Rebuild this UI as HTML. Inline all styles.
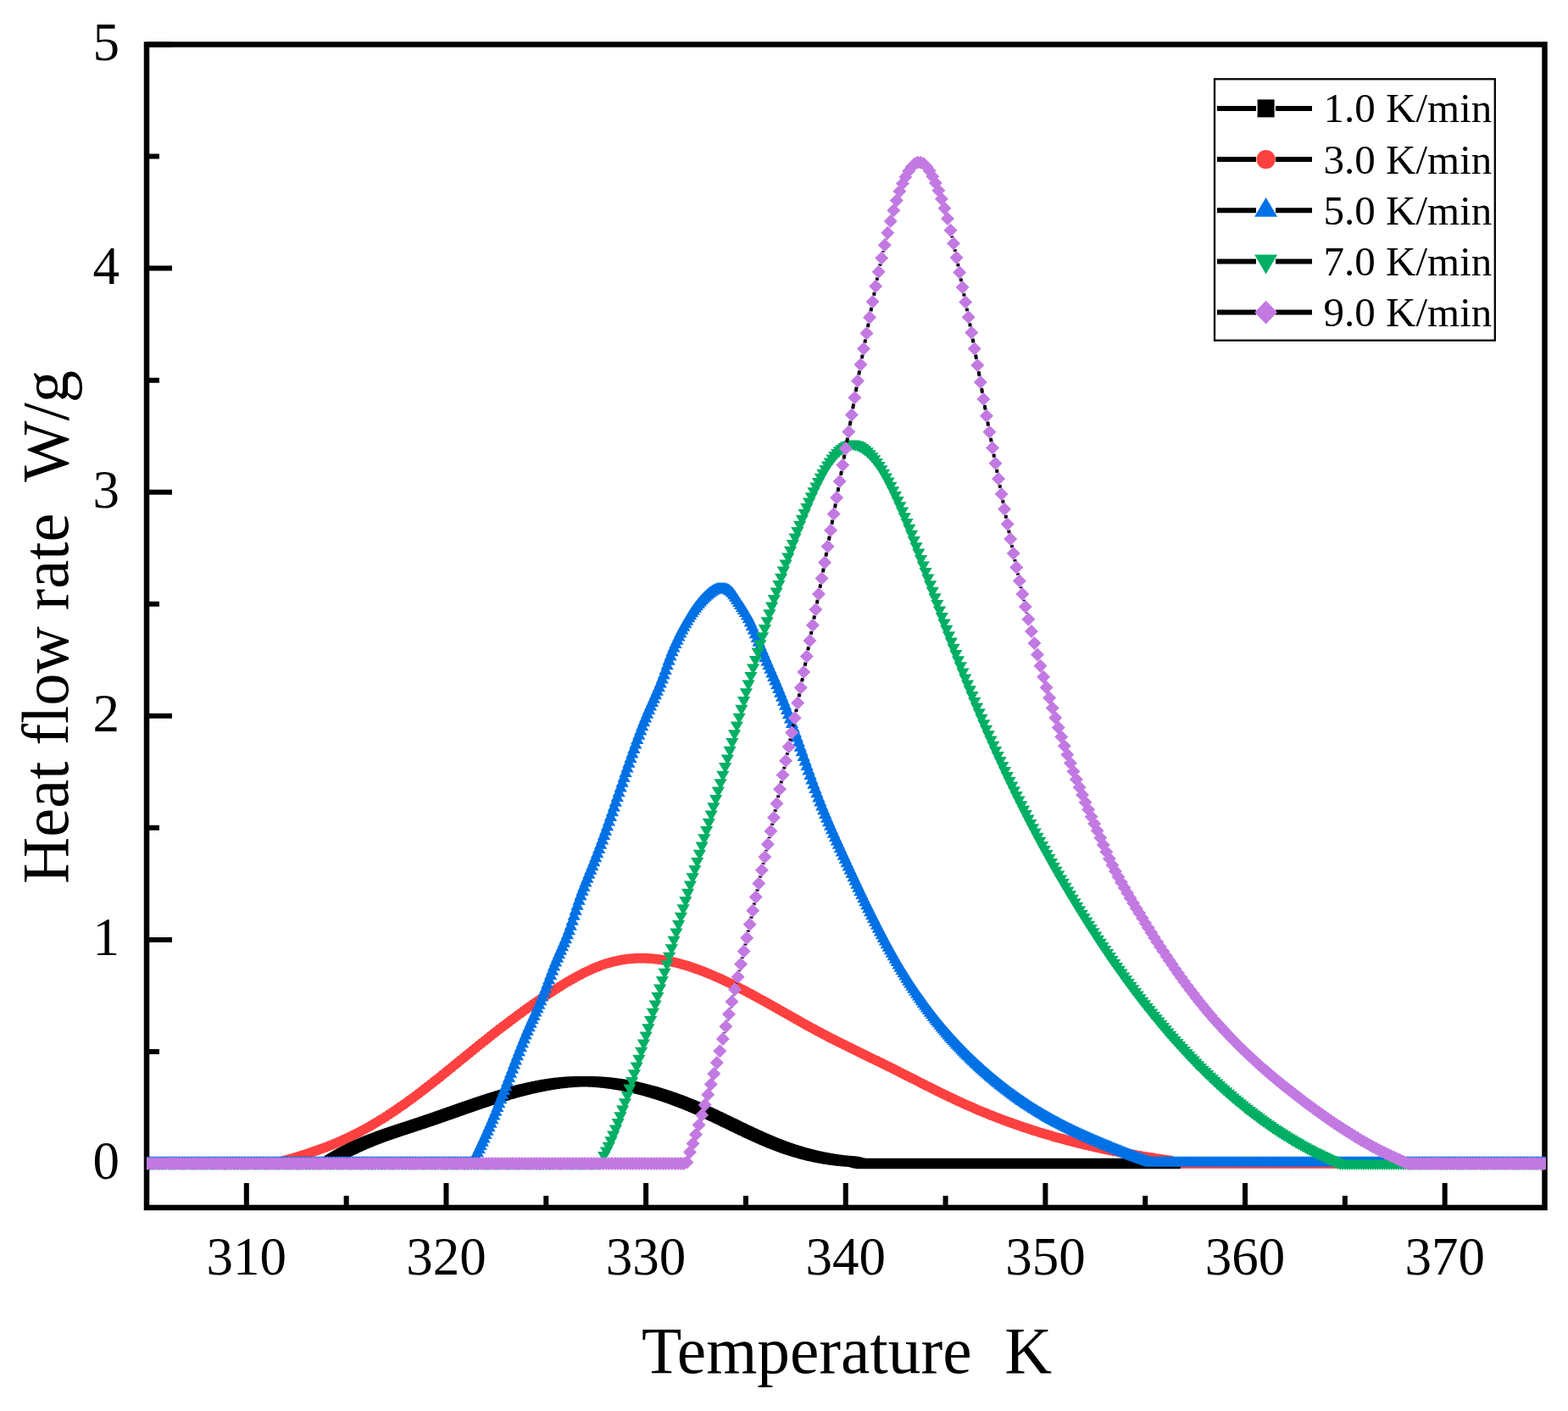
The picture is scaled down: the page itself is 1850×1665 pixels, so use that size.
<!DOCTYPE html>
<html><head><meta charset="utf-8"><title>Heat flow rate vs Temperature</title>
<style>html,body{margin:0;padding:0;background:#fff;overflow:hidden}svg{display:block}text{font-family:"Liberation Serif","Times New Roman",serif}</style>
</head><body>
<svg xmlns="http://www.w3.org/2000/svg" width="1850" height="1665" viewBox="0 0 1850 1665">
<defs><clipPath id="c"><rect x="173" y="52.5" width="1651" height="1372.5"/></clipPath></defs>
<rect width="1850" height="1665" fill="#fff"/>
<rect x="173" y="52.5" width="1649.5" height="1372.5" fill="none" stroke="#000" stroke-width="6.5"/>
<path d="M290.82 1425V1396M526.46 1425V1396M762.1 1425V1396M997.74 1425V1396M1233.38 1425V1396M1469.02 1425V1396M1704.66 1425V1396M408.64 1425V1411M644.28 1425V1411M879.92 1425V1411M1115.56 1425V1411M1351.2 1425V1411M1586.84 1425V1411M173 1373H203M173 1108.9H203M173 844.8H203M173 580.7H203M173 316.6H203M173 52.5H203M173 1240.95H188M173 976.85H188M173 712.75H188M173 448.65H188M173 184.55H188" stroke="#000" stroke-width="6" fill="none"/>
<g clip-path="url(#c)">
<path d="" fill="none" stroke="#000" stroke-width="4"/>
<path d="M166.3 1373a6 6 0 1 0 12 0a6 6 0 1 0 -12 0zM169.83 1373a6 6 0 1 0 12 0a6 6 0 1 0 -12 0zM173.37 1373a6 6 0 1 0 12 0a6 6 0 1 0 -12 0zM176.9 1373a6 6 0 1 0 12 0a6 6 0 1 0 -12 0zM180.44 1373a6 6 0 1 0 12 0a6 6 0 1 0 -12 0zM183.97 1373a6 6 0 1 0 12 0a6 6 0 1 0 -12 0zM187.51 1373a6 6 0 1 0 12 0a6 6 0 1 0 -12 0zM191.04 1373a6 6 0 1 0 12 0a6 6 0 1 0 -12 0zM194.58 1373a6 6 0 1 0 12 0a6 6 0 1 0 -12 0zM198.11 1373a6 6 0 1 0 12 0a6 6 0 1 0 -12 0zM201.65 1373a6 6 0 1 0 12 0a6 6 0 1 0 -12 0zM205.18 1373a6 6 0 1 0 12 0a6 6 0 1 0 -12 0zM208.72 1373a6 6 0 1 0 12 0a6 6 0 1 0 -12 0zM212.25 1373a6 6 0 1 0 12 0a6 6 0 1 0 -12 0zM215.78 1373a6 6 0 1 0 12 0a6 6 0 1 0 -12 0zM219.32 1373a6 6 0 1 0 12 0a6 6 0 1 0 -12 0zM222.85 1373a6 6 0 1 0 12 0a6 6 0 1 0 -12 0zM226.39 1373a6 6 0 1 0 12 0a6 6 0 1 0 -12 0zM229.92 1373a6 6 0 1 0 12 0a6 6 0 1 0 -12 0zM233.46 1373a6 6 0 1 0 12 0a6 6 0 1 0 -12 0zM236.99 1373a6 6 0 1 0 12 0a6 6 0 1 0 -12 0zM240.53 1373a6 6 0 1 0 12 0a6 6 0 1 0 -12 0zM244.06 1373a6 6 0 1 0 12 0a6 6 0 1 0 -12 0zM247.6 1373a6 6 0 1 0 12 0a6 6 0 1 0 -12 0zM251.13 1373a6 6 0 1 0 12 0a6 6 0 1 0 -12 0zM254.67 1373a6 6 0 1 0 12 0a6 6 0 1 0 -12 0zM258.2 1373a6 6 0 1 0 12 0a6 6 0 1 0 -12 0zM261.73 1373a6 6 0 1 0 12 0a6 6 0 1 0 -12 0zM265.27 1373a6 6 0 1 0 12 0a6 6 0 1 0 -12 0zM268.8 1373a6 6 0 1 0 12 0a6 6 0 1 0 -12 0zM272.34 1373a6 6 0 1 0 12 0a6 6 0 1 0 -12 0zM275.87 1373a6 6 0 1 0 12 0a6 6 0 1 0 -12 0zM279.41 1373a6 6 0 1 0 12 0a6 6 0 1 0 -12 0zM282.94 1373a6 6 0 1 0 12 0a6 6 0 1 0 -12 0zM286.48 1373a6 6 0 1 0 12 0a6 6 0 1 0 -12 0zM290.01 1373a6 6 0 1 0 12 0a6 6 0 1 0 -12 0zM293.55 1373a6 6 0 1 0 12 0a6 6 0 1 0 -12 0zM297.08 1373a6 6 0 1 0 12 0a6 6 0 1 0 -12 0zM300.61 1373a6 6 0 1 0 12 0a6 6 0 1 0 -12 0zM304.15 1373a6 6 0 1 0 12 0a6 6 0 1 0 -12 0zM307.68 1373a6 6 0 1 0 12 0a6 6 0 1 0 -12 0zM311.22 1373a6 6 0 1 0 12 0a6 6 0 1 0 -12 0zM314.75 1373a6 6 0 1 0 12 0a6 6 0 1 0 -12 0zM318.29 1372.47a6 6 0 1 0 12 0a6 6 0 1 0 -12 0zM321.82 1371.65a6 6 0 1 0 12 0a6 6 0 1 0 -12 0zM325.36 1370.77a6 6 0 1 0 12 0a6 6 0 1 0 -12 0zM328.89 1369.8a6 6 0 1 0 12 0a6 6 0 1 0 -12 0zM332.43 1368.81a6 6 0 1 0 12 0a6 6 0 1 0 -12 0zM335.96 1367.8a6 6 0 1 0 12 0a6 6 0 1 0 -12 0zM339.5 1366.76a6 6 0 1 0 12 0a6 6 0 1 0 -12 0zM343.03 1365.71a6 6 0 1 0 12 0a6 6 0 1 0 -12 0zM346.56 1364.64a6 6 0 1 0 12 0a6 6 0 1 0 -12 0zM350.1 1363.54a6 6 0 1 0 12 0a6 6 0 1 0 -12 0zM353.63 1362.41a6 6 0 1 0 12 0a6 6 0 1 0 -12 0zM357.17 1361.26a6 6 0 1 0 12 0a6 6 0 1 0 -12 0zM360.7 1360.07a6 6 0 1 0 12 0a6 6 0 1 0 -12 0zM364.24 1358.86a6 6 0 1 0 12 0a6 6 0 1 0 -12 0zM367.77 1357.62a6 6 0 1 0 12 0a6 6 0 1 0 -12 0zM371.31 1356.34a6 6 0 1 0 12 0a6 6 0 1 0 -12 0zM374.84 1355.03a6 6 0 1 0 12 0a6 6 0 1 0 -12 0zM378.38 1353.69a6 6 0 1 0 12 0a6 6 0 1 0 -12 0zM381.91 1352.31a6 6 0 1 0 12 0a6 6 0 1 0 -12 0zM385.45 1350.89a6 6 0 1 0 12 0a6 6 0 1 0 -12 0zM388.98 1349.43a6 6 0 1 0 12 0a6 6 0 1 0 -12 0zM392.51 1347.93a6 6 0 1 0 12 0a6 6 0 1 0 -12 0zM396.05 1346.39a6 6 0 1 0 12 0a6 6 0 1 0 -12 0zM399.58 1344.8a6 6 0 1 0 12 0a6 6 0 1 0 -12 0zM403.12 1343.17a6 6 0 1 0 12 0a6 6 0 1 0 -12 0zM406.65 1341.49a6 6 0 1 0 12 0a6 6 0 1 0 -12 0zM410.19 1339.77a6 6 0 1 0 12 0a6 6 0 1 0 -12 0zM413.72 1338a6 6 0 1 0 12 0a6 6 0 1 0 -12 0zM417.26 1336.18a6 6 0 1 0 12 0a6 6 0 1 0 -12 0zM420.79 1334.3a6 6 0 1 0 12 0a6 6 0 1 0 -12 0zM424.33 1332.38a6 6 0 1 0 12 0a6 6 0 1 0 -12 0zM427.86 1330.41a6 6 0 1 0 12 0a6 6 0 1 0 -12 0zM431.4 1328.4a6 6 0 1 0 12 0a6 6 0 1 0 -12 0zM434.93 1326.34a6 6 0 1 0 12 0a6 6 0 1 0 -12 0zM438.46 1324.23a6 6 0 1 0 12 0a6 6 0 1 0 -12 0zM442 1322.08a6 6 0 1 0 12 0a6 6 0 1 0 -12 0zM445.53 1319.89a6 6 0 1 0 12 0a6 6 0 1 0 -12 0zM449.07 1317.65a6 6 0 1 0 12 0a6 6 0 1 0 -12 0zM452.6 1315.37a6 6 0 1 0 12 0a6 6 0 1 0 -12 0zM456.14 1313.05a6 6 0 1 0 12 0a6 6 0 1 0 -12 0zM459.67 1310.69a6 6 0 1 0 12 0a6 6 0 1 0 -12 0zM463.21 1308.3a6 6 0 1 0 12 0a6 6 0 1 0 -12 0zM466.74 1305.86a6 6 0 1 0 12 0a6 6 0 1 0 -12 0zM470.28 1303.39a6 6 0 1 0 12 0a6 6 0 1 0 -12 0zM473.81 1300.88a6 6 0 1 0 12 0a6 6 0 1 0 -12 0zM477.34 1298.33a6 6 0 1 0 12 0a6 6 0 1 0 -12 0zM480.88 1295.75a6 6 0 1 0 12 0a6 6 0 1 0 -12 0zM484.41 1293.13a6 6 0 1 0 12 0a6 6 0 1 0 -12 0zM487.95 1290.49a6 6 0 1 0 12 0a6 6 0 1 0 -12 0zM491.48 1287.81a6 6 0 1 0 12 0a6 6 0 1 0 -12 0zM495.02 1285.1a6 6 0 1 0 12 0a6 6 0 1 0 -12 0zM498.55 1282.36a6 6 0 1 0 12 0a6 6 0 1 0 -12 0zM502.09 1279.59a6 6 0 1 0 12 0a6 6 0 1 0 -12 0zM505.62 1276.8a6 6 0 1 0 12 0a6 6 0 1 0 -12 0zM509.16 1273.99a6 6 0 1 0 12 0a6 6 0 1 0 -12 0zM512.69 1271.16a6 6 0 1 0 12 0a6 6 0 1 0 -12 0zM516.23 1268.32a6 6 0 1 0 12 0a6 6 0 1 0 -12 0zM519.76 1265.46a6 6 0 1 0 12 0a6 6 0 1 0 -12 0zM523.29 1262.59a6 6 0 1 0 12 0a6 6 0 1 0 -12 0zM526.83 1259.71a6 6 0 1 0 12 0a6 6 0 1 0 -12 0zM530.36 1256.83a6 6 0 1 0 12 0a6 6 0 1 0 -12 0zM533.9 1253.94a6 6 0 1 0 12 0a6 6 0 1 0 -12 0zM537.43 1251.05a6 6 0 1 0 12 0a6 6 0 1 0 -12 0zM540.97 1248.17a6 6 0 1 0 12 0a6 6 0 1 0 -12 0zM544.5 1245.29a6 6 0 1 0 12 0a6 6 0 1 0 -12 0zM548.04 1242.41a6 6 0 1 0 12 0a6 6 0 1 0 -12 0zM551.57 1239.55a6 6 0 1 0 12 0a6 6 0 1 0 -12 0zM555.11 1236.69a6 6 0 1 0 12 0a6 6 0 1 0 -12 0zM558.64 1233.85a6 6 0 1 0 12 0a6 6 0 1 0 -12 0zM562.18 1231.02a6 6 0 1 0 12 0a6 6 0 1 0 -12 0zM565.71 1228.2a6 6 0 1 0 12 0a6 6 0 1 0 -12 0zM569.24 1225.39a6 6 0 1 0 12 0a6 6 0 1 0 -12 0zM572.78 1222.6a6 6 0 1 0 12 0a6 6 0 1 0 -12 0zM576.31 1219.82a6 6 0 1 0 12 0a6 6 0 1 0 -12 0zM579.85 1217.06a6 6 0 1 0 12 0a6 6 0 1 0 -12 0zM583.38 1214.32a6 6 0 1 0 12 0a6 6 0 1 0 -12 0zM586.92 1211.6a6 6 0 1 0 12 0a6 6 0 1 0 -12 0zM590.45 1208.89a6 6 0 1 0 12 0a6 6 0 1 0 -12 0zM593.99 1206.21a6 6 0 1 0 12 0a6 6 0 1 0 -12 0zM597.52 1203.54a6 6 0 1 0 12 0a6 6 0 1 0 -12 0zM601.06 1200.9a6 6 0 1 0 12 0a6 6 0 1 0 -12 0zM604.59 1198.28a6 6 0 1 0 12 0a6 6 0 1 0 -12 0zM608.13 1195.68a6 6 0 1 0 12 0a6 6 0 1 0 -12 0zM611.66 1193.11a6 6 0 1 0 12 0a6 6 0 1 0 -12 0zM615.19 1190.56a6 6 0 1 0 12 0a6 6 0 1 0 -12 0zM618.73 1188.04a6 6 0 1 0 12 0a6 6 0 1 0 -12 0zM622.26 1185.54a6 6 0 1 0 12 0a6 6 0 1 0 -12 0zM625.8 1183.08a6 6 0 1 0 12 0a6 6 0 1 0 -12 0zM629.33 1180.64a6 6 0 1 0 12 0a6 6 0 1 0 -12 0zM632.87 1178.23a6 6 0 1 0 12 0a6 6 0 1 0 -12 0zM636.4 1175.85a6 6 0 1 0 12 0a6 6 0 1 0 -12 0zM639.94 1173.5a6 6 0 1 0 12 0a6 6 0 1 0 -12 0zM643.47 1171.18a6 6 0 1 0 12 0a6 6 0 1 0 -12 0zM647.01 1168.9a6 6 0 1 0 12 0a6 6 0 1 0 -12 0zM650.54 1166.65a6 6 0 1 0 12 0a6 6 0 1 0 -12 0zM654.07 1164.44a6 6 0 1 0 12 0a6 6 0 1 0 -12 0zM657.61 1162.26a6 6 0 1 0 12 0a6 6 0 1 0 -12 0zM661.14 1160.12a6 6 0 1 0 12 0a6 6 0 1 0 -12 0zM664.68 1158.03a6 6 0 1 0 12 0a6 6 0 1 0 -12 0zM668.21 1155.98a6 6 0 1 0 12 0a6 6 0 1 0 -12 0zM671.75 1153.99a6 6 0 1 0 12 0a6 6 0 1 0 -12 0zM675.28 1152.06a6 6 0 1 0 12 0a6 6 0 1 0 -12 0zM678.82 1150.18a6 6 0 1 0 12 0a6 6 0 1 0 -12 0zM682.35 1148.37a6 6 0 1 0 12 0a6 6 0 1 0 -12 0zM685.89 1146.63a6 6 0 1 0 12 0a6 6 0 1 0 -12 0zM689.42 1144.96a6 6 0 1 0 12 0a6 6 0 1 0 -12 0zM692.96 1143.37a6 6 0 1 0 12 0a6 6 0 1 0 -12 0zM696.49 1141.86a6 6 0 1 0 12 0a6 6 0 1 0 -12 0zM700.02 1140.44a6 6 0 1 0 12 0a6 6 0 1 0 -12 0zM703.56 1139.1a6 6 0 1 0 12 0a6 6 0 1 0 -12 0zM707.09 1137.86a6 6 0 1 0 12 0a6 6 0 1 0 -12 0zM710.63 1136.72a6 6 0 1 0 12 0a6 6 0 1 0 -12 0zM714.16 1135.68a6 6 0 1 0 12 0a6 6 0 1 0 -12 0zM717.7 1134.74a6 6 0 1 0 12 0a6 6 0 1 0 -12 0zM721.23 1133.9a6 6 0 1 0 12 0a6 6 0 1 0 -12 0zM724.77 1133.17a6 6 0 1 0 12 0a6 6 0 1 0 -12 0zM728.3 1132.54a6 6 0 1 0 12 0a6 6 0 1 0 -12 0zM731.84 1132.01a6 6 0 1 0 12 0a6 6 0 1 0 -12 0zM735.37 1131.57a6 6 0 1 0 12 0a6 6 0 1 0 -12 0zM738.91 1131.22a6 6 0 1 0 12 0a6 6 0 1 0 -12 0zM742.44 1130.97a6 6 0 1 0 12 0a6 6 0 1 0 -12 0zM745.97 1130.81a6 6 0 1 0 12 0a6 6 0 1 0 -12 0zM749.51 1130.74a6 6 0 1 0 12 0a6 6 0 1 0 -12 0zM753.04 1130.75a6 6 0 1 0 12 0a6 6 0 1 0 -12 0zM756.58 1130.85a6 6 0 1 0 12 0a6 6 0 1 0 -12 0zM760.11 1131.03a6 6 0 1 0 12 0a6 6 0 1 0 -12 0zM763.65 1131.29a6 6 0 1 0 12 0a6 6 0 1 0 -12 0zM767.18 1131.63a6 6 0 1 0 12 0a6 6 0 1 0 -12 0zM770.72 1132.05a6 6 0 1 0 12 0a6 6 0 1 0 -12 0zM774.25 1132.55a6 6 0 1 0 12 0a6 6 0 1 0 -12 0zM777.79 1133.11a6 6 0 1 0 12 0a6 6 0 1 0 -12 0zM781.32 1133.75a6 6 0 1 0 12 0a6 6 0 1 0 -12 0zM784.86 1134.46a6 6 0 1 0 12 0a6 6 0 1 0 -12 0zM788.39 1135.24a6 6 0 1 0 12 0a6 6 0 1 0 -12 0zM791.92 1136.08a6 6 0 1 0 12 0a6 6 0 1 0 -12 0zM795.46 1136.98a6 6 0 1 0 12 0a6 6 0 1 0 -12 0zM798.99 1137.95a6 6 0 1 0 12 0a6 6 0 1 0 -12 0zM802.53 1138.98a6 6 0 1 0 12 0a6 6 0 1 0 -12 0zM806.06 1140.07a6 6 0 1 0 12 0a6 6 0 1 0 -12 0zM809.6 1141.21a6 6 0 1 0 12 0a6 6 0 1 0 -12 0zM813.13 1142.41a6 6 0 1 0 12 0a6 6 0 1 0 -12 0zM816.67 1143.66a6 6 0 1 0 12 0a6 6 0 1 0 -12 0zM820.2 1144.96a6 6 0 1 0 12 0a6 6 0 1 0 -12 0zM823.74 1146.31a6 6 0 1 0 12 0a6 6 0 1 0 -12 0zM827.27 1147.7a6 6 0 1 0 12 0a6 6 0 1 0 -12 0zM830.8 1149.14a6 6 0 1 0 12 0a6 6 0 1 0 -12 0zM834.34 1150.63a6 6 0 1 0 12 0a6 6 0 1 0 -12 0zM837.87 1152.16a6 6 0 1 0 12 0a6 6 0 1 0 -12 0zM841.41 1153.72a6 6 0 1 0 12 0a6 6 0 1 0 -12 0zM844.94 1155.33a6 6 0 1 0 12 0a6 6 0 1 0 -12 0zM848.48 1156.97a6 6 0 1 0 12 0a6 6 0 1 0 -12 0zM852.01 1158.64a6 6 0 1 0 12 0a6 6 0 1 0 -12 0zM855.55 1160.35a6 6 0 1 0 12 0a6 6 0 1 0 -12 0zM859.08 1162.09a6 6 0 1 0 12 0a6 6 0 1 0 -12 0zM862.62 1163.86a6 6 0 1 0 12 0a6 6 0 1 0 -12 0zM866.15 1165.66a6 6 0 1 0 12 0a6 6 0 1 0 -12 0zM869.69 1167.48a6 6 0 1 0 12 0a6 6 0 1 0 -12 0zM873.22 1169.33a6 6 0 1 0 12 0a6 6 0 1 0 -12 0zM876.75 1171.2a6 6 0 1 0 12 0a6 6 0 1 0 -12 0zM880.29 1173.09a6 6 0 1 0 12 0a6 6 0 1 0 -12 0zM883.82 1175a6 6 0 1 0 12 0a6 6 0 1 0 -12 0zM887.36 1176.93a6 6 0 1 0 12 0a6 6 0 1 0 -12 0zM890.89 1178.88a6 6 0 1 0 12 0a6 6 0 1 0 -12 0zM894.43 1180.83a6 6 0 1 0 12 0a6 6 0 1 0 -12 0zM897.96 1182.8a6 6 0 1 0 12 0a6 6 0 1 0 -12 0zM901.5 1184.78a6 6 0 1 0 12 0a6 6 0 1 0 -12 0zM905.03 1186.77a6 6 0 1 0 12 0a6 6 0 1 0 -12 0zM908.57 1188.77a6 6 0 1 0 12 0a6 6 0 1 0 -12 0zM912.1 1190.77a6 6 0 1 0 12 0a6 6 0 1 0 -12 0zM915.64 1192.77a6 6 0 1 0 12 0a6 6 0 1 0 -12 0zM919.17 1194.78a6 6 0 1 0 12 0a6 6 0 1 0 -12 0zM922.7 1196.78a6 6 0 1 0 12 0a6 6 0 1 0 -12 0zM926.24 1198.79a6 6 0 1 0 12 0a6 6 0 1 0 -12 0zM929.77 1200.79a6 6 0 1 0 12 0a6 6 0 1 0 -12 0zM933.31 1202.79a6 6 0 1 0 12 0a6 6 0 1 0 -12 0zM936.84 1204.77a6 6 0 1 0 12 0a6 6 0 1 0 -12 0zM940.38 1206.75a6 6 0 1 0 12 0a6 6 0 1 0 -12 0zM943.91 1208.72a6 6 0 1 0 12 0a6 6 0 1 0 -12 0zM947.45 1210.68a6 6 0 1 0 12 0a6 6 0 1 0 -12 0zM950.98 1212.63a6 6 0 1 0 12 0a6 6 0 1 0 -12 0zM954.52 1214.55a6 6 0 1 0 12 0a6 6 0 1 0 -12 0zM958.05 1216.46a6 6 0 1 0 12 0a6 6 0 1 0 -12 0zM961.59 1218.36a6 6 0 1 0 12 0a6 6 0 1 0 -12 0zM965.12 1220.23a6 6 0 1 0 12 0a6 6 0 1 0 -12 0zM968.65 1222.08a6 6 0 1 0 12 0a6 6 0 1 0 -12 0zM972.19 1223.91a6 6 0 1 0 12 0a6 6 0 1 0 -12 0zM975.72 1225.73a6 6 0 1 0 12 0a6 6 0 1 0 -12 0zM979.26 1227.53a6 6 0 1 0 12 0a6 6 0 1 0 -12 0zM982.79 1229.31a6 6 0 1 0 12 0a6 6 0 1 0 -12 0zM986.33 1231.09a6 6 0 1 0 12 0a6 6 0 1 0 -12 0zM989.86 1232.85a6 6 0 1 0 12 0a6 6 0 1 0 -12 0zM993.4 1234.6a6 6 0 1 0 12 0a6 6 0 1 0 -12 0zM996.93 1236.34a6 6 0 1 0 12 0a6 6 0 1 0 -12 0zM1000.47 1238.08a6 6 0 1 0 12 0a6 6 0 1 0 -12 0zM1004 1239.81a6 6 0 1 0 12 0a6 6 0 1 0 -12 0zM1007.53 1241.53a6 6 0 1 0 12 0a6 6 0 1 0 -12 0zM1011.07 1243.25a6 6 0 1 0 12 0a6 6 0 1 0 -12 0zM1014.6 1244.97a6 6 0 1 0 12 0a6 6 0 1 0 -12 0zM1018.14 1246.69a6 6 0 1 0 12 0a6 6 0 1 0 -12 0zM1021.67 1248.41a6 6 0 1 0 12 0a6 6 0 1 0 -12 0zM1025.21 1250.13a6 6 0 1 0 12 0a6 6 0 1 0 -12 0zM1028.74 1251.85a6 6 0 1 0 12 0a6 6 0 1 0 -12 0zM1032.28 1253.58a6 6 0 1 0 12 0a6 6 0 1 0 -12 0zM1035.81 1255.32a6 6 0 1 0 12 0a6 6 0 1 0 -12 0zM1039.35 1257.06a6 6 0 1 0 12 0a6 6 0 1 0 -12 0zM1042.88 1258.81a6 6 0 1 0 12 0a6 6 0 1 0 -12 0zM1046.42 1260.57a6 6 0 1 0 12 0a6 6 0 1 0 -12 0zM1049.95 1262.34a6 6 0 1 0 12 0a6 6 0 1 0 -12 0zM1053.48 1264.11a6 6 0 1 0 12 0a6 6 0 1 0 -12 0zM1057.02 1265.89a6 6 0 1 0 12 0a6 6 0 1 0 -12 0zM1060.55 1267.68a6 6 0 1 0 12 0a6 6 0 1 0 -12 0zM1064.09 1269.47a6 6 0 1 0 12 0a6 6 0 1 0 -12 0zM1067.62 1271.26a6 6 0 1 0 12 0a6 6 0 1 0 -12 0zM1071.16 1273.05a6 6 0 1 0 12 0a6 6 0 1 0 -12 0zM1074.69 1274.84a6 6 0 1 0 12 0a6 6 0 1 0 -12 0zM1078.23 1276.63a6 6 0 1 0 12 0a6 6 0 1 0 -12 0zM1081.76 1278.42a6 6 0 1 0 12 0a6 6 0 1 0 -12 0zM1085.3 1280.2a6 6 0 1 0 12 0a6 6 0 1 0 -12 0zM1088.83 1281.97a6 6 0 1 0 12 0a6 6 0 1 0 -12 0zM1092.37 1283.74a6 6 0 1 0 12 0a6 6 0 1 0 -12 0zM1095.9 1285.51a6 6 0 1 0 12 0a6 6 0 1 0 -12 0zM1099.43 1287.26a6 6 0 1 0 12 0a6 6 0 1 0 -12 0zM1102.97 1289a6 6 0 1 0 12 0a6 6 0 1 0 -12 0zM1106.5 1290.73a6 6 0 1 0 12 0a6 6 0 1 0 -12 0zM1110.04 1292.45a6 6 0 1 0 12 0a6 6 0 1 0 -12 0zM1113.57 1294.15a6 6 0 1 0 12 0a6 6 0 1 0 -12 0zM1117.11 1295.84a6 6 0 1 0 12 0a6 6 0 1 0 -12 0zM1120.64 1297.51a6 6 0 1 0 12 0a6 6 0 1 0 -12 0zM1124.18 1299.16a6 6 0 1 0 12 0a6 6 0 1 0 -12 0zM1127.71 1300.8a6 6 0 1 0 12 0a6 6 0 1 0 -12 0zM1131.25 1302.41a6 6 0 1 0 12 0a6 6 0 1 0 -12 0zM1134.78 1304a6 6 0 1 0 12 0a6 6 0 1 0 -12 0zM1138.32 1305.57a6 6 0 1 0 12 0a6 6 0 1 0 -12 0zM1141.85 1307.12a6 6 0 1 0 12 0a6 6 0 1 0 -12 0zM1145.38 1308.64a6 6 0 1 0 12 0a6 6 0 1 0 -12 0zM1148.92 1310.15a6 6 0 1 0 12 0a6 6 0 1 0 -12 0zM1152.45 1311.63a6 6 0 1 0 12 0a6 6 0 1 0 -12 0zM1155.99 1313.09a6 6 0 1 0 12 0a6 6 0 1 0 -12 0zM1159.52 1314.52a6 6 0 1 0 12 0a6 6 0 1 0 -12 0zM1163.06 1315.94a6 6 0 1 0 12 0a6 6 0 1 0 -12 0zM1166.59 1317.34a6 6 0 1 0 12 0a6 6 0 1 0 -12 0zM1170.13 1318.71a6 6 0 1 0 12 0a6 6 0 1 0 -12 0zM1173.66 1320.07a6 6 0 1 0 12 0a6 6 0 1 0 -12 0zM1177.2 1321.4a6 6 0 1 0 12 0a6 6 0 1 0 -12 0zM1180.73 1322.71a6 6 0 1 0 12 0a6 6 0 1 0 -12 0zM1184.26 1324.01a6 6 0 1 0 12 0a6 6 0 1 0 -12 0zM1187.8 1325.28a6 6 0 1 0 12 0a6 6 0 1 0 -12 0zM1191.33 1326.53a6 6 0 1 0 12 0a6 6 0 1 0 -12 0zM1194.87 1327.77a6 6 0 1 0 12 0a6 6 0 1 0 -12 0zM1198.4 1328.98a6 6 0 1 0 12 0a6 6 0 1 0 -12 0zM1201.94 1330.18a6 6 0 1 0 12 0a6 6 0 1 0 -12 0zM1205.47 1331.36a6 6 0 1 0 12 0a6 6 0 1 0 -12 0zM1209.01 1332.52a6 6 0 1 0 12 0a6 6 0 1 0 -12 0zM1212.54 1333.66a6 6 0 1 0 12 0a6 6 0 1 0 -12 0zM1216.08 1334.78a6 6 0 1 0 12 0a6 6 0 1 0 -12 0zM1219.61 1335.88a6 6 0 1 0 12 0a6 6 0 1 0 -12 0zM1223.15 1336.97a6 6 0 1 0 12 0a6 6 0 1 0 -12 0zM1226.68 1338.04a6 6 0 1 0 12 0a6 6 0 1 0 -12 0zM1230.21 1339.09a6 6 0 1 0 12 0a6 6 0 1 0 -12 0zM1233.75 1340.12a6 6 0 1 0 12 0a6 6 0 1 0 -12 0zM1237.28 1341.14a6 6 0 1 0 12 0a6 6 0 1 0 -12 0zM1240.82 1342.14a6 6 0 1 0 12 0a6 6 0 1 0 -12 0zM1244.35 1343.12a6 6 0 1 0 12 0a6 6 0 1 0 -12 0zM1247.89 1344.08a6 6 0 1 0 12 0a6 6 0 1 0 -12 0zM1251.42 1345.03a6 6 0 1 0 12 0a6 6 0 1 0 -12 0zM1254.96 1345.97a6 6 0 1 0 12 0a6 6 0 1 0 -12 0zM1258.49 1346.88a6 6 0 1 0 12 0a6 6 0 1 0 -12 0zM1262.03 1347.79a6 6 0 1 0 12 0a6 6 0 1 0 -12 0zM1265.56 1348.67a6 6 0 1 0 12 0a6 6 0 1 0 -12 0zM1269.1 1349.54a6 6 0 1 0 12 0a6 6 0 1 0 -12 0zM1272.63 1350.4a6 6 0 1 0 12 0a6 6 0 1 0 -12 0zM1276.16 1351.24a6 6 0 1 0 12 0a6 6 0 1 0 -12 0zM1279.7 1352.07a6 6 0 1 0 12 0a6 6 0 1 0 -12 0zM1283.23 1352.88a6 6 0 1 0 12 0a6 6 0 1 0 -12 0zM1286.77 1353.67a6 6 0 1 0 12 0a6 6 0 1 0 -12 0zM1290.3 1354.46a6 6 0 1 0 12 0a6 6 0 1 0 -12 0zM1293.84 1355.22a6 6 0 1 0 12 0a6 6 0 1 0 -12 0zM1297.37 1355.98a6 6 0 1 0 12 0a6 6 0 1 0 -12 0zM1300.91 1356.72a6 6 0 1 0 12 0a6 6 0 1 0 -12 0zM1304.44 1357.45a6 6 0 1 0 12 0a6 6 0 1 0 -12 0zM1307.98 1358.16a6 6 0 1 0 12 0a6 6 0 1 0 -12 0zM1311.51 1358.86a6 6 0 1 0 12 0a6 6 0 1 0 -12 0zM1315.05 1359.55a6 6 0 1 0 12 0a6 6 0 1 0 -12 0zM1318.58 1360.23a6 6 0 1 0 12 0a6 6 0 1 0 -12 0zM1322.11 1360.89a6 6 0 1 0 12 0a6 6 0 1 0 -12 0zM1325.65 1361.54a6 6 0 1 0 12 0a6 6 0 1 0 -12 0zM1329.18 1362.18a6 6 0 1 0 12 0a6 6 0 1 0 -12 0zM1332.72 1362.81a6 6 0 1 0 12 0a6 6 0 1 0 -12 0zM1336.25 1363.43a6 6 0 1 0 12 0a6 6 0 1 0 -12 0zM1339.79 1364.03a6 6 0 1 0 12 0a6 6 0 1 0 -12 0zM1343.32 1364.63a6 6 0 1 0 12 0a6 6 0 1 0 -12 0zM1346.86 1365.21a6 6 0 1 0 12 0a6 6 0 1 0 -12 0zM1350.39 1365.78a6 6 0 1 0 12 0a6 6 0 1 0 -12 0zM1353.93 1366.34a6 6 0 1 0 12 0a6 6 0 1 0 -12 0zM1357.46 1366.89a6 6 0 1 0 12 0a6 6 0 1 0 -12 0zM1360.99 1367.43a6 6 0 1 0 12 0a6 6 0 1 0 -12 0zM1364.53 1367.96a6 6 0 1 0 12 0a6 6 0 1 0 -12 0zM1368.06 1368.48a6 6 0 1 0 12 0a6 6 0 1 0 -12 0zM1371.6 1368.99a6 6 0 1 0 12 0a6 6 0 1 0 -12 0zM1375.13 1369.5a6 6 0 1 0 12 0a6 6 0 1 0 -12 0zM1378.67 1370.89a6 6 0 1 0 12 0a6 6 0 1 0 -12 0zM1382.2 1372.29a6 6 0 1 0 12 0a6 6 0 1 0 -12 0zM1385.74 1373a6 6 0 1 0 12 0a6 6 0 1 0 -12 0zM1389.27 1373a6 6 0 1 0 12 0a6 6 0 1 0 -12 0zM1392.81 1373a6 6 0 1 0 12 0a6 6 0 1 0 -12 0zM1396.34 1373a6 6 0 1 0 12 0a6 6 0 1 0 -12 0zM1399.88 1373a6 6 0 1 0 12 0a6 6 0 1 0 -12 0zM1403.41 1373a6 6 0 1 0 12 0a6 6 0 1 0 -12 0zM1406.94 1373a6 6 0 1 0 12 0a6 6 0 1 0 -12 0zM1410.48 1373a6 6 0 1 0 12 0a6 6 0 1 0 -12 0zM1414.01 1373a6 6 0 1 0 12 0a6 6 0 1 0 -12 0zM1417.55 1373a6 6 0 1 0 12 0a6 6 0 1 0 -12 0zM1421.08 1373a6 6 0 1 0 12 0a6 6 0 1 0 -12 0zM1424.62 1373a6 6 0 1 0 12 0a6 6 0 1 0 -12 0zM1428.15 1373a6 6 0 1 0 12 0a6 6 0 1 0 -12 0zM1431.69 1373a6 6 0 1 0 12 0a6 6 0 1 0 -12 0zM1435.22 1373a6 6 0 1 0 12 0a6 6 0 1 0 -12 0zM1438.76 1373a6 6 0 1 0 12 0a6 6 0 1 0 -12 0zM1442.29 1373a6 6 0 1 0 12 0a6 6 0 1 0 -12 0zM1445.83 1373a6 6 0 1 0 12 0a6 6 0 1 0 -12 0zM1449.36 1373a6 6 0 1 0 12 0a6 6 0 1 0 -12 0zM1452.89 1373a6 6 0 1 0 12 0a6 6 0 1 0 -12 0zM1456.43 1373a6 6 0 1 0 12 0a6 6 0 1 0 -12 0zM1459.96 1373a6 6 0 1 0 12 0a6 6 0 1 0 -12 0zM1463.5 1373a6 6 0 1 0 12 0a6 6 0 1 0 -12 0zM1467.03 1373a6 6 0 1 0 12 0a6 6 0 1 0 -12 0zM1470.57 1373a6 6 0 1 0 12 0a6 6 0 1 0 -12 0zM1474.1 1373a6 6 0 1 0 12 0a6 6 0 1 0 -12 0zM1477.64 1373a6 6 0 1 0 12 0a6 6 0 1 0 -12 0zM1481.17 1373a6 6 0 1 0 12 0a6 6 0 1 0 -12 0zM1484.71 1373a6 6 0 1 0 12 0a6 6 0 1 0 -12 0zM1488.24 1373a6 6 0 1 0 12 0a6 6 0 1 0 -12 0zM1491.78 1373a6 6 0 1 0 12 0a6 6 0 1 0 -12 0zM1495.31 1373a6 6 0 1 0 12 0a6 6 0 1 0 -12 0zM1498.84 1373a6 6 0 1 0 12 0a6 6 0 1 0 -12 0zM1502.38 1373a6 6 0 1 0 12 0a6 6 0 1 0 -12 0zM1505.91 1373a6 6 0 1 0 12 0a6 6 0 1 0 -12 0zM1509.45 1373a6 6 0 1 0 12 0a6 6 0 1 0 -12 0zM1512.98 1373a6 6 0 1 0 12 0a6 6 0 1 0 -12 0zM1516.52 1373a6 6 0 1 0 12 0a6 6 0 1 0 -12 0zM1520.05 1373a6 6 0 1 0 12 0a6 6 0 1 0 -12 0zM1523.59 1373a6 6 0 1 0 12 0a6 6 0 1 0 -12 0zM1527.12 1373a6 6 0 1 0 12 0a6 6 0 1 0 -12 0zM1530.66 1373a6 6 0 1 0 12 0a6 6 0 1 0 -12 0zM1534.19 1373a6 6 0 1 0 12 0a6 6 0 1 0 -12 0zM1537.72 1373a6 6 0 1 0 12 0a6 6 0 1 0 -12 0zM1541.26 1373a6 6 0 1 0 12 0a6 6 0 1 0 -12 0zM1544.79 1373a6 6 0 1 0 12 0a6 6 0 1 0 -12 0zM1548.33 1373a6 6 0 1 0 12 0a6 6 0 1 0 -12 0zM1551.86 1373a6 6 0 1 0 12 0a6 6 0 1 0 -12 0zM1555.4 1373a6 6 0 1 0 12 0a6 6 0 1 0 -12 0zM1558.93 1373a6 6 0 1 0 12 0a6 6 0 1 0 -12 0zM1562.47 1373a6 6 0 1 0 12 0a6 6 0 1 0 -12 0zM1566 1373a6 6 0 1 0 12 0a6 6 0 1 0 -12 0zM1569.54 1373a6 6 0 1 0 12 0a6 6 0 1 0 -12 0zM1573.07 1373a6 6 0 1 0 12 0a6 6 0 1 0 -12 0zM1576.61 1373a6 6 0 1 0 12 0a6 6 0 1 0 -12 0zM1580.14 1373a6 6 0 1 0 12 0a6 6 0 1 0 -12 0zM1583.67 1373a6 6 0 1 0 12 0a6 6 0 1 0 -12 0zM1587.21 1373a6 6 0 1 0 12 0a6 6 0 1 0 -12 0zM1590.74 1373a6 6 0 1 0 12 0a6 6 0 1 0 -12 0zM1594.28 1373a6 6 0 1 0 12 0a6 6 0 1 0 -12 0zM1597.81 1373a6 6 0 1 0 12 0a6 6 0 1 0 -12 0zM1601.35 1373a6 6 0 1 0 12 0a6 6 0 1 0 -12 0zM1604.88 1373a6 6 0 1 0 12 0a6 6 0 1 0 -12 0zM1608.42 1373a6 6 0 1 0 12 0a6 6 0 1 0 -12 0zM1611.95 1373a6 6 0 1 0 12 0a6 6 0 1 0 -12 0zM1615.49 1373a6 6 0 1 0 12 0a6 6 0 1 0 -12 0zM1619.02 1373a6 6 0 1 0 12 0a6 6 0 1 0 -12 0zM1622.56 1373a6 6 0 1 0 12 0a6 6 0 1 0 -12 0zM1626.09 1373a6 6 0 1 0 12 0a6 6 0 1 0 -12 0zM1629.62 1373a6 6 0 1 0 12 0a6 6 0 1 0 -12 0zM1633.16 1373a6 6 0 1 0 12 0a6 6 0 1 0 -12 0zM1636.69 1373a6 6 0 1 0 12 0a6 6 0 1 0 -12 0zM1640.23 1373a6 6 0 1 0 12 0a6 6 0 1 0 -12 0zM1643.76 1373a6 6 0 1 0 12 0a6 6 0 1 0 -12 0zM1647.3 1373a6 6 0 1 0 12 0a6 6 0 1 0 -12 0zM1650.83 1373a6 6 0 1 0 12 0a6 6 0 1 0 -12 0zM1654.37 1373a6 6 0 1 0 12 0a6 6 0 1 0 -12 0zM1657.9 1373a6 6 0 1 0 12 0a6 6 0 1 0 -12 0zM1661.44 1373a6 6 0 1 0 12 0a6 6 0 1 0 -12 0zM1664.97 1373a6 6 0 1 0 12 0a6 6 0 1 0 -12 0zM1668.51 1373a6 6 0 1 0 12 0a6 6 0 1 0 -12 0zM1672.04 1373a6 6 0 1 0 12 0a6 6 0 1 0 -12 0zM1675.57 1373a6 6 0 1 0 12 0a6 6 0 1 0 -12 0zM1679.11 1373a6 6 0 1 0 12 0a6 6 0 1 0 -12 0zM1682.64 1373a6 6 0 1 0 12 0a6 6 0 1 0 -12 0zM1686.18 1373a6 6 0 1 0 12 0a6 6 0 1 0 -12 0zM1689.71 1373a6 6 0 1 0 12 0a6 6 0 1 0 -12 0zM1693.25 1373a6 6 0 1 0 12 0a6 6 0 1 0 -12 0zM1696.78 1373a6 6 0 1 0 12 0a6 6 0 1 0 -12 0zM1700.32 1373a6 6 0 1 0 12 0a6 6 0 1 0 -12 0zM1703.85 1373a6 6 0 1 0 12 0a6 6 0 1 0 -12 0zM1707.39 1373a6 6 0 1 0 12 0a6 6 0 1 0 -12 0zM1710.92 1373a6 6 0 1 0 12 0a6 6 0 1 0 -12 0zM1714.45 1373a6 6 0 1 0 12 0a6 6 0 1 0 -12 0zM1717.99 1373a6 6 0 1 0 12 0a6 6 0 1 0 -12 0zM1721.52 1373a6 6 0 1 0 12 0a6 6 0 1 0 -12 0zM1725.06 1373a6 6 0 1 0 12 0a6 6 0 1 0 -12 0zM1728.59 1373a6 6 0 1 0 12 0a6 6 0 1 0 -12 0zM1732.13 1373a6 6 0 1 0 12 0a6 6 0 1 0 -12 0zM1735.66 1373a6 6 0 1 0 12 0a6 6 0 1 0 -12 0zM1739.2 1373a6 6 0 1 0 12 0a6 6 0 1 0 -12 0zM1742.73 1373a6 6 0 1 0 12 0a6 6 0 1 0 -12 0zM1746.27 1373a6 6 0 1 0 12 0a6 6 0 1 0 -12 0zM1749.8 1373a6 6 0 1 0 12 0a6 6 0 1 0 -12 0zM1753.34 1373a6 6 0 1 0 12 0a6 6 0 1 0 -12 0zM1756.87 1373a6 6 0 1 0 12 0a6 6 0 1 0 -12 0zM1760.4 1373a6 6 0 1 0 12 0a6 6 0 1 0 -12 0zM1763.94 1373a6 6 0 1 0 12 0a6 6 0 1 0 -12 0zM1767.47 1373a6 6 0 1 0 12 0a6 6 0 1 0 -12 0zM1771.01 1373a6 6 0 1 0 12 0a6 6 0 1 0 -12 0zM1774.54 1373a6 6 0 1 0 12 0a6 6 0 1 0 -12 0zM1778.08 1373a6 6 0 1 0 12 0a6 6 0 1 0 -12 0zM1781.61 1373a6 6 0 1 0 12 0a6 6 0 1 0 -12 0zM1785.15 1373a6 6 0 1 0 12 0a6 6 0 1 0 -12 0zM1788.68 1373a6 6 0 1 0 12 0a6 6 0 1 0 -12 0zM1792.22 1373a6 6 0 1 0 12 0a6 6 0 1 0 -12 0zM1795.75 1373a6 6 0 1 0 12 0a6 6 0 1 0 -12 0zM1799.29 1373a6 6 0 1 0 12 0a6 6 0 1 0 -12 0zM1802.82 1373a6 6 0 1 0 12 0a6 6 0 1 0 -12 0zM1806.35 1373a6 6 0 1 0 12 0a6 6 0 1 0 -12 0zM1809.89 1373a6 6 0 1 0 12 0a6 6 0 1 0 -12 0zM1813.42 1373a6 6 0 1 0 12 0a6 6 0 1 0 -12 0zM1816.96 1373a6 6 0 1 0 12 0a6 6 0 1 0 -12 0zM1820.49 1373a6 6 0 1 0 12 0a6 6 0 1 0 -12 0zM1824.03 1373a6 6 0 1 0 12 0a6 6 0 1 0 -12 0z" fill="#FF4040"/>
<path d="" fill="none" stroke="#000" stroke-width="4"/>
<path d="M165.9 1366.8h12.4v12.4h-12.4zM166.88 1366.8h12.4v12.4h-12.4zM167.86 1366.8h12.4v12.4h-12.4zM168.85 1366.8h12.4v12.4h-12.4zM169.83 1366.8h12.4v12.4h-12.4zM170.81 1366.8h12.4v12.4h-12.4zM171.79 1366.8h12.4v12.4h-12.4zM172.77 1366.8h12.4v12.4h-12.4zM173.75 1366.8h12.4v12.4h-12.4zM174.74 1366.8h12.4v12.4h-12.4zM175.72 1366.8h12.4v12.4h-12.4zM176.7 1366.8h12.4v12.4h-12.4zM177.68 1366.8h12.4v12.4h-12.4zM178.66 1366.8h12.4v12.4h-12.4zM179.65 1366.8h12.4v12.4h-12.4zM180.63 1366.8h12.4v12.4h-12.4zM181.61 1366.8h12.4v12.4h-12.4zM182.59 1366.8h12.4v12.4h-12.4zM183.57 1366.8h12.4v12.4h-12.4zM184.55 1366.8h12.4v12.4h-12.4zM185.54 1366.8h12.4v12.4h-12.4zM186.52 1366.8h12.4v12.4h-12.4zM187.5 1366.8h12.4v12.4h-12.4zM188.48 1366.8h12.4v12.4h-12.4zM189.46 1366.8h12.4v12.4h-12.4zM190.45 1366.8h12.4v12.4h-12.4zM191.43 1366.8h12.4v12.4h-12.4zM192.41 1366.8h12.4v12.4h-12.4zM193.39 1366.8h12.4v12.4h-12.4zM194.37 1366.8h12.4v12.4h-12.4zM195.35 1366.8h12.4v12.4h-12.4zM196.34 1366.8h12.4v12.4h-12.4zM197.32 1366.8h12.4v12.4h-12.4zM198.3 1366.8h12.4v12.4h-12.4zM199.28 1366.8h12.4v12.4h-12.4zM200.26 1366.8h12.4v12.4h-12.4zM201.25 1366.8h12.4v12.4h-12.4zM202.23 1366.8h12.4v12.4h-12.4zM203.21 1366.8h12.4v12.4h-12.4zM204.19 1366.8h12.4v12.4h-12.4zM205.17 1366.8h12.4v12.4h-12.4zM206.16 1366.8h12.4v12.4h-12.4zM207.14 1366.8h12.4v12.4h-12.4zM208.12 1366.8h12.4v12.4h-12.4zM209.1 1366.8h12.4v12.4h-12.4zM210.08 1366.8h12.4v12.4h-12.4zM211.06 1366.8h12.4v12.4h-12.4zM212.05 1366.8h12.4v12.4h-12.4zM213.03 1366.8h12.4v12.4h-12.4zM214.01 1366.8h12.4v12.4h-12.4zM214.99 1366.8h12.4v12.4h-12.4zM215.97 1366.8h12.4v12.4h-12.4zM216.96 1366.8h12.4v12.4h-12.4zM217.94 1366.8h12.4v12.4h-12.4zM218.92 1366.8h12.4v12.4h-12.4zM219.9 1366.8h12.4v12.4h-12.4zM220.88 1366.8h12.4v12.4h-12.4zM221.86 1366.8h12.4v12.4h-12.4zM222.85 1366.8h12.4v12.4h-12.4zM223.83 1366.8h12.4v12.4h-12.4zM224.81 1366.8h12.4v12.4h-12.4zM225.79 1366.8h12.4v12.4h-12.4zM226.77 1366.8h12.4v12.4h-12.4zM227.76 1366.8h12.4v12.4h-12.4zM228.74 1366.8h12.4v12.4h-12.4zM229.72 1366.8h12.4v12.4h-12.4zM230.7 1366.8h12.4v12.4h-12.4zM231.68 1366.8h12.4v12.4h-12.4zM232.66 1366.8h12.4v12.4h-12.4zM233.65 1366.8h12.4v12.4h-12.4zM234.63 1366.8h12.4v12.4h-12.4zM235.61 1366.8h12.4v12.4h-12.4zM236.59 1366.8h12.4v12.4h-12.4zM237.57 1366.8h12.4v12.4h-12.4zM238.56 1366.8h12.4v12.4h-12.4zM239.54 1366.8h12.4v12.4h-12.4zM240.52 1366.8h12.4v12.4h-12.4zM241.5 1366.8h12.4v12.4h-12.4zM242.48 1366.8h12.4v12.4h-12.4zM243.46 1366.8h12.4v12.4h-12.4zM244.45 1366.8h12.4v12.4h-12.4zM245.43 1366.8h12.4v12.4h-12.4zM246.41 1366.8h12.4v12.4h-12.4zM247.39 1366.8h12.4v12.4h-12.4zM248.37 1366.8h12.4v12.4h-12.4zM249.36 1366.8h12.4v12.4h-12.4zM250.34 1366.8h12.4v12.4h-12.4zM251.32 1366.8h12.4v12.4h-12.4zM252.3 1366.8h12.4v12.4h-12.4zM253.28 1366.8h12.4v12.4h-12.4zM254.26 1366.8h12.4v12.4h-12.4zM255.25 1366.8h12.4v12.4h-12.4zM256.23 1366.8h12.4v12.4h-12.4zM257.21 1366.8h12.4v12.4h-12.4zM258.19 1366.8h12.4v12.4h-12.4zM259.17 1366.8h12.4v12.4h-12.4zM260.16 1366.8h12.4v12.4h-12.4zM261.14 1366.8h12.4v12.4h-12.4zM262.12 1366.8h12.4v12.4h-12.4zM263.1 1366.8h12.4v12.4h-12.4zM264.08 1366.8h12.4v12.4h-12.4zM265.07 1366.8h12.4v12.4h-12.4zM266.05 1366.8h12.4v12.4h-12.4zM267.03 1366.8h12.4v12.4h-12.4zM268.01 1366.8h12.4v12.4h-12.4zM268.99 1366.8h12.4v12.4h-12.4zM269.97 1366.8h12.4v12.4h-12.4zM270.96 1366.8h12.4v12.4h-12.4zM271.94 1366.8h12.4v12.4h-12.4zM272.92 1366.8h12.4v12.4h-12.4zM273.9 1366.8h12.4v12.4h-12.4zM274.88 1366.8h12.4v12.4h-12.4zM275.87 1366.8h12.4v12.4h-12.4zM276.85 1366.8h12.4v12.4h-12.4zM277.83 1366.8h12.4v12.4h-12.4zM278.81 1366.8h12.4v12.4h-12.4zM279.79 1366.8h12.4v12.4h-12.4zM280.77 1366.8h12.4v12.4h-12.4zM281.76 1366.8h12.4v12.4h-12.4zM282.74 1366.8h12.4v12.4h-12.4zM283.72 1366.8h12.4v12.4h-12.4zM284.7 1366.8h12.4v12.4h-12.4zM285.68 1366.8h12.4v12.4h-12.4zM286.67 1366.8h12.4v12.4h-12.4zM287.65 1366.8h12.4v12.4h-12.4zM288.63 1366.8h12.4v12.4h-12.4zM289.61 1366.8h12.4v12.4h-12.4zM290.59 1366.8h12.4v12.4h-12.4zM291.57 1366.8h12.4v12.4h-12.4zM292.56 1366.8h12.4v12.4h-12.4zM293.54 1366.8h12.4v12.4h-12.4zM294.52 1366.8h12.4v12.4h-12.4zM295.5 1366.8h12.4v12.4h-12.4zM296.48 1366.8h12.4v12.4h-12.4zM297.47 1366.8h12.4v12.4h-12.4zM298.45 1366.8h12.4v12.4h-12.4zM299.43 1366.8h12.4v12.4h-12.4zM300.41 1366.8h12.4v12.4h-12.4zM301.39 1366.8h12.4v12.4h-12.4zM302.37 1366.8h12.4v12.4h-12.4zM303.36 1366.8h12.4v12.4h-12.4zM304.34 1366.8h12.4v12.4h-12.4zM305.32 1366.8h12.4v12.4h-12.4zM306.3 1366.8h12.4v12.4h-12.4zM307.28 1366.8h12.4v12.4h-12.4zM308.27 1366.8h12.4v12.4h-12.4zM309.25 1366.8h12.4v12.4h-12.4zM310.23 1366.8h12.4v12.4h-12.4zM311.21 1366.8h12.4v12.4h-12.4zM312.19 1366.8h12.4v12.4h-12.4zM313.17 1366.8h12.4v12.4h-12.4zM314.16 1366.8h12.4v12.4h-12.4zM315.14 1366.8h12.4v12.4h-12.4zM316.12 1366.8h12.4v12.4h-12.4zM317.1 1366.8h12.4v12.4h-12.4zM318.08 1366.8h12.4v12.4h-12.4zM319.07 1366.8h12.4v12.4h-12.4zM320.05 1366.8h12.4v12.4h-12.4zM321.03 1366.8h12.4v12.4h-12.4zM322.01 1366.8h12.4v12.4h-12.4zM322.99 1366.8h12.4v12.4h-12.4zM323.98 1366.8h12.4v12.4h-12.4zM324.96 1366.8h12.4v12.4h-12.4zM325.94 1366.8h12.4v12.4h-12.4zM326.92 1366.8h12.4v12.4h-12.4zM327.9 1366.8h12.4v12.4h-12.4zM328.88 1366.8h12.4v12.4h-12.4zM329.87 1366.8h12.4v12.4h-12.4zM330.85 1366.8h12.4v12.4h-12.4zM331.83 1366.8h12.4v12.4h-12.4zM332.81 1366.8h12.4v12.4h-12.4zM333.79 1366.8h12.4v12.4h-12.4zM334.78 1366.8h12.4v12.4h-12.4zM335.76 1366.8h12.4v12.4h-12.4zM336.74 1366.8h12.4v12.4h-12.4zM337.72 1366.8h12.4v12.4h-12.4zM338.7 1366.8h12.4v12.4h-12.4zM339.68 1366.8h12.4v12.4h-12.4zM340.67 1366.8h12.4v12.4h-12.4zM341.65 1366.8h12.4v12.4h-12.4zM342.63 1366.8h12.4v12.4h-12.4zM343.61 1366.8h12.4v12.4h-12.4zM344.59 1366.8h12.4v12.4h-12.4zM345.58 1366.8h12.4v12.4h-12.4zM346.56 1366.8h12.4v12.4h-12.4zM347.54 1366.8h12.4v12.4h-12.4zM348.52 1366.8h12.4v12.4h-12.4zM349.5 1366.8h12.4v12.4h-12.4zM350.48 1366.8h12.4v12.4h-12.4zM351.47 1366.8h12.4v12.4h-12.4zM352.45 1366.8h12.4v12.4h-12.4zM353.43 1366.8h12.4v12.4h-12.4zM354.41 1366.8h12.4v12.4h-12.4zM355.39 1366.8h12.4v12.4h-12.4zM356.38 1366.8h12.4v12.4h-12.4zM357.36 1366.8h12.4v12.4h-12.4zM358.34 1366.8h12.4v12.4h-12.4zM359.32 1366.8h12.4v12.4h-12.4zM360.3 1366.8h12.4v12.4h-12.4zM361.28 1366.8h12.4v12.4h-12.4zM362.27 1366.8h12.4v12.4h-12.4zM363.25 1366.8h12.4v12.4h-12.4zM364.23 1366.8h12.4v12.4h-12.4zM365.21 1366.8h12.4v12.4h-12.4zM366.19 1366.8h12.4v12.4h-12.4zM367.18 1366.8h12.4v12.4h-12.4zM368.16 1366.8h12.4v12.4h-12.4zM369.14 1366.8h12.4v12.4h-12.4zM370.12 1366.76h12.4v12.4h-12.4zM371.1 1366.65h12.4v12.4h-12.4zM372.08 1366.54h12.4v12.4h-12.4zM373.07 1366.43h12.4v12.4h-12.4zM374.05 1366.31h12.4v12.4h-12.4zM375.03 1366.2h12.4v12.4h-12.4zM376.01 1366.09h12.4v12.4h-12.4zM376.99 1365.98h12.4v12.4h-12.4zM377.98 1365.86h12.4v12.4h-12.4zM378.96 1365.75h12.4v12.4h-12.4zM379.94 1365.56h12.4v12.4h-12.4zM380.92 1364.93h12.4v12.4h-12.4zM381.9 1364.3h12.4v12.4h-12.4zM382.89 1363.67h12.4v12.4h-12.4zM383.87 1363.06h12.4v12.4h-12.4zM384.85 1362.45h12.4v12.4h-12.4zM385.83 1361.84h12.4v12.4h-12.4zM386.81 1361.24h12.4v12.4h-12.4zM387.79 1360.65h12.4v12.4h-12.4zM388.78 1360.07h12.4v12.4h-12.4zM389.76 1359.49h12.4v12.4h-12.4zM390.74 1358.91h12.4v12.4h-12.4zM391.72 1358.34h12.4v12.4h-12.4zM392.7 1357.78h12.4v12.4h-12.4zM393.69 1357.22h12.4v12.4h-12.4zM394.67 1356.67h12.4v12.4h-12.4zM395.65 1356.12h12.4v12.4h-12.4zM396.63 1355.58h12.4v12.4h-12.4zM397.61 1355.05h12.4v12.4h-12.4zM398.59 1354.52h12.4v12.4h-12.4zM399.58 1353.99h12.4v12.4h-12.4zM400.56 1353.47h12.4v12.4h-12.4zM401.54 1352.96h12.4v12.4h-12.4zM402.52 1352.45h12.4v12.4h-12.4zM403.5 1351.94h12.4v12.4h-12.4zM404.49 1351.44h12.4v12.4h-12.4zM405.47 1350.95h12.4v12.4h-12.4zM406.45 1350.46h12.4v12.4h-12.4zM407.43 1349.97h12.4v12.4h-12.4zM408.41 1349.49h12.4v12.4h-12.4zM409.39 1349.02h12.4v12.4h-12.4zM410.38 1348.54h12.4v12.4h-12.4zM411.36 1348.08h12.4v12.4h-12.4zM412.34 1347.61h12.4v12.4h-12.4zM413.32 1347.16h12.4v12.4h-12.4zM414.3 1346.7h12.4v12.4h-12.4zM415.29 1346.25h12.4v12.4h-12.4zM416.27 1345.81h12.4v12.4h-12.4zM417.25 1345.36h12.4v12.4h-12.4zM418.23 1344.93h12.4v12.4h-12.4zM419.21 1344.49h12.4v12.4h-12.4zM420.19 1344.06h12.4v12.4h-12.4zM421.18 1343.63h12.4v12.4h-12.4zM422.16 1343.21h12.4v12.4h-12.4zM423.14 1342.79h12.4v12.4h-12.4zM424.12 1342.38h12.4v12.4h-12.4zM425.1 1341.96h12.4v12.4h-12.4zM426.09 1341.56h12.4v12.4h-12.4zM427.07 1341.15h12.4v12.4h-12.4zM428.05 1340.75h12.4v12.4h-12.4zM429.03 1340.35h12.4v12.4h-12.4zM430.01 1339.96h12.4v12.4h-12.4zM430.99 1339.56h12.4v12.4h-12.4zM431.98 1339.17h12.4v12.4h-12.4zM432.96 1338.79h12.4v12.4h-12.4zM433.94 1338.4h12.4v12.4h-12.4zM434.92 1338.02h12.4v12.4h-12.4zM435.9 1337.65h12.4v12.4h-12.4zM436.89 1337.27h12.4v12.4h-12.4zM437.87 1336.9h12.4v12.4h-12.4zM438.85 1336.53h12.4v12.4h-12.4zM439.83 1336.16h12.4v12.4h-12.4zM440.81 1335.8h12.4v12.4h-12.4zM441.8 1335.44h12.4v12.4h-12.4zM442.78 1335.08h12.4v12.4h-12.4zM443.76 1334.72h12.4v12.4h-12.4zM444.74 1334.36h12.4v12.4h-12.4zM445.72 1334.01h12.4v12.4h-12.4zM446.7 1333.66h12.4v12.4h-12.4zM447.69 1333.31h12.4v12.4h-12.4zM448.67 1332.96h12.4v12.4h-12.4zM449.65 1332.62h12.4v12.4h-12.4zM450.63 1332.27h12.4v12.4h-12.4zM451.61 1331.93h12.4v12.4h-12.4zM452.6 1331.59h12.4v12.4h-12.4zM453.58 1331.25h12.4v12.4h-12.4zM454.56 1330.91h12.4v12.4h-12.4zM455.54 1330.58h12.4v12.4h-12.4zM456.52 1330.24h12.4v12.4h-12.4zM457.5 1329.91h12.4v12.4h-12.4zM458.49 1329.58h12.4v12.4h-12.4zM459.47 1329.25h12.4v12.4h-12.4zM460.45 1328.92h12.4v12.4h-12.4zM461.43 1328.59h12.4v12.4h-12.4zM462.41 1328.26h12.4v12.4h-12.4zM463.4 1327.94h12.4v12.4h-12.4zM464.38 1327.61h12.4v12.4h-12.4zM465.36 1327.29h12.4v12.4h-12.4zM466.34 1326.96h12.4v12.4h-12.4zM467.32 1326.64h12.4v12.4h-12.4zM468.3 1326.32h12.4v12.4h-12.4zM469.29 1326h12.4v12.4h-12.4zM470.27 1325.67h12.4v12.4h-12.4zM471.25 1325.35h12.4v12.4h-12.4zM472.23 1325.03h12.4v12.4h-12.4zM473.21 1324.71h12.4v12.4h-12.4zM474.2 1324.39h12.4v12.4h-12.4zM475.18 1324.07h12.4v12.4h-12.4zM476.16 1323.75h12.4v12.4h-12.4zM477.14 1323.43h12.4v12.4h-12.4zM478.12 1323.11h12.4v12.4h-12.4zM479.1 1322.79h12.4v12.4h-12.4zM480.09 1322.47h12.4v12.4h-12.4zM481.07 1322.15h12.4v12.4h-12.4zM482.05 1321.83h12.4v12.4h-12.4zM483.03 1321.51h12.4v12.4h-12.4zM484.01 1321.18h12.4v12.4h-12.4zM485 1320.86h12.4v12.4h-12.4zM485.98 1320.54h12.4v12.4h-12.4zM486.96 1320.22h12.4v12.4h-12.4zM487.94 1319.89h12.4v12.4h-12.4zM488.92 1319.57h12.4v12.4h-12.4zM489.9 1319.24h12.4v12.4h-12.4zM490.89 1318.91h12.4v12.4h-12.4zM491.87 1318.59h12.4v12.4h-12.4zM492.85 1318.26h12.4v12.4h-12.4zM493.83 1317.93h12.4v12.4h-12.4zM494.81 1317.6h12.4v12.4h-12.4zM495.8 1317.27h12.4v12.4h-12.4zM496.78 1316.93h12.4v12.4h-12.4zM497.76 1316.6h12.4v12.4h-12.4zM498.74 1316.27h12.4v12.4h-12.4zM499.72 1315.93h12.4v12.4h-12.4zM500.71 1315.6h12.4v12.4h-12.4zM501.69 1315.26h12.4v12.4h-12.4zM502.67 1314.92h12.4v12.4h-12.4zM503.65 1314.58h12.4v12.4h-12.4zM504.63 1314.25h12.4v12.4h-12.4zM505.61 1313.91h12.4v12.4h-12.4zM506.6 1313.57h12.4v12.4h-12.4zM507.58 1313.23h12.4v12.4h-12.4zM508.56 1312.89h12.4v12.4h-12.4zM509.54 1312.55h12.4v12.4h-12.4zM510.52 1312.2h12.4v12.4h-12.4zM511.51 1311.86h12.4v12.4h-12.4zM512.49 1311.52h12.4v12.4h-12.4zM513.47 1311.18h12.4v12.4h-12.4zM514.45 1310.83h12.4v12.4h-12.4zM515.43 1310.49h12.4v12.4h-12.4zM516.41 1310.15h12.4v12.4h-12.4zM517.4 1309.8h12.4v12.4h-12.4zM518.38 1309.46h12.4v12.4h-12.4zM519.36 1309.11h12.4v12.4h-12.4zM520.34 1308.77h12.4v12.4h-12.4zM521.32 1308.42h12.4v12.4h-12.4zM522.31 1308.08h12.4v12.4h-12.4zM523.29 1307.73h12.4v12.4h-12.4zM524.27 1307.39h12.4v12.4h-12.4zM525.25 1307.04h12.4v12.4h-12.4zM526.23 1306.7h12.4v12.4h-12.4zM527.21 1306.35h12.4v12.4h-12.4zM528.2 1306.01h12.4v12.4h-12.4zM529.18 1305.66h12.4v12.4h-12.4zM530.16 1305.31h12.4v12.4h-12.4zM531.14 1304.97h12.4v12.4h-12.4zM532.12 1304.62h12.4v12.4h-12.4zM533.11 1304.28h12.4v12.4h-12.4zM534.09 1303.93h12.4v12.4h-12.4zM535.07 1303.59h12.4v12.4h-12.4zM536.05 1303.25h12.4v12.4h-12.4zM537.03 1302.9h12.4v12.4h-12.4zM538.01 1302.56h12.4v12.4h-12.4zM539 1302.21h12.4v12.4h-12.4zM539.98 1301.87h12.4v12.4h-12.4zM540.96 1301.53h12.4v12.4h-12.4zM541.94 1301.19h12.4v12.4h-12.4zM542.92 1300.84h12.4v12.4h-12.4zM543.91 1300.5h12.4v12.4h-12.4zM544.89 1300.16h12.4v12.4h-12.4zM545.87 1299.82h12.4v12.4h-12.4zM546.85 1299.48h12.4v12.4h-12.4zM547.83 1299.14h12.4v12.4h-12.4zM548.81 1298.8h12.4v12.4h-12.4zM549.8 1298.47h12.4v12.4h-12.4zM550.78 1298.13h12.4v12.4h-12.4zM551.76 1297.79h12.4v12.4h-12.4zM552.74 1297.45h12.4v12.4h-12.4zM553.72 1297.12h12.4v12.4h-12.4zM554.71 1296.78h12.4v12.4h-12.4zM555.69 1296.45h12.4v12.4h-12.4zM556.67 1296.12h12.4v12.4h-12.4zM557.65 1295.79h12.4v12.4h-12.4zM558.63 1295.45h12.4v12.4h-12.4zM559.62 1295.12h12.4v12.4h-12.4zM560.6 1294.79h12.4v12.4h-12.4zM561.58 1294.47h12.4v12.4h-12.4zM562.56 1294.14h12.4v12.4h-12.4zM563.54 1293.81h12.4v12.4h-12.4zM564.52 1293.49h12.4v12.4h-12.4zM565.51 1293.16h12.4v12.4h-12.4zM566.49 1292.84h12.4v12.4h-12.4zM567.47 1292.52h12.4v12.4h-12.4zM568.45 1292.19h12.4v12.4h-12.4zM569.43 1291.87h12.4v12.4h-12.4zM570.42 1291.56h12.4v12.4h-12.4zM571.4 1291.24h12.4v12.4h-12.4zM572.38 1290.92h12.4v12.4h-12.4zM573.36 1290.61h12.4v12.4h-12.4zM574.34 1290.29h12.4v12.4h-12.4zM575.32 1289.98h12.4v12.4h-12.4zM576.31 1289.67h12.4v12.4h-12.4zM577.29 1289.36h12.4v12.4h-12.4zM578.27 1289.05h12.4v12.4h-12.4zM579.25 1288.74h12.4v12.4h-12.4zM580.23 1288.44h12.4v12.4h-12.4zM581.22 1288.13h12.4v12.4h-12.4zM582.2 1287.83h12.4v12.4h-12.4zM583.18 1287.53h12.4v12.4h-12.4zM584.16 1287.23h12.4v12.4h-12.4zM585.14 1286.93h12.4v12.4h-12.4zM586.12 1286.64h12.4v12.4h-12.4zM587.11 1286.34h12.4v12.4h-12.4zM588.09 1286.05h12.4v12.4h-12.4zM589.07 1285.76h12.4v12.4h-12.4zM590.05 1285.47h12.4v12.4h-12.4zM591.03 1285.18h12.4v12.4h-12.4zM592.02 1284.9h12.4v12.4h-12.4zM593 1284.62h12.4v12.4h-12.4zM593.98 1284.33h12.4v12.4h-12.4zM594.96 1284.05h12.4v12.4h-12.4zM595.94 1283.78h12.4v12.4h-12.4zM596.92 1283.5h12.4v12.4h-12.4zM597.91 1283.22h12.4v12.4h-12.4zM598.89 1282.95h12.4v12.4h-12.4zM599.87 1282.68h12.4v12.4h-12.4zM600.85 1282.41h12.4v12.4h-12.4zM601.83 1282.15h12.4v12.4h-12.4zM602.82 1281.88h12.4v12.4h-12.4zM603.8 1281.62h12.4v12.4h-12.4zM604.78 1281.36h12.4v12.4h-12.4zM605.76 1281.1h12.4v12.4h-12.4zM606.74 1280.85h12.4v12.4h-12.4zM607.72 1280.6h12.4v12.4h-12.4zM608.71 1280.35h12.4v12.4h-12.4zM609.69 1280.1h12.4v12.4h-12.4zM610.67 1279.85h12.4v12.4h-12.4zM611.65 1279.61h12.4v12.4h-12.4zM612.63 1279.37h12.4v12.4h-12.4zM613.62 1279.13h12.4v12.4h-12.4zM614.6 1278.89h12.4v12.4h-12.4zM615.58 1278.66h12.4v12.4h-12.4zM616.56 1278.42h12.4v12.4h-12.4zM617.54 1278.19h12.4v12.4h-12.4zM618.53 1277.97h12.4v12.4h-12.4zM619.51 1277.74h12.4v12.4h-12.4zM620.49 1277.52h12.4v12.4h-12.4zM621.47 1277.3h12.4v12.4h-12.4zM622.45 1277.09h12.4v12.4h-12.4zM623.43 1276.87h12.4v12.4h-12.4zM624.42 1276.66h12.4v12.4h-12.4zM625.4 1276.45h12.4v12.4h-12.4zM626.38 1276.25h12.4v12.4h-12.4zM627.36 1276.05h12.4v12.4h-12.4zM628.34 1275.85h12.4v12.4h-12.4zM629.33 1275.65h12.4v12.4h-12.4zM630.31 1275.46h12.4v12.4h-12.4zM631.29 1275.26h12.4v12.4h-12.4zM632.27 1275.08h12.4v12.4h-12.4zM633.25 1274.89h12.4v12.4h-12.4zM634.23 1274.71h12.4v12.4h-12.4zM635.22 1274.53h12.4v12.4h-12.4zM636.2 1274.35h12.4v12.4h-12.4zM637.18 1274.18h12.4v12.4h-12.4zM638.16 1274.01h12.4v12.4h-12.4zM639.14 1273.84h12.4v12.4h-12.4zM640.13 1273.68h12.4v12.4h-12.4zM641.11 1273.52h12.4v12.4h-12.4zM642.09 1273.36h12.4v12.4h-12.4zM643.07 1273.21h12.4v12.4h-12.4zM644.05 1273.05h12.4v12.4h-12.4zM645.03 1272.91h12.4v12.4h-12.4zM646.02 1272.76h12.4v12.4h-12.4zM647 1272.62h12.4v12.4h-12.4zM647.98 1272.48h12.4v12.4h-12.4zM648.96 1272.35h12.4v12.4h-12.4zM649.94 1272.22h12.4v12.4h-12.4zM650.93 1272.09h12.4v12.4h-12.4zM651.91 1271.97h12.4v12.4h-12.4zM652.89 1271.85h12.4v12.4h-12.4zM653.87 1271.73h12.4v12.4h-12.4zM654.85 1271.62h12.4v12.4h-12.4zM655.83 1271.51h12.4v12.4h-12.4zM656.82 1271.4h12.4v12.4h-12.4zM657.8 1271.3h12.4v12.4h-12.4zM658.78 1271.2h12.4v12.4h-12.4zM659.76 1271.1h12.4v12.4h-12.4zM660.74 1271.01h12.4v12.4h-12.4zM661.73 1270.92h12.4v12.4h-12.4zM662.71 1270.84h12.4v12.4h-12.4zM663.69 1270.76h12.4v12.4h-12.4zM664.67 1270.68h12.4v12.4h-12.4zM665.65 1270.61h12.4v12.4h-12.4zM666.63 1270.54h12.4v12.4h-12.4zM667.62 1270.48h12.4v12.4h-12.4zM668.6 1270.42h12.4v12.4h-12.4zM669.58 1270.36h12.4v12.4h-12.4zM670.56 1270.31h12.4v12.4h-12.4zM671.54 1270.26h12.4v12.4h-12.4zM672.53 1270.21h12.4v12.4h-12.4zM673.51 1270.17h12.4v12.4h-12.4zM674.49 1270.13h12.4v12.4h-12.4zM675.47 1270.1h12.4v12.4h-12.4zM676.45 1270.07h12.4v12.4h-12.4zM677.44 1270.05h12.4v12.4h-12.4zM678.42 1270.03h12.4v12.4h-12.4zM679.4 1270.01h12.4v12.4h-12.4zM680.38 1270h12.4v12.4h-12.4zM681.36 1269.99h12.4v12.4h-12.4zM682.34 1269.99h12.4v12.4h-12.4zM683.33 1269.99h12.4v12.4h-12.4zM684.31 1269.99h12.4v12.4h-12.4zM685.29 1270h12.4v12.4h-12.4zM686.27 1270.01h12.4v12.4h-12.4zM687.25 1270.03h12.4v12.4h-12.4zM688.24 1270.05h12.4v12.4h-12.4zM689.22 1270.07h12.4v12.4h-12.4zM690.2 1270.1h12.4v12.4h-12.4zM691.18 1270.13h12.4v12.4h-12.4zM692.16 1270.16h12.4v12.4h-12.4zM693.14 1270.2h12.4v12.4h-12.4zM694.13 1270.24h12.4v12.4h-12.4zM695.11 1270.29h12.4v12.4h-12.4zM696.09 1270.34h12.4v12.4h-12.4zM697.07 1270.4h12.4v12.4h-12.4zM698.05 1270.45h12.4v12.4h-12.4zM699.04 1270.52h12.4v12.4h-12.4zM700.02 1270.58h12.4v12.4h-12.4zM701 1270.65h12.4v12.4h-12.4zM701.98 1270.72h12.4v12.4h-12.4zM702.96 1270.8h12.4v12.4h-12.4zM703.94 1270.88h12.4v12.4h-12.4zM704.93 1270.97h12.4v12.4h-12.4zM705.91 1271.05h12.4v12.4h-12.4zM706.89 1271.15h12.4v12.4h-12.4zM707.87 1271.24h12.4v12.4h-12.4zM708.85 1271.34h12.4v12.4h-12.4zM709.84 1271.44h12.4v12.4h-12.4zM710.82 1271.55h12.4v12.4h-12.4zM711.8 1271.66h12.4v12.4h-12.4zM712.78 1271.77h12.4v12.4h-12.4zM713.76 1271.89h12.4v12.4h-12.4zM714.74 1272.01h12.4v12.4h-12.4zM715.73 1272.14h12.4v12.4h-12.4zM716.71 1272.26h12.4v12.4h-12.4zM717.69 1272.4h12.4v12.4h-12.4zM718.67 1272.53h12.4v12.4h-12.4zM719.65 1272.67h12.4v12.4h-12.4zM720.64 1272.81h12.4v12.4h-12.4zM721.62 1272.96h12.4v12.4h-12.4zM722.6 1273.11h12.4v12.4h-12.4zM723.58 1273.26h12.4v12.4h-12.4zM724.56 1273.41h12.4v12.4h-12.4zM725.54 1273.57h12.4v12.4h-12.4zM726.53 1273.74h12.4v12.4h-12.4zM727.51 1273.9h12.4v12.4h-12.4zM728.49 1274.07h12.4v12.4h-12.4zM729.47 1274.24h12.4v12.4h-12.4zM730.45 1274.42h12.4v12.4h-12.4zM731.44 1274.6h12.4v12.4h-12.4zM732.42 1274.78h12.4v12.4h-12.4zM733.4 1274.97h12.4v12.4h-12.4zM734.38 1275.16h12.4v12.4h-12.4zM735.36 1275.35h12.4v12.4h-12.4zM736.35 1275.55h12.4v12.4h-12.4zM737.33 1275.75h12.4v12.4h-12.4zM738.31 1275.95h12.4v12.4h-12.4zM739.29 1276.16h12.4v12.4h-12.4zM740.27 1276.37h12.4v12.4h-12.4zM741.25 1276.58h12.4v12.4h-12.4zM742.24 1276.79h12.4v12.4h-12.4zM743.22 1277.01h12.4v12.4h-12.4zM744.2 1277.24h12.4v12.4h-12.4zM745.18 1277.46h12.4v12.4h-12.4zM746.16 1277.69h12.4v12.4h-12.4zM747.15 1277.92h12.4v12.4h-12.4zM748.13 1278.16h12.4v12.4h-12.4zM749.11 1278.39h12.4v12.4h-12.4zM750.09 1278.63h12.4v12.4h-12.4zM751.07 1278.88h12.4v12.4h-12.4zM752.05 1279.13h12.4v12.4h-12.4zM753.04 1279.38h12.4v12.4h-12.4zM754.02 1279.63h12.4v12.4h-12.4zM755 1279.89h12.4v12.4h-12.4zM755.98 1280.15h12.4v12.4h-12.4zM756.96 1280.41h12.4v12.4h-12.4zM757.95 1280.67h12.4v12.4h-12.4zM758.93 1280.94h12.4v12.4h-12.4zM759.91 1281.21h12.4v12.4h-12.4zM760.89 1281.49h12.4v12.4h-12.4zM761.87 1281.77h12.4v12.4h-12.4zM762.85 1282.05h12.4v12.4h-12.4zM763.84 1282.33h12.4v12.4h-12.4zM764.82 1282.61h12.4v12.4h-12.4zM765.8 1282.9h12.4v12.4h-12.4zM766.78 1283.2h12.4v12.4h-12.4zM767.76 1283.49h12.4v12.4h-12.4zM768.75 1283.79h12.4v12.4h-12.4zM769.73 1284.09h12.4v12.4h-12.4zM770.71 1284.39h12.4v12.4h-12.4zM771.69 1284.7h12.4v12.4h-12.4zM772.67 1285.01h12.4v12.4h-12.4zM773.65 1285.32h12.4v12.4h-12.4zM774.64 1285.63h12.4v12.4h-12.4zM775.62 1285.95h12.4v12.4h-12.4zM776.6 1286.27h12.4v12.4h-12.4zM777.58 1286.59h12.4v12.4h-12.4zM778.56 1286.92h12.4v12.4h-12.4zM779.55 1287.25h12.4v12.4h-12.4zM780.53 1287.58h12.4v12.4h-12.4zM781.51 1287.91h12.4v12.4h-12.4zM782.49 1288.25h12.4v12.4h-12.4zM783.47 1288.59h12.4v12.4h-12.4zM784.45 1288.93h12.4v12.4h-12.4zM785.44 1289.27h12.4v12.4h-12.4zM786.42 1289.62h12.4v12.4h-12.4zM787.4 1289.97h12.4v12.4h-12.4zM788.38 1290.32h12.4v12.4h-12.4zM789.36 1290.68h12.4v12.4h-12.4zM790.35 1291.04h12.4v12.4h-12.4zM791.33 1291.4h12.4v12.4h-12.4zM792.31 1291.76h12.4v12.4h-12.4zM793.29 1292.12h12.4v12.4h-12.4zM794.27 1292.49h12.4v12.4h-12.4zM795.26 1292.86h12.4v12.4h-12.4zM796.24 1293.23h12.4v12.4h-12.4zM797.22 1293.61h12.4v12.4h-12.4zM798.2 1293.99h12.4v12.4h-12.4zM799.18 1294.37h12.4v12.4h-12.4zM800.16 1294.75h12.4v12.4h-12.4zM801.15 1295.13h12.4v12.4h-12.4zM802.13 1295.52h12.4v12.4h-12.4zM803.11 1295.91h12.4v12.4h-12.4zM804.09 1296.3h12.4v12.4h-12.4zM805.07 1296.7h12.4v12.4h-12.4zM806.06 1297.1h12.4v12.4h-12.4zM807.04 1297.49h12.4v12.4h-12.4zM808.02 1297.9h12.4v12.4h-12.4zM809 1298.3h12.4v12.4h-12.4zM809.98 1298.71h12.4v12.4h-12.4zM810.96 1299.12h12.4v12.4h-12.4zM811.95 1299.53h12.4v12.4h-12.4zM812.93 1299.94h12.4v12.4h-12.4zM813.91 1300.36h12.4v12.4h-12.4zM814.89 1300.77h12.4v12.4h-12.4zM815.87 1301.19h12.4v12.4h-12.4zM816.86 1301.62h12.4v12.4h-12.4zM817.84 1302.04h12.4v12.4h-12.4zM818.82 1302.47h12.4v12.4h-12.4zM819.8 1302.89h12.4v12.4h-12.4zM820.78 1303.33h12.4v12.4h-12.4zM821.76 1303.76h12.4v12.4h-12.4zM822.75 1304.19h12.4v12.4h-12.4zM823.73 1304.63h12.4v12.4h-12.4zM824.71 1305.07h12.4v12.4h-12.4zM825.69 1305.51h12.4v12.4h-12.4zM826.67 1305.96h12.4v12.4h-12.4zM827.66 1306.4h12.4v12.4h-12.4zM828.64 1306.85h12.4v12.4h-12.4zM829.62 1307.3h12.4v12.4h-12.4zM830.6 1307.75h12.4v12.4h-12.4zM831.58 1308.2h12.4v12.4h-12.4zM832.56 1308.66h12.4v12.4h-12.4zM833.55 1309.11h12.4v12.4h-12.4zM834.53 1309.57h12.4v12.4h-12.4zM835.51 1310.03h12.4v12.4h-12.4zM836.49 1310.49h12.4v12.4h-12.4zM837.47 1310.95h12.4v12.4h-12.4zM838.46 1311.41h12.4v12.4h-12.4zM839.44 1311.88h12.4v12.4h-12.4zM840.42 1312.34h12.4v12.4h-12.4zM841.4 1312.81h12.4v12.4h-12.4zM842.38 1313.28h12.4v12.4h-12.4zM843.36 1313.75h12.4v12.4h-12.4zM844.35 1314.22h12.4v12.4h-12.4zM845.33 1314.69h12.4v12.4h-12.4zM846.31 1315.16h12.4v12.4h-12.4zM847.29 1315.63h12.4v12.4h-12.4zM848.27 1316.1h12.4v12.4h-12.4zM849.26 1316.57h12.4v12.4h-12.4zM850.24 1317.04h12.4v12.4h-12.4zM851.22 1317.52h12.4v12.4h-12.4zM852.2 1317.99h12.4v12.4h-12.4zM853.18 1318.47h12.4v12.4h-12.4zM854.17 1318.94h12.4v12.4h-12.4zM855.15 1319.42h12.4v12.4h-12.4zM856.13 1319.89h12.4v12.4h-12.4zM857.11 1320.37h12.4v12.4h-12.4zM858.09 1320.84h12.4v12.4h-12.4zM859.07 1321.31h12.4v12.4h-12.4zM860.06 1321.79h12.4v12.4h-12.4zM861.04 1322.26h12.4v12.4h-12.4zM862.02 1322.74h12.4v12.4h-12.4zM863 1323.21h12.4v12.4h-12.4zM863.98 1323.69h12.4v12.4h-12.4zM864.97 1324.16h12.4v12.4h-12.4zM865.95 1324.63h12.4v12.4h-12.4zM866.93 1325.1h12.4v12.4h-12.4zM867.91 1325.57h12.4v12.4h-12.4zM868.89 1326.04h12.4v12.4h-12.4zM869.87 1326.51h12.4v12.4h-12.4zM870.86 1326.98h12.4v12.4h-12.4zM871.84 1327.45h12.4v12.4h-12.4zM872.82 1327.92h12.4v12.4h-12.4zM873.8 1328.38h12.4v12.4h-12.4zM874.78 1328.85h12.4v12.4h-12.4zM875.77 1329.31h12.4v12.4h-12.4zM876.75 1329.78h12.4v12.4h-12.4zM877.73 1330.24h12.4v12.4h-12.4zM878.71 1330.7h12.4v12.4h-12.4zM879.69 1331.16h12.4v12.4h-12.4zM880.67 1331.61h12.4v12.4h-12.4zM881.66 1332.07h12.4v12.4h-12.4zM882.64 1332.52h12.4v12.4h-12.4zM883.62 1332.98h12.4v12.4h-12.4zM884.6 1333.43h12.4v12.4h-12.4zM885.58 1333.88h12.4v12.4h-12.4zM886.57 1334.32h12.4v12.4h-12.4zM887.55 1334.77h12.4v12.4h-12.4zM888.53 1335.21h12.4v12.4h-12.4zM889.51 1335.65h12.4v12.4h-12.4zM890.49 1336.09h12.4v12.4h-12.4zM891.47 1336.53h12.4v12.4h-12.4zM892.46 1336.96h12.4v12.4h-12.4zM893.44 1337.4h12.4v12.4h-12.4zM894.42 1337.83h12.4v12.4h-12.4zM895.4 1338.25h12.4v12.4h-12.4zM896.38 1338.68h12.4v12.4h-12.4zM897.37 1339.1h12.4v12.4h-12.4zM898.35 1339.52h12.4v12.4h-12.4zM899.33 1339.94h12.4v12.4h-12.4zM900.31 1340.35h12.4v12.4h-12.4zM901.29 1340.77h12.4v12.4h-12.4zM902.27 1341.18h12.4v12.4h-12.4zM903.26 1341.58h12.4v12.4h-12.4zM904.24 1341.98h12.4v12.4h-12.4zM905.22 1342.38h12.4v12.4h-12.4zM906.2 1342.78h12.4v12.4h-12.4zM907.18 1343.18h12.4v12.4h-12.4zM908.17 1343.57h12.4v12.4h-12.4zM909.15 1343.95h12.4v12.4h-12.4zM910.13 1344.34h12.4v12.4h-12.4zM911.11 1344.72h12.4v12.4h-12.4zM912.09 1345.1h12.4v12.4h-12.4zM913.08 1345.47h12.4v12.4h-12.4zM914.06 1345.84h12.4v12.4h-12.4zM915.04 1346.21h12.4v12.4h-12.4zM916.02 1346.57h12.4v12.4h-12.4zM917 1346.93h12.4v12.4h-12.4zM917.98 1347.28h12.4v12.4h-12.4zM918.97 1347.64h12.4v12.4h-12.4zM919.95 1347.98h12.4v12.4h-12.4zM920.93 1348.33h12.4v12.4h-12.4zM921.91 1348.67h12.4v12.4h-12.4zM922.89 1349.01h12.4v12.4h-12.4zM923.88 1349.34h12.4v12.4h-12.4zM924.86 1349.67h12.4v12.4h-12.4zM925.84 1350h12.4v12.4h-12.4zM926.82 1350.33h12.4v12.4h-12.4zM927.8 1350.65h12.4v12.4h-12.4zM928.78 1350.96h12.4v12.4h-12.4zM929.77 1351.28h12.4v12.4h-12.4zM930.75 1351.59h12.4v12.4h-12.4zM931.73 1351.89h12.4v12.4h-12.4zM932.71 1352.19h12.4v12.4h-12.4zM933.69 1352.49h12.4v12.4h-12.4zM934.68 1352.79h12.4v12.4h-12.4zM935.66 1353.08h12.4v12.4h-12.4zM936.64 1353.37h12.4v12.4h-12.4zM937.62 1353.65h12.4v12.4h-12.4zM938.6 1353.93h12.4v12.4h-12.4zM939.58 1354.21h12.4v12.4h-12.4zM940.57 1354.49h12.4v12.4h-12.4zM941.55 1354.76h12.4v12.4h-12.4zM942.53 1355.02h12.4v12.4h-12.4zM943.51 1355.29h12.4v12.4h-12.4zM944.49 1355.55h12.4v12.4h-12.4zM945.48 1355.8h12.4v12.4h-12.4zM946.46 1356.06h12.4v12.4h-12.4zM947.44 1356.31h12.4v12.4h-12.4zM948.42 1356.55h12.4v12.4h-12.4zM949.4 1356.79h12.4v12.4h-12.4zM950.38 1357.03h12.4v12.4h-12.4zM951.37 1357.27h12.4v12.4h-12.4zM952.35 1357.5h12.4v12.4h-12.4zM953.33 1357.73h12.4v12.4h-12.4zM954.31 1357.95h12.4v12.4h-12.4zM955.29 1358.17h12.4v12.4h-12.4zM956.28 1358.39h12.4v12.4h-12.4zM957.26 1358.61h12.4v12.4h-12.4zM958.24 1358.82h12.4v12.4h-12.4zM959.22 1359.02h12.4v12.4h-12.4zM960.2 1359.23h12.4v12.4h-12.4zM961.18 1359.43h12.4v12.4h-12.4zM962.17 1359.62h12.4v12.4h-12.4zM963.15 1359.81h12.4v12.4h-12.4zM964.13 1360h12.4v12.4h-12.4zM965.11 1360.19h12.4v12.4h-12.4zM966.09 1360.37h12.4v12.4h-12.4zM967.08 1360.55h12.4v12.4h-12.4zM968.06 1360.72h12.4v12.4h-12.4zM969.04 1360.9h12.4v12.4h-12.4zM970.02 1361.06h12.4v12.4h-12.4zM971 1361.23h12.4v12.4h-12.4zM971.99 1361.39h12.4v12.4h-12.4zM972.97 1361.55h12.4v12.4h-12.4zM973.95 1361.7h12.4v12.4h-12.4zM974.93 1361.85h12.4v12.4h-12.4zM975.91 1362h12.4v12.4h-12.4zM976.89 1362.14h12.4v12.4h-12.4zM977.88 1362.28h12.4v12.4h-12.4zM978.86 1362.42h12.4v12.4h-12.4zM979.84 1362.55h12.4v12.4h-12.4zM980.82 1362.68h12.4v12.4h-12.4zM981.8 1362.8h12.4v12.4h-12.4zM982.79 1362.93h12.4v12.4h-12.4zM983.77 1363.04h12.4v12.4h-12.4zM984.75 1363.16h12.4v12.4h-12.4zM985.73 1363.27h12.4v12.4h-12.4zM986.71 1363.38h12.4v12.4h-12.4zM987.69 1363.48h12.4v12.4h-12.4zM988.68 1363.58h12.4v12.4h-12.4zM989.66 1363.68h12.4v12.4h-12.4zM990.64 1363.77h12.4v12.4h-12.4zM991.62 1363.87h12.4v12.4h-12.4zM992.6 1363.95h12.4v12.4h-12.4zM993.59 1364.04h12.4v12.4h-12.4zM994.57 1364.11h12.4v12.4h-12.4zM995.55 1364.19h12.4v12.4h-12.4zM996.53 1364.26h12.4v12.4h-12.4zM997.51 1364.33h12.4v12.4h-12.4zM998.49 1364.4h12.4v12.4h-12.4zM999.48 1364.46h12.4v12.4h-12.4zM1000.46 1364.65h12.4v12.4h-12.4zM1001.44 1364.87h12.4v12.4h-12.4zM1002.42 1365.1h12.4v12.4h-12.4zM1003.4 1365.33h12.4v12.4h-12.4zM1004.39 1365.55h12.4v12.4h-12.4zM1005.37 1365.78h12.4v12.4h-12.4zM1006.35 1366.01h12.4v12.4h-12.4zM1007.33 1366.23h12.4v12.4h-12.4zM1008.31 1366.46h12.4v12.4h-12.4zM1009.29 1366.68h12.4v12.4h-12.4zM1010.28 1366.8h12.4v12.4h-12.4zM1011.26 1366.8h12.4v12.4h-12.4zM1012.24 1366.8h12.4v12.4h-12.4zM1013.22 1366.8h12.4v12.4h-12.4zM1014.2 1366.8h12.4v12.4h-12.4zM1015.19 1366.8h12.4v12.4h-12.4zM1016.17 1366.8h12.4v12.4h-12.4zM1017.15 1366.8h12.4v12.4h-12.4zM1018.13 1366.8h12.4v12.4h-12.4zM1019.11 1366.8h12.4v12.4h-12.4zM1020.09 1366.8h12.4v12.4h-12.4zM1021.08 1366.8h12.4v12.4h-12.4zM1022.06 1366.8h12.4v12.4h-12.4zM1023.04 1366.8h12.4v12.4h-12.4zM1024.02 1366.8h12.4v12.4h-12.4zM1025 1366.8h12.4v12.4h-12.4zM1025.99 1366.8h12.4v12.4h-12.4zM1026.97 1366.8h12.4v12.4h-12.4zM1027.95 1366.8h12.4v12.4h-12.4zM1028.93 1366.8h12.4v12.4h-12.4zM1029.91 1366.8h12.4v12.4h-12.4zM1030.9 1366.8h12.4v12.4h-12.4zM1031.88 1366.8h12.4v12.4h-12.4zM1032.86 1366.8h12.4v12.4h-12.4zM1033.84 1366.8h12.4v12.4h-12.4zM1034.82 1366.8h12.4v12.4h-12.4zM1035.8 1366.8h12.4v12.4h-12.4zM1036.79 1366.8h12.4v12.4h-12.4zM1037.77 1366.8h12.4v12.4h-12.4zM1038.75 1366.8h12.4v12.4h-12.4zM1039.73 1366.8h12.4v12.4h-12.4zM1040.71 1366.8h12.4v12.4h-12.4zM1041.7 1366.8h12.4v12.4h-12.4zM1042.68 1366.8h12.4v12.4h-12.4zM1043.66 1366.8h12.4v12.4h-12.4zM1044.64 1366.8h12.4v12.4h-12.4zM1045.62 1366.8h12.4v12.4h-12.4zM1046.6 1366.8h12.4v12.4h-12.4zM1047.59 1366.8h12.4v12.4h-12.4zM1048.57 1366.8h12.4v12.4h-12.4zM1049.55 1366.8h12.4v12.4h-12.4zM1050.53 1366.8h12.4v12.4h-12.4zM1051.51 1366.8h12.4v12.4h-12.4zM1052.5 1366.8h12.4v12.4h-12.4zM1053.48 1366.8h12.4v12.4h-12.4zM1054.46 1366.8h12.4v12.4h-12.4zM1055.44 1366.8h12.4v12.4h-12.4zM1056.42 1366.8h12.4v12.4h-12.4zM1057.4 1366.8h12.4v12.4h-12.4zM1058.39 1366.8h12.4v12.4h-12.4zM1059.37 1366.8h12.4v12.4h-12.4zM1060.35 1366.8h12.4v12.4h-12.4zM1061.33 1366.8h12.4v12.4h-12.4zM1062.31 1366.8h12.4v12.4h-12.4zM1063.3 1366.8h12.4v12.4h-12.4zM1064.28 1366.8h12.4v12.4h-12.4zM1065.26 1366.8h12.4v12.4h-12.4zM1066.24 1366.8h12.4v12.4h-12.4zM1067.22 1366.8h12.4v12.4h-12.4zM1068.2 1366.8h12.4v12.4h-12.4zM1069.19 1366.8h12.4v12.4h-12.4zM1070.17 1366.8h12.4v12.4h-12.4zM1071.15 1366.8h12.4v12.4h-12.4zM1072.13 1366.8h12.4v12.4h-12.4zM1073.11 1366.8h12.4v12.4h-12.4zM1074.1 1366.8h12.4v12.4h-12.4zM1075.08 1366.8h12.4v12.4h-12.4zM1076.06 1366.8h12.4v12.4h-12.4zM1077.04 1366.8h12.4v12.4h-12.4zM1078.02 1366.8h12.4v12.4h-12.4zM1079 1366.8h12.4v12.4h-12.4zM1079.99 1366.8h12.4v12.4h-12.4zM1080.97 1366.8h12.4v12.4h-12.4zM1081.95 1366.8h12.4v12.4h-12.4zM1082.93 1366.8h12.4v12.4h-12.4zM1083.91 1366.8h12.4v12.4h-12.4zM1084.9 1366.8h12.4v12.4h-12.4zM1085.88 1366.8h12.4v12.4h-12.4zM1086.86 1366.8h12.4v12.4h-12.4zM1087.84 1366.8h12.4v12.4h-12.4zM1088.82 1366.8h12.4v12.4h-12.4zM1089.81 1366.8h12.4v12.4h-12.4zM1090.79 1366.8h12.4v12.4h-12.4zM1091.77 1366.8h12.4v12.4h-12.4zM1092.75 1366.8h12.4v12.4h-12.4zM1093.73 1366.8h12.4v12.4h-12.4zM1094.71 1366.8h12.4v12.4h-12.4zM1095.7 1366.8h12.4v12.4h-12.4zM1096.68 1366.8h12.4v12.4h-12.4zM1097.66 1366.8h12.4v12.4h-12.4zM1098.64 1366.8h12.4v12.4h-12.4zM1099.62 1366.8h12.4v12.4h-12.4zM1100.61 1366.8h12.4v12.4h-12.4zM1101.59 1366.8h12.4v12.4h-12.4zM1102.57 1366.8h12.4v12.4h-12.4zM1103.55 1366.8h12.4v12.4h-12.4zM1104.53 1366.8h12.4v12.4h-12.4zM1105.51 1366.8h12.4v12.4h-12.4zM1106.5 1366.8h12.4v12.4h-12.4zM1107.48 1366.8h12.4v12.4h-12.4zM1108.46 1366.8h12.4v12.4h-12.4zM1109.44 1366.8h12.4v12.4h-12.4zM1110.42 1366.8h12.4v12.4h-12.4zM1111.41 1366.8h12.4v12.4h-12.4zM1112.39 1366.8h12.4v12.4h-12.4zM1113.37 1366.8h12.4v12.4h-12.4zM1114.35 1366.8h12.4v12.4h-12.4zM1115.33 1366.8h12.4v12.4h-12.4zM1116.31 1366.8h12.4v12.4h-12.4zM1117.3 1366.8h12.4v12.4h-12.4zM1118.28 1366.8h12.4v12.4h-12.4zM1119.26 1366.8h12.4v12.4h-12.4zM1120.24 1366.8h12.4v12.4h-12.4zM1121.22 1366.8h12.4v12.4h-12.4zM1122.21 1366.8h12.4v12.4h-12.4zM1123.19 1366.8h12.4v12.4h-12.4zM1124.17 1366.8h12.4v12.4h-12.4zM1125.15 1366.8h12.4v12.4h-12.4zM1126.13 1366.8h12.4v12.4h-12.4zM1127.11 1366.8h12.4v12.4h-12.4zM1128.1 1366.8h12.4v12.4h-12.4zM1129.08 1366.8h12.4v12.4h-12.4zM1130.06 1366.8h12.4v12.4h-12.4zM1131.04 1366.8h12.4v12.4h-12.4zM1132.02 1366.8h12.4v12.4h-12.4zM1133.01 1366.8h12.4v12.4h-12.4zM1133.99 1366.8h12.4v12.4h-12.4zM1134.97 1366.8h12.4v12.4h-12.4zM1135.95 1366.8h12.4v12.4h-12.4zM1136.93 1366.8h12.4v12.4h-12.4zM1137.91 1366.8h12.4v12.4h-12.4zM1138.9 1366.8h12.4v12.4h-12.4zM1139.88 1366.8h12.4v12.4h-12.4zM1140.86 1366.8h12.4v12.4h-12.4zM1141.84 1366.8h12.4v12.4h-12.4zM1142.82 1366.8h12.4v12.4h-12.4zM1143.81 1366.8h12.4v12.4h-12.4zM1144.79 1366.8h12.4v12.4h-12.4zM1145.77 1366.8h12.4v12.4h-12.4zM1146.75 1366.8h12.4v12.4h-12.4zM1147.73 1366.8h12.4v12.4h-12.4zM1148.72 1366.8h12.4v12.4h-12.4zM1149.7 1366.8h12.4v12.4h-12.4zM1150.68 1366.8h12.4v12.4h-12.4zM1151.66 1366.8h12.4v12.4h-12.4zM1152.64 1366.8h12.4v12.4h-12.4zM1153.62 1366.8h12.4v12.4h-12.4zM1154.61 1366.8h12.4v12.4h-12.4zM1155.59 1366.8h12.4v12.4h-12.4zM1156.57 1366.8h12.4v12.4h-12.4zM1157.55 1366.8h12.4v12.4h-12.4zM1158.53 1366.8h12.4v12.4h-12.4zM1159.52 1366.8h12.4v12.4h-12.4zM1160.5 1366.8h12.4v12.4h-12.4zM1161.48 1366.8h12.4v12.4h-12.4zM1162.46 1366.8h12.4v12.4h-12.4zM1163.44 1366.8h12.4v12.4h-12.4zM1164.42 1366.8h12.4v12.4h-12.4zM1165.41 1366.8h12.4v12.4h-12.4zM1166.39 1366.8h12.4v12.4h-12.4zM1167.37 1366.8h12.4v12.4h-12.4zM1168.35 1366.8h12.4v12.4h-12.4zM1169.33 1366.8h12.4v12.4h-12.4zM1170.32 1366.8h12.4v12.4h-12.4zM1171.3 1366.8h12.4v12.4h-12.4zM1172.28 1366.8h12.4v12.4h-12.4zM1173.26 1366.8h12.4v12.4h-12.4zM1174.24 1366.8h12.4v12.4h-12.4zM1175.22 1366.8h12.4v12.4h-12.4zM1176.21 1366.8h12.4v12.4h-12.4zM1177.19 1366.8h12.4v12.4h-12.4zM1178.17 1366.8h12.4v12.4h-12.4zM1179.15 1366.8h12.4v12.4h-12.4zM1180.13 1366.8h12.4v12.4h-12.4zM1181.12 1366.8h12.4v12.4h-12.4zM1182.1 1366.8h12.4v12.4h-12.4zM1183.08 1366.8h12.4v12.4h-12.4zM1184.06 1366.8h12.4v12.4h-12.4zM1185.04 1366.8h12.4v12.4h-12.4zM1186.02 1366.8h12.4v12.4h-12.4zM1187.01 1366.8h12.4v12.4h-12.4zM1187.99 1366.8h12.4v12.4h-12.4zM1188.97 1366.8h12.4v12.4h-12.4zM1189.95 1366.8h12.4v12.4h-12.4zM1190.93 1366.8h12.4v12.4h-12.4zM1191.92 1366.8h12.4v12.4h-12.4zM1192.9 1366.8h12.4v12.4h-12.4zM1193.88 1366.8h12.4v12.4h-12.4zM1194.86 1366.8h12.4v12.4h-12.4zM1195.84 1366.8h12.4v12.4h-12.4zM1196.82 1366.8h12.4v12.4h-12.4zM1197.81 1366.8h12.4v12.4h-12.4zM1198.79 1366.8h12.4v12.4h-12.4zM1199.77 1366.8h12.4v12.4h-12.4zM1200.75 1366.8h12.4v12.4h-12.4zM1201.73 1366.8h12.4v12.4h-12.4zM1202.72 1366.8h12.4v12.4h-12.4zM1203.7 1366.8h12.4v12.4h-12.4zM1204.68 1366.8h12.4v12.4h-12.4zM1205.66 1366.8h12.4v12.4h-12.4zM1206.64 1366.8h12.4v12.4h-12.4zM1207.63 1366.8h12.4v12.4h-12.4zM1208.61 1366.8h12.4v12.4h-12.4zM1209.59 1366.8h12.4v12.4h-12.4zM1210.57 1366.8h12.4v12.4h-12.4zM1211.55 1366.8h12.4v12.4h-12.4zM1212.53 1366.8h12.4v12.4h-12.4zM1213.52 1366.8h12.4v12.4h-12.4zM1214.5 1366.8h12.4v12.4h-12.4zM1215.48 1366.8h12.4v12.4h-12.4zM1216.46 1366.8h12.4v12.4h-12.4zM1217.44 1366.8h12.4v12.4h-12.4zM1218.43 1366.8h12.4v12.4h-12.4zM1219.41 1366.8h12.4v12.4h-12.4zM1220.39 1366.8h12.4v12.4h-12.4zM1221.37 1366.8h12.4v12.4h-12.4zM1222.35 1366.8h12.4v12.4h-12.4zM1223.33 1366.8h12.4v12.4h-12.4zM1224.32 1366.8h12.4v12.4h-12.4zM1225.3 1366.8h12.4v12.4h-12.4zM1226.28 1366.8h12.4v12.4h-12.4zM1227.26 1366.8h12.4v12.4h-12.4zM1228.24 1366.8h12.4v12.4h-12.4zM1229.23 1366.8h12.4v12.4h-12.4zM1230.21 1366.8h12.4v12.4h-12.4zM1231.19 1366.8h12.4v12.4h-12.4zM1232.17 1366.8h12.4v12.4h-12.4zM1233.15 1366.8h12.4v12.4h-12.4zM1234.13 1366.8h12.4v12.4h-12.4zM1235.12 1366.8h12.4v12.4h-12.4zM1236.1 1366.8h12.4v12.4h-12.4zM1237.08 1366.8h12.4v12.4h-12.4zM1238.06 1366.8h12.4v12.4h-12.4zM1239.04 1366.8h12.4v12.4h-12.4zM1240.03 1366.8h12.4v12.4h-12.4zM1241.01 1366.8h12.4v12.4h-12.4zM1241.99 1366.8h12.4v12.4h-12.4zM1242.97 1366.8h12.4v12.4h-12.4zM1243.95 1366.8h12.4v12.4h-12.4zM1244.93 1366.8h12.4v12.4h-12.4zM1245.92 1366.8h12.4v12.4h-12.4zM1246.9 1366.8h12.4v12.4h-12.4zM1247.88 1366.8h12.4v12.4h-12.4zM1248.86 1366.8h12.4v12.4h-12.4zM1249.84 1366.8h12.4v12.4h-12.4zM1250.83 1366.8h12.4v12.4h-12.4zM1251.81 1366.8h12.4v12.4h-12.4zM1252.79 1366.8h12.4v12.4h-12.4zM1253.77 1366.8h12.4v12.4h-12.4zM1254.75 1366.8h12.4v12.4h-12.4zM1255.73 1366.8h12.4v12.4h-12.4zM1256.72 1366.8h12.4v12.4h-12.4zM1257.7 1366.8h12.4v12.4h-12.4zM1258.68 1366.8h12.4v12.4h-12.4zM1259.66 1366.8h12.4v12.4h-12.4zM1260.64 1366.8h12.4v12.4h-12.4zM1261.63 1366.8h12.4v12.4h-12.4zM1262.61 1366.8h12.4v12.4h-12.4zM1263.59 1366.8h12.4v12.4h-12.4zM1264.57 1366.8h12.4v12.4h-12.4zM1265.55 1366.8h12.4v12.4h-12.4zM1266.54 1366.8h12.4v12.4h-12.4zM1267.52 1366.8h12.4v12.4h-12.4zM1268.5 1366.8h12.4v12.4h-12.4zM1269.48 1366.8h12.4v12.4h-12.4zM1270.46 1366.8h12.4v12.4h-12.4zM1271.44 1366.8h12.4v12.4h-12.4zM1272.43 1366.8h12.4v12.4h-12.4zM1273.41 1366.8h12.4v12.4h-12.4zM1274.39 1366.8h12.4v12.4h-12.4zM1275.37 1366.8h12.4v12.4h-12.4zM1276.35 1366.8h12.4v12.4h-12.4zM1277.34 1366.8h12.4v12.4h-12.4zM1278.32 1366.8h12.4v12.4h-12.4zM1279.3 1366.8h12.4v12.4h-12.4zM1280.28 1366.8h12.4v12.4h-12.4zM1281.26 1366.8h12.4v12.4h-12.4zM1282.24 1366.8h12.4v12.4h-12.4zM1283.23 1366.8h12.4v12.4h-12.4zM1284.21 1366.8h12.4v12.4h-12.4zM1285.19 1366.8h12.4v12.4h-12.4zM1286.17 1366.8h12.4v12.4h-12.4zM1287.15 1366.8h12.4v12.4h-12.4zM1288.14 1366.8h12.4v12.4h-12.4zM1289.12 1366.8h12.4v12.4h-12.4zM1290.1 1366.8h12.4v12.4h-12.4zM1291.08 1366.8h12.4v12.4h-12.4zM1292.06 1366.8h12.4v12.4h-12.4zM1293.04 1366.8h12.4v12.4h-12.4zM1294.03 1366.8h12.4v12.4h-12.4zM1295.01 1366.8h12.4v12.4h-12.4zM1295.99 1366.8h12.4v12.4h-12.4zM1296.97 1366.8h12.4v12.4h-12.4zM1297.95 1366.8h12.4v12.4h-12.4zM1298.94 1366.8h12.4v12.4h-12.4zM1299.92 1366.8h12.4v12.4h-12.4zM1300.9 1366.8h12.4v12.4h-12.4zM1301.88 1366.8h12.4v12.4h-12.4zM1302.86 1366.8h12.4v12.4h-12.4zM1303.84 1366.8h12.4v12.4h-12.4zM1304.83 1366.8h12.4v12.4h-12.4zM1305.81 1366.8h12.4v12.4h-12.4zM1306.79 1366.8h12.4v12.4h-12.4zM1307.77 1366.8h12.4v12.4h-12.4zM1308.75 1366.8h12.4v12.4h-12.4zM1309.74 1366.8h12.4v12.4h-12.4zM1310.72 1366.8h12.4v12.4h-12.4zM1311.7 1366.8h12.4v12.4h-12.4zM1312.68 1366.8h12.4v12.4h-12.4zM1313.66 1366.8h12.4v12.4h-12.4zM1314.64 1366.8h12.4v12.4h-12.4zM1315.63 1366.8h12.4v12.4h-12.4zM1316.61 1366.8h12.4v12.4h-12.4zM1317.59 1366.8h12.4v12.4h-12.4zM1318.57 1366.8h12.4v12.4h-12.4zM1319.55 1366.8h12.4v12.4h-12.4zM1320.54 1366.8h12.4v12.4h-12.4zM1321.52 1366.8h12.4v12.4h-12.4zM1322.5 1366.8h12.4v12.4h-12.4zM1323.48 1366.8h12.4v12.4h-12.4zM1324.46 1366.8h12.4v12.4h-12.4zM1325.45 1366.8h12.4v12.4h-12.4zM1326.43 1366.8h12.4v12.4h-12.4zM1327.41 1366.8h12.4v12.4h-12.4zM1328.39 1366.8h12.4v12.4h-12.4zM1329.37 1366.8h12.4v12.4h-12.4zM1330.35 1366.8h12.4v12.4h-12.4zM1331.34 1366.8h12.4v12.4h-12.4zM1332.32 1366.8h12.4v12.4h-12.4zM1333.3 1366.8h12.4v12.4h-12.4zM1334.28 1366.8h12.4v12.4h-12.4zM1335.26 1366.8h12.4v12.4h-12.4zM1336.25 1366.8h12.4v12.4h-12.4zM1337.23 1366.8h12.4v12.4h-12.4zM1338.21 1366.8h12.4v12.4h-12.4zM1339.19 1366.8h12.4v12.4h-12.4zM1340.17 1366.8h12.4v12.4h-12.4zM1341.15 1366.8h12.4v12.4h-12.4zM1342.14 1366.8h12.4v12.4h-12.4zM1343.12 1366.8h12.4v12.4h-12.4zM1344.1 1366.8h12.4v12.4h-12.4zM1345.08 1366.8h12.4v12.4h-12.4zM1346.06 1366.8h12.4v12.4h-12.4zM1347.05 1366.8h12.4v12.4h-12.4zM1348.03 1366.8h12.4v12.4h-12.4zM1349.01 1366.8h12.4v12.4h-12.4zM1349.99 1366.8h12.4v12.4h-12.4zM1350.97 1366.8h12.4v12.4h-12.4zM1351.95 1366.8h12.4v12.4h-12.4zM1352.94 1366.8h12.4v12.4h-12.4zM1353.92 1366.8h12.4v12.4h-12.4zM1354.9 1366.8h12.4v12.4h-12.4zM1355.88 1366.8h12.4v12.4h-12.4zM1356.86 1366.8h12.4v12.4h-12.4zM1357.85 1366.8h12.4v12.4h-12.4zM1358.83 1366.8h12.4v12.4h-12.4zM1359.81 1366.8h12.4v12.4h-12.4zM1360.79 1366.8h12.4v12.4h-12.4zM1361.77 1366.8h12.4v12.4h-12.4zM1362.75 1366.8h12.4v12.4h-12.4zM1363.74 1366.8h12.4v12.4h-12.4zM1364.72 1366.8h12.4v12.4h-12.4zM1365.7 1366.8h12.4v12.4h-12.4zM1366.68 1366.8h12.4v12.4h-12.4zM1367.66 1366.8h12.4v12.4h-12.4zM1368.65 1366.8h12.4v12.4h-12.4zM1369.63 1366.8h12.4v12.4h-12.4zM1370.61 1366.8h12.4v12.4h-12.4zM1371.59 1366.8h12.4v12.4h-12.4zM1372.57 1366.8h12.4v12.4h-12.4zM1373.55 1366.8h12.4v12.4h-12.4zM1374.54 1366.8h12.4v12.4h-12.4zM1375.52 1366.8h12.4v12.4h-12.4zM1376.5 1366.8h12.4v12.4h-12.4zM1377.48 1366.8h12.4v12.4h-12.4zM1378.46 1366.8h12.4v12.4h-12.4zM1379.45 1366.8h12.4v12.4h-12.4zM1380.43 1366.8h12.4v12.4h-12.4z" fill="#000000"/>
<path d="" fill="none" stroke="#000" stroke-width="4"/>
<path d="M172.5 1363.9L180.15 1376.8H164.85zM174.46 1363.9L182.11 1376.8H166.81zM176.43 1363.9L184.08 1376.8H168.78zM178.39 1363.9L186.04 1376.8H170.74zM180.35 1363.9L188 1376.8H172.7zM182.32 1363.9L189.97 1376.8H174.67zM184.28 1363.9L191.93 1376.8H176.63zM186.25 1363.9L193.9 1376.8H178.6zM188.21 1363.9L195.86 1376.8H180.56zM190.17 1363.9L197.82 1376.8H182.52zM192.14 1363.9L199.79 1376.8H184.49zM194.1 1363.9L201.75 1376.8H186.45zM196.06 1363.9L203.71 1376.8H188.41zM198.03 1363.9L205.68 1376.8H190.38zM199.99 1363.9L207.64 1376.8H192.34zM201.95 1363.9L209.6 1376.8H194.3zM203.92 1363.9L211.57 1376.8H196.27zM205.88 1363.9L213.53 1376.8H198.23zM207.85 1363.9L215.5 1376.8H200.2zM209.81 1363.9L217.46 1376.8H202.16zM211.77 1363.9L219.42 1376.8H204.12zM213.74 1363.9L221.39 1376.8H206.09zM215.7 1363.9L223.35 1376.8H208.05zM217.66 1363.9L225.31 1376.8H210.01zM219.63 1363.9L227.28 1376.8H211.98zM221.59 1363.9L229.24 1376.8H213.94zM223.56 1363.9L231.21 1376.8H215.91zM225.52 1363.9L233.17 1376.8H217.87zM227.48 1363.9L235.13 1376.8H219.83zM229.45 1363.9L237.1 1376.8H221.8zM231.41 1363.9L239.06 1376.8H223.76zM233.37 1363.9L241.02 1376.8H225.72zM235.34 1363.9L242.99 1376.8H227.69zM237.3 1363.9L244.95 1376.8H229.65zM239.26 1363.9L246.91 1376.8H231.61zM241.23 1363.9L248.88 1376.8H233.58zM243.19 1363.9L250.84 1376.8H235.54zM245.16 1363.9L252.81 1376.8H237.51zM247.12 1363.9L254.77 1376.8H239.47zM249.08 1363.9L256.73 1376.8H241.43zM251.05 1363.9L258.7 1376.8H243.4zM253.01 1363.9L260.66 1376.8H245.36zM254.97 1363.9L262.62 1376.8H247.32zM256.94 1363.9L264.59 1376.8H249.29zM258.9 1363.9L266.55 1376.8H251.25zM260.86 1363.9L268.51 1376.8H253.21zM262.83 1363.9L270.48 1376.8H255.18zM264.79 1363.9L272.44 1376.8H257.14zM266.76 1363.9L274.41 1376.8H259.11zM268.72 1363.9L276.37 1376.8H261.07zM270.68 1363.9L278.33 1376.8H263.03zM272.65 1363.9L280.3 1376.8H265zM274.61 1363.9L282.26 1376.8H266.96zM276.57 1363.9L284.22 1376.8H268.92zM278.54 1363.9L286.19 1376.8H270.89zM280.5 1363.9L288.15 1376.8H272.85zM282.47 1363.9L290.12 1376.8H274.82zM284.43 1363.9L292.08 1376.8H276.78zM286.39 1363.9L294.04 1376.8H278.74zM288.36 1363.9L296.01 1376.8H280.71zM290.32 1363.9L297.97 1376.8H282.67zM292.28 1363.9L299.93 1376.8H284.63zM294.25 1363.9L301.9 1376.8H286.6zM296.21 1363.9L303.86 1376.8H288.56zM298.17 1363.9L305.82 1376.8H290.52zM300.14 1363.9L307.79 1376.8H292.49zM302.1 1363.9L309.75 1376.8H294.45zM304.07 1363.9L311.72 1376.8H296.42zM306.03 1363.9L313.68 1376.8H298.38zM307.99 1363.9L315.64 1376.8H300.34zM309.96 1363.9L317.61 1376.8H302.31zM311.92 1363.9L319.57 1376.8H304.27zM313.88 1363.9L321.53 1376.8H306.23zM315.85 1363.9L323.5 1376.8H308.2zM317.81 1363.9L325.46 1376.8H310.16zM319.77 1363.9L327.42 1376.8H312.12zM321.74 1363.9L329.39 1376.8H314.09zM323.7 1363.9L331.35 1376.8H316.05zM325.67 1363.9L333.32 1376.8H318.02zM327.63 1363.9L335.28 1376.8H319.98zM329.59 1363.9L337.24 1376.8H321.94zM331.56 1363.9L339.21 1376.8H323.91zM333.52 1363.9L341.17 1376.8H325.87zM335.48 1363.9L343.13 1376.8H327.83zM337.45 1363.9L345.1 1376.8H329.8zM339.41 1363.9L347.06 1376.8H331.76zM341.38 1363.9L349.03 1376.8H333.73zM343.34 1363.9L350.99 1376.8H335.69zM345.3 1363.9L352.95 1376.8H337.65zM347.27 1363.9L354.92 1376.8H339.62zM349.23 1363.9L356.88 1376.8H341.58zM351.19 1363.9L358.84 1376.8H343.54zM353.16 1363.9L360.81 1376.8H345.51zM355.12 1363.9L362.77 1376.8H347.47zM357.08 1363.9L364.73 1376.8H349.43zM359.05 1363.9L366.7 1376.8H351.4zM361.01 1363.9L368.66 1376.8H353.36zM362.98 1363.9L370.63 1376.8H355.33zM364.94 1363.9L372.59 1376.8H357.29zM366.9 1363.9L374.55 1376.8H359.25zM368.87 1363.9L376.52 1376.8H361.22zM370.83 1363.9L378.48 1376.8H363.18zM372.79 1363.9L380.44 1376.8H365.14zM374.76 1363.9L382.41 1376.8H367.11zM376.72 1363.9L384.37 1376.8H369.07zM378.68 1363.9L386.33 1376.8H371.03zM380.65 1363.9L388.3 1376.8H373zM382.61 1363.9L390.26 1376.8H374.96zM384.58 1363.9L392.23 1376.8H376.93zM386.54 1363.9L394.19 1376.8H378.89zM388.5 1363.9L396.15 1376.8H380.85zM390.47 1363.9L398.12 1376.8H382.82zM392.43 1363.9L400.08 1376.8H384.78zM394.39 1363.9L402.04 1376.8H386.74zM396.36 1363.9L404.01 1376.8H388.71zM398.32 1363.9L405.97 1376.8H390.67zM400.29 1363.9L407.94 1376.8H392.64zM402.25 1363.9L409.9 1376.8H394.6zM404.21 1363.9L411.86 1376.8H396.56zM406.18 1363.9L413.83 1376.8H398.53zM408.14 1363.9L415.79 1376.8H400.49zM410.1 1363.9L417.75 1376.8H402.45zM412.07 1363.9L419.72 1376.8H404.42zM414.03 1363.9L421.68 1376.8H406.38zM415.99 1363.9L423.64 1376.8H408.34zM417.96 1363.9L425.61 1376.8H410.31zM419.92 1363.9L427.57 1376.8H412.27zM421.89 1363.9L429.54 1376.8H414.24zM423.85 1363.9L431.5 1376.8H416.2zM425.81 1363.9L433.46 1376.8H418.16zM427.78 1363.9L435.43 1376.8H420.13zM429.74 1363.9L437.39 1376.8H422.09zM431.7 1363.9L439.35 1376.8H424.05zM433.67 1363.9L441.32 1376.8H426.02zM435.63 1363.9L443.28 1376.8H427.98zM437.59 1363.9L445.24 1376.8H429.94zM439.56 1363.9L447.21 1376.8H431.91zM441.52 1363.9L449.17 1376.8H433.87zM443.49 1363.9L451.14 1376.8H435.84zM445.45 1363.9L453.1 1376.8H437.8zM447.41 1363.9L455.06 1376.8H439.76zM449.38 1363.9L457.03 1376.8H441.73zM451.34 1363.9L458.99 1376.8H443.69zM453.3 1363.9L460.95 1376.8H445.65zM455.27 1363.9L462.92 1376.8H447.62zM457.23 1363.9L464.88 1376.8H449.58zM459.2 1363.9L466.85 1376.8H451.55zM461.16 1363.9L468.81 1376.8H453.51zM463.12 1363.9L470.77 1376.8H455.47zM465.09 1363.9L472.74 1376.8H457.44zM467.05 1363.9L474.7 1376.8H459.4zM469.01 1363.9L476.66 1376.8H461.36zM470.98 1363.9L478.63 1376.8H463.33zM472.94 1363.9L480.59 1376.8H465.29zM474.9 1363.9L482.55 1376.8H467.25zM476.87 1363.9L484.52 1376.8H469.22zM478.83 1363.9L486.48 1376.8H471.18zM480.8 1363.9L488.45 1376.8H473.15zM482.76 1363.9L490.41 1376.8H475.11zM484.72 1363.9L492.37 1376.8H477.07zM486.69 1363.9L494.34 1376.8H479.04zM488.65 1363.9L496.3 1376.8H481zM490.61 1363.9L498.26 1376.8H482.96zM492.58 1363.9L500.23 1376.8H484.93zM494.54 1363.9L502.19 1376.8H486.89zM496.5 1363.9L504.15 1376.8H488.85zM498.47 1363.9L506.12 1376.8H490.82zM500.43 1363.9L508.08 1376.8H492.78zM502.4 1363.9L510.05 1376.8H494.75zM504.36 1363.9L512.01 1376.8H496.71zM506.32 1363.9L513.97 1376.8H498.67zM508.29 1363.9L515.94 1376.8H500.64zM510.25 1363.9L517.9 1376.8H502.6zM512.21 1363.9L519.86 1376.8H504.56zM514.18 1363.9L521.83 1376.8H506.53zM516.14 1363.9L523.79 1376.8H508.49zM518.11 1363.9L525.76 1376.8H510.46zM520.07 1363.9L527.72 1376.8H512.42zM522.03 1363.9L529.68 1376.8H514.38zM524 1363.9L531.65 1376.8H516.35zM525.96 1363.9L533.61 1376.8H518.31zM527.92 1363.9L535.57 1376.8H520.27zM529.89 1363.9L537.54 1376.8H522.24zM531.85 1363.9L539.5 1376.8H524.2zM533.81 1363.9L541.46 1376.8H526.16zM535.78 1363.9L543.43 1376.8H528.13zM537.74 1363.9L545.39 1376.8H530.09zM539.71 1363.9L547.36 1376.8H532.06zM541.67 1363.9L549.32 1376.8H534.02zM543.63 1363.9L551.28 1376.8H535.98zM545.6 1363.9L553.25 1376.8H537.95zM547.56 1363.9L555.21 1376.8H539.91zM549.52 1363.9L557.17 1376.8H541.87zM551.49 1363.9L559.14 1376.8H543.84zM553.45 1363.9L561.1 1376.8H545.8zM555.41 1363.9L563.06 1376.8H547.76zM557.38 1363.9L565.03 1376.8H549.73zM559.34 1360.98L566.99 1373.88H551.69zM561.31 1356.7L568.96 1369.6H553.66zM563.27 1352.43L570.92 1365.33H555.62zM565.23 1348.18L572.88 1361.08H557.58zM567.2 1344.03L574.85 1356.93H559.55zM569.16 1339.81L576.81 1352.71H561.51zM571.12 1335.54L578.77 1348.44H563.47zM573.09 1331.21L580.74 1344.11H565.44zM575.05 1326.81L582.7 1339.71H567.4zM577.02 1322.35L584.67 1335.25H569.37zM578.98 1317.83L586.63 1330.73H571.33zM580.94 1313.24L588.59 1326.14H573.29zM582.91 1308.59L590.56 1321.49H575.26zM584.87 1303.88L592.52 1316.78H577.22zM586.83 1299.1L594.48 1312H579.18zM588.8 1294.26L596.45 1307.16H581.15zM590.76 1289.36L598.41 1302.26H583.11zM592.72 1284.39L600.37 1297.29H585.07zM594.69 1279.36L602.34 1292.26H587.04zM596.65 1274.29L604.3 1287.19H589zM598.62 1269.18L606.27 1282.08H590.97zM600.58 1264.05L608.23 1276.95H592.93zM602.54 1258.9L610.19 1271.8H594.89zM604.51 1253.75L612.16 1266.65H596.86zM606.47 1248.61L614.12 1261.51H598.82zM608.43 1243.48L616.08 1256.38H600.78zM610.4 1238.38L618.05 1251.28H602.75zM612.36 1233.31L620.01 1246.21H604.71zM614.32 1228.3L621.97 1241.2H606.67zM616.29 1223.34L623.94 1236.24H608.64zM618.25 1218.45L625.9 1231.35H610.6zM620.22 1213.64L627.87 1226.54H612.57zM622.18 1208.92L629.83 1221.82H614.53zM624.14 1204.29L631.79 1217.19H616.49zM626.11 1199.78L633.76 1212.68H618.46zM628.07 1195.36L635.72 1208.26H620.42zM630.03 1191L637.68 1203.9H622.38zM632 1186.66L639.65 1199.56H624.35zM633.96 1182.29L641.61 1195.19H626.31zM635.93 1177.88L643.58 1190.78H628.28zM637.89 1173.37L645.54 1186.27H630.24zM639.85 1168.72L647.5 1181.62H632.2zM641.82 1163.91L649.47 1176.81H634.17zM643.78 1158.89L651.43 1171.79H636.13zM645.74 1153.68L653.39 1166.58H638.09zM647.71 1148.37L655.36 1161.27H640.06zM649.67 1143.03L657.32 1155.93H642.02zM651.63 1137.74L659.28 1150.64H643.98zM653.6 1132.58L661.25 1145.48H645.95zM655.56 1127.63L663.21 1140.53H647.91zM657.53 1122.92L665.18 1135.82H649.88zM659.49 1118.37L667.14 1131.27H651.84zM661.45 1113.91L669.1 1126.81H653.8zM663.42 1109.46L671.07 1122.36H655.77zM665.38 1104.94L673.03 1117.84H657.73zM667.34 1100.29L674.99 1113.19H659.69zM669.31 1095.42L676.96 1108.32H661.66zM671.27 1090.26L678.92 1103.16H663.62zM673.23 1084.74L680.88 1097.64H665.58zM675.2 1078.92L682.85 1091.82H667.55zM677.16 1072.9L684.81 1085.8H669.51zM679.13 1066.81L686.78 1079.71H671.48zM681.09 1060.76L688.74 1073.66H673.44zM683.05 1054.88L690.7 1067.78H675.4zM685.02 1049.26L692.67 1062.16H677.37zM686.98 1043.89L694.63 1056.79H679.33zM688.94 1038.73L696.59 1051.63H681.29zM690.91 1033.71L698.56 1046.61H683.26zM692.87 1028.81L700.52 1041.71H685.22zM694.84 1023.97L702.49 1036.87H687.19zM696.8 1019.14L704.45 1032.04H689.15zM698.76 1014.28L706.41 1027.18H691.11zM700.73 1009.36L708.38 1022.26H693.08zM702.69 1004.35L710.34 1017.25H695.04zM704.65 999.28L712.3 1012.18H697zM706.62 994.13L714.27 1007.03H698.97zM708.58 988.9L716.23 1001.8H700.93zM710.54 983.6L718.19 996.5H702.89zM712.51 978.22L720.16 991.12H704.86zM714.47 972.76L722.12 985.66H706.82zM716.44 967.24L724.09 980.14H708.79zM718.4 961.65L726.05 974.55H710.75zM720.36 956.02L728.01 968.92H712.71zM722.33 950.33L729.98 963.23H714.68zM724.29 944.61L731.94 957.51H716.64zM726.25 938.87L733.9 951.77H718.6zM728.22 933.1L735.87 946H720.57zM730.18 927.32L737.83 940.22H722.53zM732.14 921.53L739.79 934.43H724.49zM734.11 915.75L741.76 928.65H726.46zM736.07 909.97L743.72 922.87H728.42zM738.04 904.22L745.69 917.12H730.39zM740 898.49L747.65 911.39H732.35zM741.96 892.8L749.61 905.7H734.31zM743.93 887.15L751.58 900.05H736.28zM745.89 881.55L753.54 894.45H738.24zM747.85 876.01L755.5 888.91H740.2zM749.82 870.54L757.47 883.44H742.17zM751.78 865.14L759.43 878.04H744.13zM753.75 859.82L761.4 872.72H746.1zM755.71 854.6L763.36 867.5H748.06zM757.67 849.47L765.32 862.37H750.02zM759.64 844.45L767.29 857.35H751.99zM761.6 839.55L769.25 852.45H753.95zM763.56 834.76L771.21 847.66H755.91zM765.53 830.11L773.18 843.01H757.88zM767.49 825.59L775.14 838.49H759.84zM769.45 821.15L777.1 834.05H761.8zM771.42 816.76L779.07 829.66H763.77zM773.38 812.36L781.03 825.26H765.73zM775.35 807.91L783 820.81H767.7zM777.31 803.35L784.96 816.25H769.66zM779.27 798.63L786.92 811.53H771.62zM781.24 793.7L788.89 806.6H773.59zM783.2 788.52L790.85 801.42H775.55zM785.16 783.07L792.81 795.97H777.51zM787.13 777.45L794.78 790.35H779.48zM789.09 771.86L796.74 784.76H781.44zM791.05 766.49L798.7 779.39H783.4zM793.02 761.42L800.67 774.32H785.37zM794.98 756.64L802.63 769.54H787.33zM796.95 752.09L804.6 764.99H789.3zM798.91 747.75L806.56 760.65H791.26zM800.87 743.58L808.52 756.48H793.22zM802.84 739.54L810.49 752.44H795.19zM804.8 735.64L812.45 748.54H797.15zM806.76 731.88L814.41 744.78H799.11zM808.73 728.25L816.38 741.15H801.08zM810.69 724.76L818.34 737.66H803.04zM812.66 721.44L820.31 734.34H805.01zM814.62 718.32L822.27 731.22H806.97zM816.58 715.36L824.23 728.26H808.93zM818.55 712.53L826.2 725.43H810.9zM820.51 709.82L828.16 722.72H812.86zM822.47 707.25L830.12 720.15H814.82zM824.44 704.81L832.09 717.71H816.79zM826.4 702.49L834.05 715.39H818.75zM828.36 700.3L836.01 713.2H820.71zM830.33 698.24L837.98 711.14H822.68zM832.29 696.3L839.94 709.2H824.64zM834.26 694.49L841.91 707.39H826.61zM836.22 692.8L843.87 705.7H828.57zM838.18 691.25L845.83 704.15H830.53zM840.15 689.89L847.8 702.79H832.5zM842.11 688.72L849.76 701.62H834.46zM844.07 687.79L851.72 700.69H836.42zM846.04 687.12L853.69 700.02H838.39zM848 686.72L855.65 699.62H840.35zM849.96 686.64L857.61 699.54H842.31zM851.93 686.69L859.58 699.59H844.28zM853.89 686.63L861.54 699.53H846.24zM855.86 686.89L863.51 699.79H848.21zM857.82 687.52L865.47 700.42H850.17zM859.78 688.54L867.43 701.44H852.13zM861.75 689.97L869.4 702.87H854.1zM863.71 691.87L871.36 704.77H856.06zM865.67 694.26L873.32 707.16H858.02zM867.64 697.01L875.29 709.91H859.99zM869.6 700L877.25 712.9H861.95zM871.57 703.11L879.22 716.01H863.92zM873.53 706.15L881.18 719.05H865.88zM875.49 709.12L883.14 722.02H867.84zM877.46 712.08L885.11 724.98H869.81zM879.42 715.15L887.07 728.05H871.77zM881.38 718.6L889.03 731.5H873.73zM883.35 722.38L891 735.28H875.7zM885.31 726.53L892.96 739.43H877.66zM887.27 730.99L894.92 743.89H879.62zM889.24 735.65L896.89 748.55H881.59zM891.2 740.37L898.85 753.27H883.55zM893.17 745.11L900.82 758.01H885.52zM895.13 749.83L902.78 762.73H887.48zM897.09 754.5L904.74 767.4H889.44zM899.06 759.13L906.71 772.03H891.41zM901.02 763.72L908.67 776.62H893.37zM902.98 768.29L910.63 781.19H895.33zM904.95 772.84L912.6 785.74H897.3zM906.91 777.38L914.56 790.28H899.26zM908.87 781.93L916.52 794.83H901.22zM910.84 786.5L918.49 799.4H903.19zM912.8 791.1L920.45 804H905.15zM914.77 795.72L922.42 808.62H907.12zM916.73 800.4L924.38 813.3H909.08zM918.69 805.13L926.34 818.03H911.04zM920.66 809.93L928.31 822.83H913.01zM922.62 814.81L930.27 827.71H914.97zM924.58 819.77L932.23 832.67H916.93zM926.55 824.83L934.2 837.73H918.9zM928.51 830L936.16 842.9H920.86zM930.48 835.27L938.13 848.17H922.83zM932.44 840.62L940.09 853.52H924.79zM934.4 846.04L942.05 858.94H926.75zM936.37 851.53L944.02 864.43H928.72zM938.33 857.06L945.98 869.96H930.68zM940.29 862.62L947.94 875.52H932.64zM942.26 868.21L949.91 881.11H934.61zM944.22 873.81L951.87 886.71H936.57zM946.18 879.4L953.83 892.3H938.53zM948.15 884.99L955.8 897.89H940.5zM950.11 890.56L957.76 903.46H942.46zM952.08 896.11L959.73 909.01H944.43zM954.04 901.63L961.69 914.53H946.39zM956 907.1L963.65 920H948.35zM957.97 912.53L965.62 925.43H950.32zM959.93 917.9L967.58 930.8H952.28zM961.89 923.2L969.54 936.1H954.24zM963.86 928.42L971.51 941.32H956.21zM965.82 933.57L973.47 946.47H958.17zM967.78 938.62L975.43 951.52H960.13zM969.75 943.57L977.4 956.47H962.1zM971.71 948.42L979.36 961.32H964.06zM973.68 953.17L981.33 966.07H966.03zM975.64 957.84L983.29 970.74H967.99zM977.6 962.43L985.25 975.33H969.95zM979.57 966.96L987.22 979.86H971.92zM981.53 971.43L989.18 984.33H973.88zM983.49 975.85L991.14 988.75H975.84zM985.46 980.23L993.11 993.13H977.81zM987.42 984.58L995.07 997.48H979.77zM989.39 988.91L997.04 1001.81H981.74zM991.35 993.23L999 1006.13H983.7zM993.31 997.54L1000.96 1010.44H985.66zM995.28 1001.84L1002.93 1014.74H987.63zM997.24 1006.13L1004.89 1019.03H989.59zM999.2 1010.41L1006.85 1023.31H991.55zM1001.17 1014.67L1008.82 1027.57H993.52zM1003.13 1018.92L1010.78 1031.82H995.48zM1005.09 1023.15L1012.74 1036.05H997.44zM1007.06 1027.37L1014.71 1040.27H999.41zM1009.02 1031.56L1016.67 1044.46H1001.37zM1010.99 1035.74L1018.64 1048.64H1003.34zM1012.95 1039.9L1020.6 1052.8H1005.3zM1014.91 1044.04L1022.56 1056.94H1007.26zM1016.88 1048.15L1024.53 1061.05H1009.23zM1018.84 1052.24L1026.49 1065.14H1011.19zM1020.8 1056.31L1028.45 1069.21H1013.15zM1022.77 1060.34L1030.42 1073.24H1015.12zM1024.73 1064.35L1032.38 1077.25H1017.08zM1026.69 1068.34L1034.34 1081.24H1019.04zM1028.66 1072.29L1036.31 1085.19H1021.01zM1030.62 1076.21L1038.27 1089.11H1022.97zM1032.59 1080.1L1040.24 1093H1024.94zM1034.55 1083.96L1042.2 1096.86H1026.9zM1036.51 1087.78L1044.16 1100.68H1028.86zM1038.48 1091.56L1046.13 1104.46H1030.83zM1040.44 1095.31L1048.09 1108.21H1032.79zM1042.4 1099.02L1050.05 1111.92H1034.75zM1044.37 1102.69L1052.02 1115.59H1036.72zM1046.33 1106.33L1053.98 1119.23H1038.68zM1048.3 1109.92L1055.95 1122.82H1040.65zM1050.26 1113.46L1057.91 1126.36H1042.61zM1052.22 1116.97L1059.87 1129.87H1044.57zM1054.19 1120.43L1061.84 1133.33H1046.54zM1056.15 1123.84L1063.8 1136.74H1048.5zM1058.11 1127.21L1065.76 1140.11H1050.46zM1060.08 1130.57L1067.73 1143.47H1052.43zM1062.04 1133.89L1069.69 1146.79H1054.39zM1064 1137.16L1071.65 1150.06H1056.35zM1065.97 1140.4L1073.62 1153.3H1058.32zM1067.93 1143.59L1075.58 1156.49H1060.28zM1069.9 1146.74L1077.55 1159.64H1062.25zM1071.86 1149.86L1079.51 1162.76H1064.21zM1073.82 1152.93L1081.47 1165.83H1066.17zM1075.79 1155.97L1083.44 1168.87H1068.14zM1077.75 1158.96L1085.4 1171.86H1070.1zM1079.71 1161.92L1087.36 1174.82H1072.06zM1081.68 1164.83L1089.33 1177.73H1074.03zM1083.64 1167.71L1091.29 1180.61H1075.99zM1085.6 1170.55L1093.25 1183.45H1077.95zM1087.57 1173.36L1095.22 1186.26H1079.92zM1089.53 1176.12L1097.18 1189.02H1081.88zM1091.5 1178.85L1099.15 1191.75H1083.85zM1093.46 1181.55L1101.11 1194.45H1085.81zM1095.42 1184.21L1103.07 1197.11H1087.77zM1097.39 1186.83L1105.04 1199.73H1089.74zM1099.35 1189.42L1107 1202.32H1091.7zM1101.31 1191.98L1108.96 1204.88H1093.66zM1103.28 1194.5L1110.93 1207.4H1095.63zM1105.24 1196.99L1112.89 1209.89H1097.59zM1107.21 1199.45L1114.86 1212.35H1099.56zM1109.17 1201.88L1116.82 1214.78H1101.52zM1111.13 1204.27L1118.78 1217.17H1103.48zM1113.1 1206.63L1120.75 1219.53H1105.45zM1115.06 1208.97L1122.71 1221.87H1107.41zM1117.02 1211.27L1124.67 1224.17H1109.37zM1118.99 1213.55L1126.64 1226.45H1111.34zM1120.95 1215.79L1128.6 1228.69H1113.3zM1122.91 1218.01L1130.56 1230.91H1115.26zM1124.88 1220.2L1132.53 1233.1H1117.23zM1126.84 1222.36L1134.49 1235.26H1119.19zM1128.81 1224.49L1136.46 1237.39H1121.16zM1130.77 1226.6L1138.42 1239.5H1123.12zM1132.73 1228.68L1140.38 1241.58H1125.08zM1134.7 1230.74L1142.35 1243.64H1127.05zM1136.66 1232.77L1144.31 1245.67H1129.01zM1138.62 1234.78L1146.27 1247.68H1130.97zM1140.59 1236.76L1148.24 1249.66H1132.94zM1142.55 1238.72L1150.2 1251.62H1134.9zM1144.51 1240.66L1152.16 1253.56H1136.86zM1146.48 1242.57L1154.13 1255.47H1138.83zM1148.44 1244.46L1156.09 1257.36H1140.79zM1150.41 1246.33L1158.06 1259.23H1142.76zM1152.37 1248.18L1160.02 1261.08H1144.72zM1154.33 1250.01L1161.98 1262.91H1146.68zM1156.3 1251.82L1163.95 1264.72H1148.65zM1158.26 1253.61L1165.91 1266.51H1150.61zM1160.22 1255.38L1167.87 1268.28H1152.57zM1162.19 1257.13L1169.84 1270.03H1154.54zM1164.15 1258.86L1171.8 1271.76H1156.5zM1166.12 1260.57L1173.77 1273.47H1158.47zM1168.08 1262.27L1175.73 1275.17H1160.43zM1170.04 1263.95L1177.69 1276.85H1162.39zM1172.01 1265.6L1179.66 1278.5H1164.36zM1173.97 1267.24L1181.62 1280.14H1166.32zM1175.93 1268.87L1183.58 1281.77H1168.28zM1177.9 1270.47L1185.55 1283.37H1170.25zM1179.86 1272.06L1187.51 1284.96H1172.21zM1181.82 1273.62L1189.47 1286.52H1174.17zM1183.79 1275.17L1191.44 1288.07H1176.14zM1185.75 1276.71L1193.4 1289.61H1178.1zM1187.72 1278.22L1195.37 1291.12H1180.07zM1189.68 1279.72L1197.33 1292.62H1182.03zM1191.64 1281.2L1199.29 1294.1H1183.99zM1193.61 1282.67L1201.26 1295.57H1185.96zM1195.57 1284.12L1203.22 1297.02H1187.92zM1197.53 1285.55L1205.18 1298.45H1189.88zM1199.5 1286.96L1207.15 1299.86H1191.85zM1201.46 1288.36L1209.11 1301.26H1193.81zM1203.42 1289.74L1211.07 1302.64H1195.77zM1205.39 1291.11L1213.04 1304.01H1197.74zM1207.35 1292.46L1215 1305.36H1199.7zM1209.32 1293.79L1216.97 1306.69H1201.67zM1211.28 1295.11L1218.93 1308.01H1203.63zM1213.24 1296.41L1220.89 1309.31H1205.59zM1215.21 1297.7L1222.86 1310.6H1207.56zM1217.17 1298.97L1224.82 1311.87H1209.52zM1219.13 1300.23L1226.78 1313.13H1211.48zM1221.1 1301.47L1228.75 1314.37H1213.45zM1223.06 1302.69L1230.71 1315.59H1215.41zM1225.03 1303.9L1232.68 1316.8H1217.38zM1226.99 1305.1L1234.64 1318H1219.34zM1228.95 1306.28L1236.6 1319.18H1221.3zM1230.92 1307.45L1238.57 1320.35H1223.27zM1232.88 1308.6L1240.53 1321.5H1225.23zM1234.84 1309.74L1242.49 1322.64H1227.19zM1236.81 1310.87L1244.46 1323.77H1229.16zM1238.77 1311.98L1246.42 1324.88H1231.12zM1240.73 1313.08L1248.38 1325.98H1233.08zM1242.7 1314.16L1250.35 1327.06H1235.05zM1244.66 1315.24L1252.31 1328.14H1237.01zM1246.63 1316.3L1254.28 1329.2H1238.98zM1248.59 1317.35L1256.24 1330.25H1240.94zM1250.55 1318.39L1258.2 1331.29H1242.9zM1252.52 1319.41L1260.17 1332.31H1244.87zM1254.48 1320.43L1262.13 1333.33H1246.83zM1256.44 1321.43L1264.09 1334.33H1248.79zM1258.41 1322.42L1266.06 1335.32H1250.76zM1260.37 1323.41L1268.02 1336.31H1252.72zM1262.33 1324.38L1269.98 1337.28H1254.68zM1264.3 1325.34L1271.95 1338.24H1256.65zM1266.26 1326.3L1273.91 1339.2H1258.61zM1268.23 1327.24L1275.88 1340.14H1260.58zM1270.19 1328.17L1277.84 1341.07H1262.54zM1272.15 1329.1L1279.8 1342H1264.5zM1274.12 1330.01L1281.77 1342.91H1266.47zM1276.08 1330.92L1283.73 1343.82H1268.43zM1278.04 1331.82L1285.69 1344.72H1270.39zM1280.01 1332.71L1287.66 1345.61H1272.36zM1281.97 1333.6L1289.62 1346.5H1274.32zM1283.94 1334.48L1291.59 1347.38H1276.29zM1285.9 1335.35L1293.55 1348.25H1278.25zM1287.86 1336.21L1295.51 1349.11H1280.21zM1289.83 1337.07L1297.48 1349.97H1282.18zM1291.79 1337.92L1299.44 1350.82H1284.14zM1293.75 1338.76L1301.4 1351.66H1286.1zM1295.72 1339.6L1303.37 1352.5H1288.07zM1297.68 1340.43L1305.33 1353.33H1290.03zM1299.64 1341.26L1307.29 1354.16H1291.99zM1301.61 1342.08L1309.26 1354.98H1293.96zM1303.57 1342.9L1311.22 1355.8H1295.92zM1305.54 1343.71L1313.19 1356.61H1297.89zM1307.5 1344.52L1315.15 1357.42H1299.85zM1309.46 1345.32L1317.11 1358.22H1301.81zM1311.43 1346.12L1319.08 1359.02H1303.78zM1313.39 1346.92L1321.04 1359.82H1305.74zM1315.35 1347.71L1323 1360.61H1307.7zM1317.32 1348.5L1324.97 1361.4H1309.67zM1319.28 1349.29L1326.93 1362.19H1311.63zM1321.24 1350.08L1328.89 1362.98H1313.59zM1323.21 1350.86L1330.86 1363.76H1315.56zM1325.17 1351.64L1332.82 1364.54H1317.52zM1327.14 1352.42L1334.79 1365.32H1319.49zM1329.1 1353.2L1336.75 1366.1H1321.45zM1331.06 1353.98L1338.71 1366.88H1323.41zM1333.03 1354.75L1340.68 1367.65H1325.38zM1334.99 1355.53L1342.64 1368.43H1327.34zM1336.95 1356.31L1344.6 1369.21H1329.3zM1338.92 1357.08L1346.57 1369.98H1331.27zM1340.88 1357.82L1348.53 1370.72H1333.23zM1342.85 1358.52L1350.5 1371.42H1335.2zM1344.81 1359.22L1352.46 1372.12H1337.16zM1346.77 1359.91L1354.42 1372.81H1339.12zM1348.74 1360.61L1356.39 1373.51H1341.09zM1350.7 1361.31L1358.35 1374.21H1343.05zM1352.66 1362L1360.31 1374.9H1345.01zM1354.63 1362.7L1362.28 1375.6H1346.98zM1356.59 1363.4L1364.24 1376.3H1348.94zM1358.55 1363.9L1366.2 1376.8H1350.9zM1360.52 1363.9L1368.17 1376.8H1352.87zM1362.48 1363.9L1370.13 1376.8H1354.83zM1364.45 1363.9L1372.1 1376.8H1356.8zM1366.41 1363.9L1374.06 1376.8H1358.76zM1368.37 1363.9L1376.02 1376.8H1360.72zM1370.34 1363.9L1377.99 1376.8H1362.69zM1372.3 1363.9L1379.95 1376.8H1364.65zM1374.26 1363.9L1381.91 1376.8H1366.61zM1376.23 1363.9L1383.88 1376.8H1368.58zM1378.19 1363.9L1385.84 1376.8H1370.54zM1380.15 1363.9L1387.8 1376.8H1372.5zM1382.12 1363.9L1389.77 1376.8H1374.47zM1384.08 1363.9L1391.73 1376.8H1376.43zM1386.05 1363.9L1393.7 1376.8H1378.4zM1388.01 1363.9L1395.66 1376.8H1380.36zM1389.97 1363.9L1397.62 1376.8H1382.32zM1391.94 1363.9L1399.59 1376.8H1384.29zM1393.9 1363.9L1401.55 1376.8H1386.25zM1395.86 1363.9L1403.51 1376.8H1388.21zM1397.83 1363.9L1405.48 1376.8H1390.18zM1399.79 1363.9L1407.44 1376.8H1392.14zM1401.76 1363.9L1409.41 1376.8H1394.11zM1403.72 1363.9L1411.37 1376.8H1396.07zM1405.68 1363.9L1413.33 1376.8H1398.03zM1407.65 1363.9L1415.3 1376.8H1400zM1409.61 1363.9L1417.26 1376.8H1401.96zM1411.57 1363.9L1419.22 1376.8H1403.92zM1413.54 1363.9L1421.19 1376.8H1405.89zM1415.5 1363.9L1423.15 1376.8H1407.85zM1417.46 1363.9L1425.11 1376.8H1409.81zM1419.43 1363.9L1427.08 1376.8H1411.78zM1421.39 1363.9L1429.04 1376.8H1413.74zM1423.36 1363.9L1431.01 1376.8H1415.71zM1425.32 1363.9L1432.97 1376.8H1417.67zM1427.28 1363.9L1434.93 1376.8H1419.63zM1429.25 1363.9L1436.9 1376.8H1421.6zM1431.21 1363.9L1438.86 1376.8H1423.56zM1433.17 1363.9L1440.82 1376.8H1425.52zM1435.14 1363.9L1442.79 1376.8H1427.49zM1437.1 1363.9L1444.75 1376.8H1429.45zM1439.06 1363.9L1446.71 1376.8H1431.41zM1441.03 1363.9L1448.68 1376.8H1433.38zM1442.99 1363.9L1450.64 1376.8H1435.34zM1444.96 1363.9L1452.61 1376.8H1437.31zM1446.92 1363.9L1454.57 1376.8H1439.27zM1448.88 1363.9L1456.53 1376.8H1441.23zM1450.85 1363.9L1458.5 1376.8H1443.2zM1452.81 1363.9L1460.46 1376.8H1445.16zM1454.77 1363.9L1462.42 1376.8H1447.12zM1456.74 1363.9L1464.39 1376.8H1449.09zM1458.7 1363.9L1466.35 1376.8H1451.05zM1460.67 1363.9L1468.32 1376.8H1453.02zM1462.63 1363.9L1470.28 1376.8H1454.98zM1464.59 1363.9L1472.24 1376.8H1456.94zM1466.56 1363.9L1474.21 1376.8H1458.91zM1468.52 1363.9L1476.17 1376.8H1460.87zM1470.48 1363.9L1478.13 1376.8H1462.83zM1472.45 1363.9L1480.1 1376.8H1464.8zM1474.41 1363.9L1482.06 1376.8H1466.76zM1476.37 1363.9L1484.02 1376.8H1468.72zM1478.34 1363.9L1485.99 1376.8H1470.69zM1480.3 1363.9L1487.95 1376.8H1472.65zM1482.27 1363.9L1489.92 1376.8H1474.62zM1484.23 1363.9L1491.88 1376.8H1476.58zM1486.19 1363.9L1493.84 1376.8H1478.54zM1488.16 1363.9L1495.81 1376.8H1480.51zM1490.12 1363.9L1497.77 1376.8H1482.47zM1492.08 1363.9L1499.73 1376.8H1484.43zM1494.05 1363.9L1501.7 1376.8H1486.4zM1496.01 1363.9L1503.66 1376.8H1488.36zM1497.97 1363.9L1505.62 1376.8H1490.32zM1499.94 1363.9L1507.59 1376.8H1492.29zM1501.9 1363.9L1509.55 1376.8H1494.25zM1503.87 1363.9L1511.52 1376.8H1496.22zM1505.83 1363.9L1513.48 1376.8H1498.18zM1507.79 1363.9L1515.44 1376.8H1500.14zM1509.76 1363.9L1517.41 1376.8H1502.11zM1511.72 1363.9L1519.37 1376.8H1504.07zM1513.68 1363.9L1521.33 1376.8H1506.03zM1515.65 1363.9L1523.3 1376.8H1508zM1517.61 1363.9L1525.26 1376.8H1509.96zM1519.58 1363.9L1527.23 1376.8H1511.93zM1521.54 1363.9L1529.19 1376.8H1513.89zM1523.5 1363.9L1531.15 1376.8H1515.85zM1525.47 1363.9L1533.12 1376.8H1517.82zM1527.43 1363.9L1535.08 1376.8H1519.78zM1529.39 1363.9L1537.04 1376.8H1521.74zM1531.36 1363.9L1539.01 1376.8H1523.71zM1533.32 1363.9L1540.97 1376.8H1525.67zM1535.28 1363.9L1542.93 1376.8H1527.63zM1537.25 1363.9L1544.9 1376.8H1529.6zM1539.21 1363.9L1546.86 1376.8H1531.56zM1541.18 1363.9L1548.83 1376.8H1533.53zM1543.14 1363.9L1550.79 1376.8H1535.49zM1545.1 1363.9L1552.75 1376.8H1537.45zM1547.07 1363.9L1554.72 1376.8H1539.42zM1549.03 1363.9L1556.68 1376.8H1541.38zM1550.99 1363.9L1558.64 1376.8H1543.34zM1552.96 1363.9L1560.61 1376.8H1545.31zM1554.92 1363.9L1562.57 1376.8H1547.27zM1556.88 1363.9L1564.53 1376.8H1549.23zM1558.85 1363.9L1566.5 1376.8H1551.2zM1560.81 1363.9L1568.46 1376.8H1553.16zM1562.78 1363.9L1570.43 1376.8H1555.13zM1564.74 1363.9L1572.39 1376.8H1557.09zM1566.7 1363.9L1574.35 1376.8H1559.05zM1568.67 1363.9L1576.32 1376.8H1561.02zM1570.63 1363.9L1578.28 1376.8H1562.98zM1572.59 1363.9L1580.24 1376.8H1564.94zM1574.56 1363.9L1582.21 1376.8H1566.91zM1576.52 1363.9L1584.17 1376.8H1568.87zM1578.49 1363.9L1586.14 1376.8H1570.84zM1580.45 1363.9L1588.1 1376.8H1572.8zM1582.41 1363.9L1590.06 1376.8H1574.76zM1584.38 1363.9L1592.03 1376.8H1576.73zM1586.34 1363.9L1593.99 1376.8H1578.69zM1588.3 1363.9L1595.95 1376.8H1580.65zM1590.27 1363.9L1597.92 1376.8H1582.62zM1592.23 1363.9L1599.88 1376.8H1584.58zM1594.19 1363.9L1601.84 1376.8H1586.54zM1596.16 1363.9L1603.81 1376.8H1588.51zM1598.12 1363.9L1605.77 1376.8H1590.47zM1600.09 1363.9L1607.74 1376.8H1592.44zM1602.05 1363.9L1609.7 1376.8H1594.4zM1604.01 1363.9L1611.66 1376.8H1596.36zM1605.98 1363.9L1613.63 1376.8H1598.33zM1607.94 1363.9L1615.59 1376.8H1600.29zM1609.9 1363.9L1617.55 1376.8H1602.25zM1611.87 1363.9L1619.52 1376.8H1604.22zM1613.83 1363.9L1621.48 1376.8H1606.18zM1615.79 1363.9L1623.44 1376.8H1608.14zM1617.76 1363.9L1625.41 1376.8H1610.11zM1619.72 1363.9L1627.37 1376.8H1612.07zM1621.69 1363.9L1629.34 1376.8H1614.04zM1623.65 1363.9L1631.3 1376.8H1616zM1625.61 1363.9L1633.26 1376.8H1617.96zM1627.58 1363.9L1635.23 1376.8H1619.93zM1629.54 1363.9L1637.19 1376.8H1621.89zM1631.5 1363.9L1639.15 1376.8H1623.85zM1633.47 1363.9L1641.12 1376.8H1625.82zM1635.43 1363.9L1643.08 1376.8H1627.78zM1637.4 1363.9L1645.05 1376.8H1629.75zM1639.36 1363.9L1647.01 1376.8H1631.71zM1641.32 1363.9L1648.97 1376.8H1633.67zM1643.29 1363.9L1650.94 1376.8H1635.64zM1645.25 1363.9L1652.9 1376.8H1637.6zM1647.21 1363.9L1654.86 1376.8H1639.56zM1649.18 1363.9L1656.83 1376.8H1641.53zM1651.14 1363.9L1658.79 1376.8H1643.49zM1653.1 1363.9L1660.75 1376.8H1645.45zM1655.07 1363.9L1662.72 1376.8H1647.42zM1657.03 1363.9L1664.68 1376.8H1649.38zM1659 1363.9L1666.65 1376.8H1651.35zM1660.96 1363.9L1668.61 1376.8H1653.31zM1662.92 1363.9L1670.57 1376.8H1655.27zM1664.89 1363.9L1672.54 1376.8H1657.24zM1666.85 1363.9L1674.5 1376.8H1659.2zM1668.81 1363.9L1676.46 1376.8H1661.16zM1670.78 1363.9L1678.43 1376.8H1663.13zM1672.74 1363.9L1680.39 1376.8H1665.09zM1674.7 1363.9L1682.35 1376.8H1667.05zM1676.67 1363.9L1684.32 1376.8H1669.02zM1678.63 1363.9L1686.28 1376.8H1670.98zM1680.6 1363.9L1688.25 1376.8H1672.95zM1682.56 1363.9L1690.21 1376.8H1674.91zM1684.52 1363.9L1692.17 1376.8H1676.87zM1686.49 1363.9L1694.14 1376.8H1678.84zM1688.45 1363.9L1696.1 1376.8H1680.8zM1690.41 1363.9L1698.06 1376.8H1682.76zM1692.38 1363.9L1700.03 1376.8H1684.73zM1694.34 1363.9L1701.99 1376.8H1686.69zM1696.31 1363.9L1703.96 1376.8H1688.66zM1698.27 1363.9L1705.92 1376.8H1690.62zM1700.23 1363.9L1707.88 1376.8H1692.58zM1702.2 1363.9L1709.85 1376.8H1694.55zM1704.16 1363.9L1711.81 1376.8H1696.51zM1706.12 1363.9L1713.77 1376.8H1698.47zM1708.09 1363.9L1715.74 1376.8H1700.44zM1710.05 1363.9L1717.7 1376.8H1702.4zM1712.01 1363.9L1719.66 1376.8H1704.36zM1713.98 1363.9L1721.63 1376.8H1706.33zM1715.94 1363.9L1723.59 1376.8H1708.29zM1717.91 1363.9L1725.56 1376.8H1710.26zM1719.87 1363.9L1727.52 1376.8H1712.22zM1721.83 1363.9L1729.48 1376.8H1714.18zM1723.8 1363.9L1731.45 1376.8H1716.15zM1725.76 1363.9L1733.41 1376.8H1718.11zM1727.72 1363.9L1735.37 1376.8H1720.07zM1729.69 1363.9L1737.34 1376.8H1722.04zM1731.65 1363.9L1739.3 1376.8H1724zM1733.61 1363.9L1741.26 1376.8H1725.96zM1735.58 1363.9L1743.23 1376.8H1727.93zM1737.54 1363.9L1745.19 1376.8H1729.89zM1739.51 1363.9L1747.16 1376.8H1731.86zM1741.47 1363.9L1749.12 1376.8H1733.82zM1743.43 1363.9L1751.08 1376.8H1735.78zM1745.4 1363.9L1753.05 1376.8H1737.75zM1747.36 1363.9L1755.01 1376.8H1739.71zM1749.32 1363.9L1756.97 1376.8H1741.67zM1751.29 1363.9L1758.94 1376.8H1743.64zM1753.25 1363.9L1760.9 1376.8H1745.6zM1755.22 1363.9L1762.87 1376.8H1747.57zM1757.18 1363.9L1764.83 1376.8H1749.53zM1759.14 1363.9L1766.79 1376.8H1751.49zM1761.11 1363.9L1768.76 1376.8H1753.46zM1763.07 1363.9L1770.72 1376.8H1755.42zM1765.03 1363.9L1772.68 1376.8H1757.38zM1767 1363.9L1774.65 1376.8H1759.35zM1768.96 1363.9L1776.61 1376.8H1761.31zM1770.92 1363.9L1778.57 1376.8H1763.27zM1772.89 1363.9L1780.54 1376.8H1765.24zM1774.85 1363.9L1782.5 1376.8H1767.2zM1776.82 1363.9L1784.47 1376.8H1769.17zM1778.78 1363.9L1786.43 1376.8H1771.13zM1780.74 1363.9L1788.39 1376.8H1773.09zM1782.71 1363.9L1790.36 1376.8H1775.06zM1784.67 1363.9L1792.32 1376.8H1777.02zM1786.63 1363.9L1794.28 1376.8H1778.98zM1788.6 1363.9L1796.25 1376.8H1780.95zM1790.56 1363.9L1798.21 1376.8H1782.91zM1792.52 1363.9L1800.17 1376.8H1784.87zM1794.49 1363.9L1802.14 1376.8H1786.84zM1796.45 1363.9L1804.1 1376.8H1788.8zM1798.42 1363.9L1806.07 1376.8H1790.77zM1800.38 1363.9L1808.03 1376.8H1792.73zM1802.34 1363.9L1809.99 1376.8H1794.69zM1804.31 1363.9L1811.96 1376.8H1796.66zM1806.27 1363.9L1813.92 1376.8H1798.62zM1808.23 1363.9L1815.88 1376.8H1800.58zM1810.2 1363.9L1817.85 1376.8H1802.55zM1812.16 1363.9L1819.81 1376.8H1804.51zM1814.13 1363.9L1821.78 1376.8H1806.48zM1816.09 1363.9L1823.74 1376.8H1808.44zM1818.05 1363.9L1825.7 1376.8H1810.4zM1820.02 1363.9L1827.67 1376.8H1812.37zM1821.98 1363.9L1829.63 1376.8H1814.33zM1823.94 1363.9L1831.59 1376.8H1816.29zM1825.91 1363.9L1833.56 1376.8H1818.26zM1827.87 1363.9L1835.52 1376.8H1820.22zM1829.83 1363.9L1837.48 1376.8H1822.18zM1831.8 1363.9L1839.45 1376.8H1824.15z" fill="#0071E5"/>
<path d="" fill="none" stroke="#000" stroke-width="4"/>
<path d="M165.57 1381L173.22 1368.4H157.92zM168.32 1381L175.97 1368.4H160.67zM171.07 1381L178.72 1368.4H163.42zM173.82 1381L181.47 1368.4H166.17zM176.57 1381L184.22 1368.4H168.92zM179.32 1381L186.97 1368.4H171.67zM182.07 1381L189.72 1368.4H174.42zM184.82 1381L192.47 1368.4H177.17zM187.57 1381L195.22 1368.4H179.92zM190.32 1381L197.97 1368.4H182.67zM193.06 1381L200.71 1368.4H185.41zM195.81 1381L203.46 1368.4H188.16zM198.56 1381L206.21 1368.4H190.91zM201.31 1381L208.96 1368.4H193.66zM204.06 1381L211.71 1368.4H196.41zM206.81 1381L214.46 1368.4H199.16zM209.56 1381L217.21 1368.4H201.91zM212.31 1381L219.96 1368.4H204.66zM215.06 1381L222.71 1368.4H207.41zM217.81 1381L225.46 1368.4H210.16zM220.56 1381L228.21 1368.4H212.91zM223.31 1381L230.96 1368.4H215.66zM226.05 1381L233.7 1368.4H218.4zM228.8 1381L236.45 1368.4H221.15zM231.55 1381L239.2 1368.4H223.9zM234.3 1381L241.95 1368.4H226.65zM237.05 1381L244.7 1368.4H229.4zM239.8 1381L247.45 1368.4H232.15zM242.55 1381L250.2 1368.4H234.9zM245.3 1381L252.95 1368.4H237.65zM248.05 1381L255.7 1368.4H240.4zM250.8 1381L258.45 1368.4H243.15zM253.55 1381L261.2 1368.4H245.9zM256.29 1381L263.94 1368.4H248.64zM259.04 1381L266.69 1368.4H251.39zM261.79 1381L269.44 1368.4H254.14zM264.54 1381L272.19 1368.4H256.89zM267.29 1381L274.94 1368.4H259.64zM270.04 1381L277.69 1368.4H262.39zM272.79 1381L280.44 1368.4H265.14zM275.54 1381L283.19 1368.4H267.89zM278.29 1381L285.94 1368.4H270.64zM281.04 1381L288.69 1368.4H273.39zM283.79 1381L291.44 1368.4H276.14zM286.54 1381L294.19 1368.4H278.89zM289.28 1381L296.93 1368.4H281.63zM292.03 1381L299.68 1368.4H284.38zM294.78 1381L302.43 1368.4H287.13zM297.53 1381L305.18 1368.4H289.88zM300.28 1381L307.93 1368.4H292.63zM303.03 1381L310.68 1368.4H295.38zM305.78 1381L313.43 1368.4H298.13zM308.53 1381L316.18 1368.4H300.88zM311.28 1381L318.93 1368.4H303.63zM314.03 1381L321.68 1368.4H306.38zM316.78 1381L324.43 1368.4H309.13zM319.52 1381L327.17 1368.4H311.87zM322.27 1381L329.92 1368.4H314.62zM325.02 1381L332.67 1368.4H317.37zM327.77 1381L335.42 1368.4H320.12zM330.52 1381L338.17 1368.4H322.87zM333.27 1381L340.92 1368.4H325.62zM336.02 1381L343.67 1368.4H328.37zM338.77 1381L346.42 1368.4H331.12zM341.52 1381L349.17 1368.4H333.87zM344.27 1381L351.92 1368.4H336.62zM347.02 1381L354.67 1368.4H339.37zM349.77 1381L357.42 1368.4H342.12zM352.51 1381L360.16 1368.4H344.86zM355.26 1381L362.91 1368.4H347.61zM358.01 1381L365.66 1368.4H350.36zM360.76 1381L368.41 1368.4H353.11zM363.51 1381L371.16 1368.4H355.86zM366.26 1381L373.91 1368.4H358.61zM369.01 1381L376.66 1368.4H361.36zM371.76 1381L379.41 1368.4H364.11zM374.51 1381L382.16 1368.4H366.86zM377.26 1381L384.91 1368.4H369.61zM380.01 1381L387.66 1368.4H372.36zM382.75 1381L390.4 1368.4H375.1zM385.5 1381L393.15 1368.4H377.85zM388.25 1381L395.9 1368.4H380.6zM391 1381L398.65 1368.4H383.35zM393.75 1381L401.4 1368.4H386.1zM396.5 1381L404.15 1368.4H388.85zM399.25 1381L406.9 1368.4H391.6zM402 1381L409.65 1368.4H394.35zM404.75 1381L412.4 1368.4H397.1zM407.5 1381L415.15 1368.4H399.85zM410.25 1381L417.9 1368.4H402.6zM413 1381L420.65 1368.4H405.35zM415.74 1381L423.39 1368.4H408.09zM418.49 1381L426.14 1368.4H410.84zM421.24 1381L428.89 1368.4H413.59zM423.99 1381L431.64 1368.4H416.34zM426.74 1381L434.39 1368.4H419.09zM429.49 1381L437.14 1368.4H421.84zM432.24 1381L439.89 1368.4H424.59zM434.99 1381L442.64 1368.4H427.34zM437.74 1381L445.39 1368.4H430.09zM440.49 1381L448.14 1368.4H432.84zM443.24 1381L450.89 1368.4H435.59zM445.98 1381L453.63 1368.4H438.33zM448.73 1381L456.38 1368.4H441.08zM451.48 1381L459.13 1368.4H443.83zM454.23 1381L461.88 1368.4H446.58zM456.98 1381L464.63 1368.4H449.33zM459.73 1381L467.38 1368.4H452.08zM462.48 1381L470.13 1368.4H454.83zM465.23 1381L472.88 1368.4H457.58zM467.98 1381L475.63 1368.4H460.33zM470.73 1381L478.38 1368.4H463.08zM473.48 1381L481.13 1368.4H465.83zM476.23 1381L483.88 1368.4H468.58zM478.97 1381L486.62 1368.4H471.32zM481.72 1381L489.37 1368.4H474.07zM484.47 1381L492.12 1368.4H476.82zM487.22 1381L494.87 1368.4H479.57zM489.97 1381L497.62 1368.4H482.32zM492.72 1381L500.37 1368.4H485.07zM495.47 1381L503.12 1368.4H487.82zM498.22 1381L505.87 1368.4H490.57zM500.97 1381L508.62 1368.4H493.32zM503.72 1381L511.37 1368.4H496.07zM506.47 1381L514.12 1368.4H498.82zM509.22 1381L516.87 1368.4H501.57zM511.96 1381L519.61 1368.4H504.31zM514.71 1381L522.36 1368.4H507.06zM517.46 1381L525.11 1368.4H509.81zM520.21 1381L527.86 1368.4H512.56zM522.96 1381L530.61 1368.4H515.31zM525.71 1381L533.36 1368.4H518.06zM528.46 1381L536.11 1368.4H520.81zM531.21 1381L538.86 1368.4H523.56zM533.96 1381L541.61 1368.4H526.31zM536.71 1381L544.36 1368.4H529.06zM539.46 1381L547.11 1368.4H531.81zM542.2 1381L549.85 1368.4H534.55zM544.95 1381L552.6 1368.4H537.3zM547.7 1381L555.35 1368.4H540.05zM550.45 1381L558.1 1368.4H542.8zM553.2 1381L560.85 1368.4H545.55zM555.95 1381L563.6 1368.4H548.3zM558.7 1381L566.35 1368.4H551.05zM561.45 1381L569.1 1368.4H553.8zM564.2 1381L571.85 1368.4H556.55zM566.95 1381L574.6 1368.4H559.3zM569.7 1381L577.35 1368.4H562.05zM572.45 1381L580.1 1368.4H564.8zM575.19 1381L582.84 1368.4H567.54zM577.94 1381L585.59 1368.4H570.29zM580.69 1381L588.34 1368.4H573.04zM583.44 1381L591.09 1368.4H575.79zM586.19 1381L593.84 1368.4H578.54zM588.94 1381L596.59 1368.4H581.29zM591.69 1381L599.34 1368.4H584.04zM594.44 1381L602.09 1368.4H586.79zM597.19 1381L604.84 1368.4H589.54zM599.94 1381L607.59 1368.4H592.29zM602.69 1381L610.34 1368.4H595.04zM605.43 1381L613.08 1368.4H597.78zM608.18 1381L615.83 1368.4H600.53zM610.93 1381L618.58 1368.4H603.28zM613.68 1381L621.33 1368.4H606.03zM616.43 1381L624.08 1368.4H608.78zM619.18 1381L626.83 1368.4H611.53zM621.93 1381L629.58 1368.4H614.28zM624.68 1381L632.33 1368.4H617.03zM627.43 1381L635.08 1368.4H619.78zM630.18 1381L637.83 1368.4H622.53zM632.93 1381L640.58 1368.4H625.28zM635.68 1381L643.33 1368.4H628.03zM638.42 1381L646.07 1368.4H630.77zM641.17 1381L648.82 1368.4H633.52zM643.92 1381L651.57 1368.4H636.27zM646.67 1381L654.32 1368.4H639.02zM649.42 1381L657.07 1368.4H641.77zM652.17 1381L659.82 1368.4H644.52zM654.92 1381L662.57 1368.4H647.27zM657.67 1381L665.32 1368.4H650.02zM660.42 1381L668.07 1368.4H652.77zM663.17 1381L670.82 1368.4H655.52zM665.92 1381L673.57 1368.4H658.27zM668.66 1381L676.31 1368.4H661.01zM671.41 1381L679.06 1368.4H663.76zM674.16 1381L681.81 1368.4H666.51zM676.91 1381L684.56 1368.4H669.26zM679.66 1381L687.31 1368.4H672.01zM682.41 1381L690.06 1368.4H674.76zM685.16 1381L692.81 1368.4H677.51zM687.91 1381L695.56 1368.4H680.26zM690.66 1381L698.31 1368.4H683.01zM693.41 1381L701.06 1368.4H685.76zM696.16 1381L703.81 1368.4H688.51zM698.91 1381L706.56 1368.4H691.26zM701.65 1381L709.3 1368.4H694zM704.4 1381L712.05 1368.4H696.75zM707.15 1381L714.8 1368.4H699.5zM709.9 1379.8L717.55 1367.2H702.25zM712.65 1371.67L720.3 1359.07H705zM715.4 1366.22L723.05 1353.62H707.75zM718.15 1360.29L725.8 1347.69H710.5zM720.9 1353.93L728.55 1341.33H713.25zM723.65 1347.17L731.3 1334.57H716zM726.4 1340.06L734.05 1327.46H718.75zM729.15 1332.63L736.8 1320.03H721.5zM731.89 1324.93L739.54 1312.33H724.24zM734.64 1316.99L742.29 1304.39H726.99zM737.39 1308.85L745.04 1296.25H729.74zM740.14 1300.55L747.79 1287.95H732.49zM742.89 1292.11L750.54 1279.51H735.24zM745.64 1283.55L753.29 1270.95H737.99zM748.39 1274.88L756.04 1262.28H740.74zM751.14 1266.1L758.79 1253.5H743.49zM753.89 1257.23L761.54 1244.63H746.24zM756.64 1248.26L764.29 1235.66H748.99zM759.39 1239.22L767.04 1226.62H751.74zM762.14 1230.1L769.79 1217.5H754.49zM764.88 1220.91L772.53 1208.31H757.23zM767.63 1211.66L775.28 1199.06H759.98zM770.38 1202.36L778.03 1189.76H762.73zM773.13 1193.01L780.78 1180.41H765.48zM775.88 1183.62L783.53 1171.02H768.23zM778.63 1174.21L786.28 1161.61H770.98zM781.38 1164.76L789.03 1152.16H773.73zM784.13 1155.31L791.78 1142.71H776.48zM786.88 1145.84L794.53 1133.24H779.23zM789.63 1136.37L797.28 1123.77H781.98zM792.38 1126.91L800.03 1114.31H784.73zM795.12 1117.46L802.77 1104.86H787.47zM797.87 1108.03L805.52 1095.43H790.22zM800.62 1098.63L808.27 1086.03H792.97zM803.37 1089.26L811.02 1076.66H795.72zM806.12 1079.94L813.77 1067.34H798.47zM808.87 1070.65L816.52 1058.05H801.22zM811.62 1061.39L819.27 1048.79H803.97zM814.37 1052.15L822.02 1039.55H806.72zM817.12 1042.93L824.77 1030.33H809.47zM819.87 1033.73L827.52 1021.13H812.22zM822.62 1024.54L830.27 1011.94H814.97zM825.37 1015.34L833.02 1002.74H817.72zM828.11 1006.14L835.76 993.54H820.46zM830.86 996.94L838.51 984.34H823.21zM833.61 987.72L841.26 975.12H825.96zM836.36 978.47L844.01 965.87H828.71zM839.11 969.2L846.76 956.6H831.46zM841.86 959.9L849.51 947.3H834.21zM844.61 950.56L852.26 937.96H836.96zM847.36 941.18L855.01 928.58H839.71zM850.11 931.74L857.76 919.14H842.46zM852.86 922.26L860.51 909.66H845.21zM855.61 912.71L863.26 900.11H847.96zM858.35 903.09L866 890.49H850.7zM861.1 893.41L868.75 880.81H853.45zM863.85 883.67L871.5 871.07H856.2zM866.6 873.89L874.25 861.29H858.95zM869.35 864.08L877 851.48H861.7zM872.1 854.26L879.75 841.66H864.45zM874.85 844.44L882.5 831.84H867.2zM877.6 834.65L885.25 822.05H869.95zM880.35 824.89L888 812.29H872.7zM883.1 815.18L890.75 802.58H875.45zM885.85 805.55L893.5 792.95H878.2zM888.6 795.99L896.25 783.39H880.95zM891.34 786.53L898.99 773.93H883.69zM894.09 777.17L901.74 764.57H886.44zM896.84 767.91L904.49 755.31H889.19zM899.59 758.75L907.24 746.15H891.94zM902.34 749.7L909.99 737.1H894.69zM905.09 740.75L912.74 728.15H897.44zM907.84 731.9L915.49 719.3H900.19zM910.59 723.17L918.24 710.57H902.94zM913.34 714.54L920.99 701.94H905.69zM916.09 706.03L923.74 693.43H908.44zM918.84 697.62L926.49 685.02H911.19zM921.59 689.34L929.24 676.74H913.94zM924.33 681.17L931.98 668.57H916.68zM927.08 673.11L934.73 660.51H919.43zM929.83 665.18L937.48 652.58H922.18zM932.58 657.37L940.23 644.77H924.93zM935.33 649.67L942.98 637.07H927.68zM938.08 642.11L945.73 629.51H930.43zM940.83 634.69L948.48 622.09H933.18zM943.58 627.42L951.23 614.82H935.93zM946.33 620.32L953.98 607.72H938.68zM949.08 613.4L956.73 600.8H941.43zM951.83 606.68L959.48 594.08H944.18zM954.57 600.18L962.22 587.58H946.92zM957.32 593.9L964.97 581.3H949.67zM960.07 587.86L967.72 575.26H952.42zM962.82 582.08L970.47 569.48H955.17zM965.57 576.56L973.22 563.96H957.92zM968.32 571.33L975.97 558.73H960.67zM971.07 566.41L978.72 553.81H963.42zM973.82 561.72L981.47 549.12H966.17zM976.57 557.22L984.22 544.62H968.92zM979.32 553.03L986.97 540.43H971.67zM982.07 549.19L989.72 536.59H974.42zM984.82 545.71L992.47 533.11H977.17zM987.56 542.6L995.21 530H979.91zM990.31 539.89L997.96 527.29H982.66zM993.06 537.58L1000.71 524.98H985.41zM995.81 535.68L1003.46 523.08H988.16zM998.56 534.18L1006.21 521.58H990.91zM1001.31 533.07L1008.96 520.47H993.66zM1004.06 532.35L1011.71 519.75H996.41zM1006.81 532.18L1014.46 519.58H999.16zM1009.56 532.74L1017.21 520.14H1001.91zM1012.31 533.67L1019.96 521.07H1004.66zM1015.06 534.96L1022.71 522.36H1007.41zM1017.8 536.6L1025.45 524H1010.15zM1020.55 538.59L1028.2 525.99H1012.9zM1023.3 540.93L1030.95 528.33H1015.65zM1026.05 543.61L1033.7 531.01H1018.4zM1028.8 546.62L1036.45 534.02H1021.15zM1031.55 549.96L1039.2 537.36H1023.9zM1034.3 553.62L1041.95 541.02H1026.65zM1037.05 557.6L1044.7 545H1029.4zM1039.8 561.9L1047.45 549.3H1032.15zM1042.55 566.45L1050.2 553.85H1034.9zM1045.3 571.18L1052.95 558.58H1037.65zM1048.05 576.15L1055.7 563.55H1040.4zM1050.79 581.4L1058.44 568.8H1043.14zM1053.54 586.9L1061.19 574.3H1045.89zM1056.29 592.65L1063.94 580.05H1048.64zM1059.04 598.62L1066.69 586.02H1051.39zM1061.79 604.81L1069.44 592.21H1054.14zM1064.54 611.19L1072.19 598.59H1056.89zM1067.29 617.76L1074.94 605.16H1059.64zM1070.04 624.49L1077.69 611.89H1062.39zM1072.79 631.38L1080.44 618.78H1065.14zM1075.54 638.41L1083.19 625.81H1067.89zM1078.29 645.55L1085.94 632.95H1070.64zM1081.03 652.81L1088.68 640.21H1073.38zM1083.78 660.16L1091.43 647.56H1076.13zM1086.53 667.58L1094.18 654.98H1078.88zM1089.28 675.08L1096.93 662.48H1081.63zM1092.03 682.61L1099.68 670.01H1084.38zM1094.78 690.19L1102.43 677.59H1087.13zM1097.53 697.78L1105.18 685.18H1089.88zM1100.28 705.37L1107.93 692.77H1092.63zM1103.03 712.96L1110.68 700.36H1095.38zM1105.78 720.52L1113.43 707.92H1098.13zM1108.53 728.04L1116.18 715.44H1100.88zM1111.28 735.53L1118.93 722.93H1103.63zM1114.02 742.98L1121.67 730.38H1106.37zM1116.77 750.4L1124.42 737.8H1109.12zM1119.52 757.77L1127.17 745.17H1111.87zM1122.27 765.1L1129.92 752.5H1114.62zM1125.02 772.38L1132.67 759.78H1117.37zM1127.77 779.61L1135.42 767.01H1120.12zM1130.52 786.79L1138.17 774.19H1122.87zM1133.27 793.93L1140.92 781.33H1125.62zM1136.02 801L1143.67 788.4H1128.37zM1138.77 808.02L1146.42 795.42H1131.12zM1141.52 814.98L1149.17 802.38H1133.87zM1144.26 821.88L1151.91 809.28H1136.61zM1147.01 828.72L1154.66 816.12H1139.36zM1149.76 835.49L1157.41 822.89H1142.11zM1152.51 842.19L1160.16 829.59H1144.86zM1155.26 848.83L1162.91 836.23H1147.61zM1158.01 855.4L1165.66 842.8H1150.36zM1160.76 861.91L1168.41 849.31H1153.11zM1163.51 868.35L1171.16 855.75H1155.86zM1166.26 874.73L1173.91 862.13H1158.61zM1169.01 881.04L1176.66 868.44H1161.36zM1171.76 887.3L1179.41 874.7H1164.11zM1174.51 893.49L1182.16 880.89H1166.86zM1177.25 899.62L1184.9 887.02H1169.6zM1180 905.69L1187.65 893.09H1172.35zM1182.75 911.7L1190.4 899.1H1175.1zM1185.5 917.65L1193.15 905.05H1177.85zM1188.25 923.55L1195.9 910.95H1180.6zM1191 929.38L1198.65 916.78H1183.35zM1193.75 935.17L1201.4 922.57H1186.1zM1196.5 940.89L1204.15 928.29H1188.85zM1199.25 946.56L1206.9 933.96H1191.6zM1202 952.18L1209.65 939.58H1194.35zM1204.75 957.75L1212.4 945.15H1197.1zM1207.49 963.26L1215.14 950.66H1199.84zM1210.24 968.72L1217.89 956.12H1202.59zM1212.99 974.13L1220.64 961.53H1205.34zM1215.74 979.49L1223.39 966.89H1208.09zM1218.49 984.8L1226.14 972.2H1210.84zM1221.24 990.07L1228.89 977.47H1213.59zM1223.99 995.28L1231.64 982.68H1216.34zM1226.74 1000.45L1234.39 987.85H1219.09zM1229.49 1005.57L1237.14 992.97H1221.84zM1232.24 1010.65L1239.89 998.05H1224.59zM1234.99 1015.68L1242.64 1003.08H1227.34zM1237.74 1020.67L1245.39 1008.07H1230.09zM1240.48 1025.61L1248.13 1013.01H1232.83zM1243.23 1030.52L1250.88 1017.92H1235.58zM1245.98 1035.38L1253.63 1022.78H1238.33zM1248.73 1040.2L1256.38 1027.6H1241.08zM1251.48 1044.98L1259.13 1032.38H1243.83zM1254.23 1049.72L1261.88 1037.12H1246.58zM1256.98 1054.42L1264.63 1041.82H1249.33zM1259.73 1059.08L1267.38 1046.48H1252.08zM1262.48 1063.69L1270.13 1051.09H1254.83zM1265.23 1068.27L1272.88 1055.67H1257.58zM1267.98 1072.82L1275.63 1060.22H1260.33zM1270.72 1077.33L1278.38 1064.73H1263.07zM1273.47 1081.8L1281.12 1069.2H1265.82zM1276.22 1086.24L1283.87 1073.64H1268.57zM1278.97 1090.64L1286.62 1078.04H1271.32zM1281.72 1095L1289.37 1082.4H1274.07zM1284.47 1099.32L1292.12 1086.72H1276.82zM1287.22 1103.6L1294.87 1091H1279.57zM1289.97 1107.85L1297.62 1095.25H1282.32zM1292.72 1112.07L1300.37 1099.47H1285.07zM1295.47 1116.25L1303.12 1103.65H1287.82zM1298.22 1120.4L1305.87 1107.8H1290.57zM1300.97 1124.51L1308.62 1111.91H1293.32zM1303.71 1128.59L1311.36 1115.99H1296.06zM1306.46 1132.64L1314.11 1120.04H1298.81zM1309.21 1136.65L1316.86 1124.05H1301.56zM1311.96 1140.63L1319.61 1128.03H1304.31zM1314.71 1144.57L1322.36 1131.97H1307.06zM1317.46 1148.48L1325.11 1135.88H1309.81zM1320.21 1152.35L1327.86 1139.75H1312.56zM1322.96 1156.2L1330.61 1143.6H1315.31zM1325.71 1160L1333.36 1147.4H1318.06zM1328.46 1163.78L1336.11 1151.18H1320.81zM1331.21 1167.52L1338.86 1154.92H1323.56zM1333.96 1171.23L1341.61 1158.63H1326.31zM1336.7 1174.91L1344.35 1162.31H1329.05zM1339.45 1178.55L1347.1 1165.95H1331.8zM1342.2 1182.16L1349.85 1169.56H1334.55zM1344.95 1185.73L1352.6 1173.13H1337.3zM1347.7 1189.28L1355.35 1176.68H1340.05zM1350.45 1192.79L1358.1 1180.19H1342.8zM1353.2 1196.27L1360.85 1183.67H1345.55zM1355.95 1199.72L1363.6 1187.12H1348.3zM1358.7 1203.13L1366.35 1190.53H1351.05zM1361.45 1206.51L1369.1 1193.91H1353.8zM1364.2 1209.86L1371.85 1197.26H1356.55zM1366.94 1213.18L1374.59 1200.58H1359.29zM1369.69 1216.47L1377.34 1203.87H1362.04zM1372.44 1219.72L1380.09 1207.12H1364.79zM1375.19 1222.94L1382.84 1210.34H1367.54zM1377.94 1226.13L1385.59 1213.53H1370.29zM1380.69 1229.29L1388.34 1216.69H1373.04zM1383.44 1232.42L1391.09 1219.82H1375.79zM1386.19 1235.52L1393.84 1222.92H1378.54zM1388.94 1238.58L1396.59 1225.98H1381.29zM1391.69 1241.62L1399.34 1229.02H1384.04zM1394.44 1244.62L1402.09 1232.02H1386.79zM1397.19 1247.59L1404.84 1234.99H1389.54zM1399.93 1250.53L1407.58 1237.93H1392.28zM1402.68 1253.44L1410.33 1240.84H1395.03zM1405.43 1256.32L1413.08 1243.72H1397.78zM1408.18 1259.17L1415.83 1246.57H1400.53zM1410.93 1261.99L1418.58 1249.39H1403.28zM1413.68 1264.78L1421.33 1252.18H1406.03zM1416.43 1267.53L1424.08 1254.93H1408.78zM1419.18 1270.26L1426.83 1257.66H1411.53zM1421.93 1272.96L1429.58 1260.36H1414.28zM1424.68 1275.62L1432.33 1263.02H1417.03zM1427.43 1278.26L1435.08 1265.66H1419.78zM1430.17 1280.87L1437.82 1268.27H1422.52zM1432.92 1283.45L1440.57 1270.85H1425.27zM1435.67 1285.99L1443.32 1273.39H1428.02zM1438.42 1288.51L1446.07 1275.91H1430.77zM1441.17 1291L1448.82 1278.4H1433.52zM1443.92 1293.46L1451.57 1280.86H1436.27zM1446.67 1295.89L1454.32 1283.29H1439.02zM1449.42 1298.29L1457.07 1285.69H1441.77zM1452.17 1300.66L1459.82 1288.06H1444.52zM1454.92 1303.01L1462.57 1290.41H1447.27zM1457.67 1305.32L1465.32 1292.72H1450.02zM1460.42 1307.61L1468.07 1295.01H1452.77zM1463.16 1309.86L1470.81 1297.26H1455.51zM1465.91 1312.09L1473.56 1299.49H1458.26zM1468.66 1314.29L1476.31 1301.69H1461.01zM1471.41 1316.46L1479.06 1303.86H1463.76zM1474.16 1318.6L1481.81 1306H1466.51zM1476.91 1320.72L1484.56 1308.12H1469.26zM1479.66 1322.8L1487.31 1310.2H1472.01zM1482.41 1324.86L1490.06 1312.26H1474.76zM1485.16 1326.89L1492.81 1314.29H1477.51zM1487.91 1328.9L1495.56 1316.3H1480.26zM1490.66 1330.87L1498.31 1318.27H1483.01zM1493.4 1332.82L1501.05 1320.22H1485.75zM1496.15 1334.74L1503.8 1322.14H1488.5zM1498.9 1336.63L1506.55 1324.03H1491.25zM1501.65 1338.49L1509.3 1325.89H1494zM1504.4 1340.33L1512.05 1327.73H1496.75zM1507.15 1342.14L1514.8 1329.54H1499.5zM1509.9 1343.92L1517.55 1331.32H1502.25zM1512.65 1345.68L1520.3 1333.08H1505zM1515.4 1347.41L1523.05 1334.81H1507.75zM1518.15 1349.11L1525.8 1336.51H1510.5zM1520.9 1350.79L1528.55 1338.19H1513.25zM1523.65 1352.44L1531.3 1339.84H1516zM1526.39 1354.06L1534.04 1341.46H1518.74zM1529.14 1355.65L1536.79 1343.05H1521.49zM1531.89 1357.22L1539.54 1344.62H1524.24zM1534.64 1358.77L1542.29 1346.17H1526.99zM1537.39 1360.28L1545.04 1347.68H1529.74zM1540.14 1361.78L1547.79 1349.18H1532.49zM1542.89 1363.24L1550.54 1350.64H1535.24zM1545.64 1364.68L1553.29 1352.08H1537.99zM1548.39 1366.09L1556.04 1353.49H1540.74zM1551.14 1367.48L1558.79 1354.88H1543.49zM1553.89 1368.85L1561.54 1356.25H1546.24zM1556.63 1370.18L1564.28 1357.58H1548.98zM1559.38 1371.49L1567.03 1358.89H1551.73zM1562.13 1372.78L1569.78 1360.18H1554.48zM1564.88 1374.04L1572.53 1361.44H1557.23zM1567.63 1375.28L1575.28 1362.68H1559.98zM1570.38 1376.5L1578.03 1363.9H1562.73zM1573.13 1377.79L1580.78 1365.19H1565.48zM1575.88 1379.07L1583.53 1366.47H1568.23zM1578.63 1380.36L1586.28 1367.76H1570.98zM1581.38 1381L1589.03 1368.4H1573.73zM1584.13 1381L1591.78 1368.4H1576.48zM1586.88 1381L1594.53 1368.4H1579.23zM1589.62 1381L1597.27 1368.4H1581.97zM1592.37 1381L1600.02 1368.4H1584.72zM1595.12 1381L1602.77 1368.4H1587.47zM1597.87 1381L1605.52 1368.4H1590.22zM1600.62 1381L1608.27 1368.4H1592.97zM1603.37 1381L1611.02 1368.4H1595.72zM1606.12 1381L1613.77 1368.4H1598.47zM1608.87 1381L1616.52 1368.4H1601.22zM1611.62 1381L1619.27 1368.4H1603.97zM1614.37 1381L1622.02 1368.4H1606.72zM1617.12 1381L1624.77 1368.4H1609.47zM1619.86 1381L1627.51 1368.4H1612.21zM1622.61 1381L1630.26 1368.4H1614.96zM1625.36 1381L1633.01 1368.4H1617.71zM1628.11 1381L1635.76 1368.4H1620.46zM1630.86 1381L1638.51 1368.4H1623.21zM1633.61 1381L1641.26 1368.4H1625.96zM1636.36 1381L1644.01 1368.4H1628.71zM1639.11 1381L1646.76 1368.4H1631.46zM1641.86 1381L1649.51 1368.4H1634.21zM1644.61 1381L1652.26 1368.4H1636.96zM1647.36 1381L1655.01 1368.4H1639.71zM1650.11 1381L1657.76 1368.4H1642.46zM1652.85 1381L1660.5 1368.4H1645.2zM1655.6 1381L1663.25 1368.4H1647.95zM1658.35 1381L1666 1368.4H1650.7zM1661.1 1381L1668.75 1368.4H1653.45zM1663.85 1381L1671.5 1368.4H1656.2zM1666.6 1381L1674.25 1368.4H1658.95zM1669.35 1381L1677 1368.4H1661.7zM1672.1 1381L1679.75 1368.4H1664.45zM1674.85 1381L1682.5 1368.4H1667.2zM1677.6 1381L1685.25 1368.4H1669.95zM1680.35 1381L1688 1368.4H1672.7zM1683.09 1381L1690.74 1368.4H1675.44zM1685.84 1381L1693.49 1368.4H1678.19zM1688.59 1381L1696.24 1368.4H1680.94zM1691.34 1381L1698.99 1368.4H1683.69zM1694.09 1381L1701.74 1368.4H1686.44zM1696.84 1381L1704.49 1368.4H1689.19zM1699.59 1381L1707.24 1368.4H1691.94zM1702.34 1381L1709.99 1368.4H1694.69zM1705.09 1381L1712.74 1368.4H1697.44zM1707.84 1381L1715.49 1368.4H1700.19zM1710.59 1381L1718.24 1368.4H1702.94zM1713.34 1381L1720.99 1368.4H1705.69zM1716.08 1381L1723.73 1368.4H1708.43zM1718.83 1381L1726.48 1368.4H1711.18zM1721.58 1381L1729.23 1368.4H1713.93zM1724.33 1381L1731.98 1368.4H1716.68zM1727.08 1381L1734.73 1368.4H1719.43zM1729.83 1381L1737.48 1368.4H1722.18zM1732.58 1381L1740.23 1368.4H1724.93zM1735.33 1381L1742.98 1368.4H1727.68zM1738.08 1381L1745.73 1368.4H1730.43zM1740.83 1381L1748.48 1368.4H1733.18zM1743.58 1381L1751.23 1368.4H1735.93zM1746.33 1381L1753.98 1368.4H1738.68zM1749.07 1381L1756.72 1368.4H1741.42zM1751.82 1381L1759.47 1368.4H1744.17zM1754.57 1381L1762.22 1368.4H1746.92zM1757.32 1381L1764.97 1368.4H1749.67zM1760.07 1381L1767.72 1368.4H1752.42zM1762.82 1381L1770.47 1368.4H1755.17zM1765.57 1381L1773.22 1368.4H1757.92zM1768.32 1381L1775.97 1368.4H1760.67zM1771.07 1381L1778.72 1368.4H1763.42zM1773.82 1381L1781.47 1368.4H1766.17zM1776.57 1381L1784.22 1368.4H1768.92zM1779.31 1381L1786.96 1368.4H1771.66zM1782.06 1381L1789.71 1368.4H1774.41zM1784.81 1381L1792.46 1368.4H1777.16zM1787.56 1381L1795.21 1368.4H1779.91zM1790.31 1381L1797.96 1368.4H1782.66zM1793.06 1381L1800.71 1368.4H1785.41zM1795.81 1381L1803.46 1368.4H1788.16zM1798.56 1381L1806.21 1368.4H1790.91zM1801.31 1381L1808.96 1368.4H1793.66zM1804.06 1381L1811.71 1368.4H1796.41zM1806.81 1381L1814.46 1368.4H1799.16zM1809.56 1381L1817.21 1368.4H1801.91zM1812.3 1381L1819.95 1368.4H1804.65zM1815.05 1381L1822.7 1368.4H1807.4zM1817.8 1381L1825.45 1368.4H1810.15zM1820.55 1381L1828.2 1368.4H1812.9zM1823.3 1381L1830.95 1368.4H1815.65zM1826.05 1381L1833.7 1368.4H1818.4zM1828.8 1381L1836.45 1368.4H1821.15zM1831.55 1381L1839.2 1368.4H1823.9z" fill="#00AF64"/>
<path d="M854.56 1218.95L854.71 1218.35M858.09 1204.35L858.25 1203.69M861.63 1189.69L861.77 1189.11M865.17 1175.12L865.3 1174.56M868.69 1160.56L868.86 1159.86M872.19 1145.85L872.42 1144.86M875.68 1130.84L876 1129.46M879.18 1115.41L879.57 1113.71M882.7 1099.66L883.12 1097.73M886.22 1083.67L886.67 1081.64M889.76 1067.57L890.2 1065.54M893.3 1051.48L893.73 1049.54M896.85 1035.49L897.24 1033.77M900.42 1019.72L900.74 1018.32M903.99 1004.29L904.25 1003.16M907.5 989.13L907.8 987.8M910.97 973.75L911.4 971.78M914.45 957.71L914.99 955.21M917.97 941.12L918.54 938.36M921.5 924.27L922.08 921.52M925.05 907.43L925.6 904.86M928.59 890.78L929.13 888.26M932.11 874.17L932.68 871.49M935.61 857.4L936.24 854.33M939.1 840.22L939.82 836.62M942.6 822.49L943.39 818.45M946.12 804.31L946.94 800.03M949.65 785.88L950.48 781.54M953.19 767.39L954.01 763.13M956.73 748.99L957.54 744.77M960.26 730.63L961.08 726.41M963.79 712.27L964.62 707.99M967.32 693.85L968.16 689.46M970.84 675.31L971.71 670.74M974.36 656.58L975.26 651.8M977.89 637.65L978.8 632.71M981.41 618.55L982.34 613.51M984.95 599.35L985.88 594.28M988.48 580.11L989.41 575.05M992.01 560.89L992.95 555.75M995.54 541.59L996.5 536.29M999.05 522.12L1000.05 516.56M1002.57 502.38L1003.6 496.53M1006.1 482.35L1007.14 476.42M1009.65 462.24L1010.66 456.56M1013.22 442.39L1014.16 437.26M1016.8 423.1L1017.65 418.65M1020.35 404.51L1021.17 400.26M1023.87 386.11L1024.72 381.6M1027.4 367.46L1028.25 362.98M1030.98 348.84L1031.75 344.9M1034.58 330.78L1035.21 327.69M1038.21 313.61L1038.66 311.55M1041.83 297.5L1042.11 296.3M1045.44 282.29L1045.57 281.77M1123.1 278.81L1123.42 280.22M1126.52 294.29L1127.08 296.92M1129.99 311.02L1130.67 314.38M1133.51 328.49L1134.22 332.05M1137.06 346.17L1137.74 349.56M1140.58 363.68L1141.29 367.21M1144.07 381.34L1144.87 385.42M1147.56 399.57L1148.45 404.33M1151.05 418.49L1152.03 423.89M1154.56 438.06L1155.59 443.84M1158.09 458.02L1159.12 463.85M1161.65 478.02L1162.64 483.55M1165.22 497.72L1166.14 502.72M1168.78 516.88L1169.64 521.43M1172.34 535.57L1173.15 539.78M1175.89 553.92L1176.67 557.89M1179.44 572.02L1180.19 575.86M1182.98 589.99L1183.72 593.75M1186.52 607.88L1187.25 611.55M1190.08 625.67L1190.76 629.04M1193.66 643.15L1194.25 646.02M1197.23 660.11L1197.74 662.48M1200.81 676.55L1201.23 678.45M1204.39 692.5L1204.73 693.98M1207.97 708.01L1208.22 709.09M1211.54 723.1L1211.71 723.79" fill="none" stroke="#000" stroke-width="4"/>
<path d="M170.69 1365l8 8l-8 8l-8 -8zM174.22 1365l8 8l-8 8l-8 -8zM177.76 1365l8 8l-8 8l-8 -8zM181.29 1365l8 8l-8 8l-8 -8zM184.83 1365l8 8l-8 8l-8 -8zM188.36 1365l8 8l-8 8l-8 -8zM191.9 1365l8 8l-8 8l-8 -8zM195.43 1365l8 8l-8 8l-8 -8zM198.96 1365l8 8l-8 8l-8 -8zM202.5 1365l8 8l-8 8l-8 -8zM206.03 1365l8 8l-8 8l-8 -8zM209.57 1365l8 8l-8 8l-8 -8zM213.1 1365l8 8l-8 8l-8 -8zM216.64 1365l8 8l-8 8l-8 -8zM220.17 1365l8 8l-8 8l-8 -8zM223.71 1365l8 8l-8 8l-8 -8zM227.24 1365l8 8l-8 8l-8 -8zM230.78 1365l8 8l-8 8l-8 -8zM234.31 1365l8 8l-8 8l-8 -8zM237.84 1365l8 8l-8 8l-8 -8zM241.38 1365l8 8l-8 8l-8 -8zM244.91 1365l8 8l-8 8l-8 -8zM248.45 1365l8 8l-8 8l-8 -8zM251.98 1365l8 8l-8 8l-8 -8zM255.52 1365l8 8l-8 8l-8 -8zM259.05 1365l8 8l-8 8l-8 -8zM262.59 1365l8 8l-8 8l-8 -8zM266.12 1365l8 8l-8 8l-8 -8zM269.66 1365l8 8l-8 8l-8 -8zM273.19 1365l8 8l-8 8l-8 -8zM276.73 1365l8 8l-8 8l-8 -8zM280.26 1365l8 8l-8 8l-8 -8zM283.79 1365l8 8l-8 8l-8 -8zM287.33 1365l8 8l-8 8l-8 -8zM290.86 1365l8 8l-8 8l-8 -8zM294.4 1365l8 8l-8 8l-8 -8zM297.93 1365l8 8l-8 8l-8 -8zM301.47 1365l8 8l-8 8l-8 -8zM305 1365l8 8l-8 8l-8 -8zM308.54 1365l8 8l-8 8l-8 -8zM312.07 1365l8 8l-8 8l-8 -8zM315.61 1365l8 8l-8 8l-8 -8zM319.14 1365l8 8l-8 8l-8 -8zM322.68 1365l8 8l-8 8l-8 -8zM326.21 1365l8 8l-8 8l-8 -8zM329.74 1365l8 8l-8 8l-8 -8zM333.28 1365l8 8l-8 8l-8 -8zM336.81 1365l8 8l-8 8l-8 -8zM340.35 1365l8 8l-8 8l-8 -8zM343.88 1365l8 8l-8 8l-8 -8zM347.42 1365l8 8l-8 8l-8 -8zM350.95 1365l8 8l-8 8l-8 -8zM354.49 1365l8 8l-8 8l-8 -8zM358.02 1365l8 8l-8 8l-8 -8zM361.56 1365l8 8l-8 8l-8 -8zM365.09 1365l8 8l-8 8l-8 -8zM368.63 1365l8 8l-8 8l-8 -8zM372.16 1365l8 8l-8 8l-8 -8zM375.69 1365l8 8l-8 8l-8 -8zM379.23 1365l8 8l-8 8l-8 -8zM382.76 1365l8 8l-8 8l-8 -8zM386.3 1365l8 8l-8 8l-8 -8zM389.83 1365l8 8l-8 8l-8 -8zM393.37 1365l8 8l-8 8l-8 -8zM396.9 1365l8 8l-8 8l-8 -8zM400.44 1365l8 8l-8 8l-8 -8zM403.97 1365l8 8l-8 8l-8 -8zM407.51 1365l8 8l-8 8l-8 -8zM411.04 1365l8 8l-8 8l-8 -8zM414.57 1365l8 8l-8 8l-8 -8zM418.11 1365l8 8l-8 8l-8 -8zM421.64 1365l8 8l-8 8l-8 -8zM425.18 1365l8 8l-8 8l-8 -8zM428.71 1365l8 8l-8 8l-8 -8zM432.25 1365l8 8l-8 8l-8 -8zM435.78 1365l8 8l-8 8l-8 -8zM439.32 1365l8 8l-8 8l-8 -8zM442.85 1365l8 8l-8 8l-8 -8zM446.39 1365l8 8l-8 8l-8 -8zM449.92 1365l8 8l-8 8l-8 -8zM453.46 1365l8 8l-8 8l-8 -8zM456.99 1365l8 8l-8 8l-8 -8zM460.52 1365l8 8l-8 8l-8 -8zM464.06 1365l8 8l-8 8l-8 -8zM467.59 1365l8 8l-8 8l-8 -8zM471.13 1365l8 8l-8 8l-8 -8zM474.66 1365l8 8l-8 8l-8 -8zM478.2 1365l8 8l-8 8l-8 -8zM481.73 1365l8 8l-8 8l-8 -8zM485.27 1365l8 8l-8 8l-8 -8zM488.8 1365l8 8l-8 8l-8 -8zM492.34 1365l8 8l-8 8l-8 -8zM495.87 1365l8 8l-8 8l-8 -8zM499.41 1365l8 8l-8 8l-8 -8zM502.94 1365l8 8l-8 8l-8 -8zM506.47 1365l8 8l-8 8l-8 -8zM510.01 1365l8 8l-8 8l-8 -8zM513.54 1365l8 8l-8 8l-8 -8zM517.08 1365l8 8l-8 8l-8 -8zM520.61 1365l8 8l-8 8l-8 -8zM524.15 1365l8 8l-8 8l-8 -8zM527.68 1365l8 8l-8 8l-8 -8zM531.22 1365l8 8l-8 8l-8 -8zM534.75 1365l8 8l-8 8l-8 -8zM538.29 1365l8 8l-8 8l-8 -8zM541.82 1365l8 8l-8 8l-8 -8zM545.36 1365l8 8l-8 8l-8 -8zM548.89 1365l8 8l-8 8l-8 -8zM552.42 1365l8 8l-8 8l-8 -8zM555.96 1365l8 8l-8 8l-8 -8zM559.49 1365l8 8l-8 8l-8 -8zM563.03 1365l8 8l-8 8l-8 -8zM566.56 1365l8 8l-8 8l-8 -8zM570.1 1365l8 8l-8 8l-8 -8zM573.63 1365l8 8l-8 8l-8 -8zM577.17 1365l8 8l-8 8l-8 -8zM580.7 1365l8 8l-8 8l-8 -8zM584.24 1365l8 8l-8 8l-8 -8zM587.77 1365l8 8l-8 8l-8 -8zM591.3 1365l8 8l-8 8l-8 -8zM594.84 1365l8 8l-8 8l-8 -8zM598.37 1365l8 8l-8 8l-8 -8zM601.91 1365l8 8l-8 8l-8 -8zM605.44 1365l8 8l-8 8l-8 -8zM608.98 1365l8 8l-8 8l-8 -8zM612.51 1365l8 8l-8 8l-8 -8zM616.05 1365l8 8l-8 8l-8 -8zM619.58 1365l8 8l-8 8l-8 -8zM623.12 1365l8 8l-8 8l-8 -8zM626.65 1365l8 8l-8 8l-8 -8zM630.19 1365l8 8l-8 8l-8 -8zM633.72 1365l8 8l-8 8l-8 -8zM637.25 1365l8 8l-8 8l-8 -8zM640.79 1365l8 8l-8 8l-8 -8zM644.32 1365l8 8l-8 8l-8 -8zM647.86 1365l8 8l-8 8l-8 -8zM651.39 1365l8 8l-8 8l-8 -8zM654.93 1365l8 8l-8 8l-8 -8zM658.46 1365l8 8l-8 8l-8 -8zM662 1365l8 8l-8 8l-8 -8zM665.53 1365l8 8l-8 8l-8 -8zM669.07 1365l8 8l-8 8l-8 -8zM672.6 1365l8 8l-8 8l-8 -8zM676.14 1365l8 8l-8 8l-8 -8zM679.67 1365l8 8l-8 8l-8 -8zM683.2 1365l8 8l-8 8l-8 -8zM686.74 1365l8 8l-8 8l-8 -8zM690.27 1365l8 8l-8 8l-8 -8zM693.81 1365l8 8l-8 8l-8 -8zM697.34 1365l8 8l-8 8l-8 -8zM700.88 1365l8 8l-8 8l-8 -8zM704.41 1365l8 8l-8 8l-8 -8zM707.95 1365l8 8l-8 8l-8 -8zM711.48 1365l8 8l-8 8l-8 -8zM715.02 1365l8 8l-8 8l-8 -8zM718.55 1365l8 8l-8 8l-8 -8zM722.09 1365l8 8l-8 8l-8 -8zM725.62 1365l8 8l-8 8l-8 -8zM729.15 1365l8 8l-8 8l-8 -8zM732.69 1365l8 8l-8 8l-8 -8zM736.22 1365l8 8l-8 8l-8 -8zM739.76 1365l8 8l-8 8l-8 -8zM743.29 1365l8 8l-8 8l-8 -8zM746.83 1365l8 8l-8 8l-8 -8zM750.36 1365l8 8l-8 8l-8 -8zM753.9 1365l8 8l-8 8l-8 -8zM757.43 1365l8 8l-8 8l-8 -8zM760.97 1365l8 8l-8 8l-8 -8zM764.5 1365l8 8l-8 8l-8 -8zM768.03 1365l8 8l-8 8l-8 -8zM771.57 1365l8 8l-8 8l-8 -8zM775.1 1365l8 8l-8 8l-8 -8zM778.64 1365l8 8l-8 8l-8 -8zM782.17 1365l8 8l-8 8l-8 -8zM785.71 1365l8 8l-8 8l-8 -8zM789.24 1365l8 8l-8 8l-8 -8zM792.78 1365l8 8l-8 8l-8 -8zM796.31 1365l8 8l-8 8l-8 -8zM799.85 1365l8 8l-8 8l-8 -8zM803.38 1365l8 8l-8 8l-8 -8zM806.92 1365l8 8l-8 8l-8 -8zM810.45 1363.48l8 8l-8 8l-8 -8zM813.98 1351.56l8 8l-8 8l-8 -8zM817.52 1341.57l8 8l-8 8l-8 -8zM821.05 1330.84l8 8l-8 8l-8 -8zM824.59 1319.5l8 8l-8 8l-8 -8zM828.12 1307.74l8 8l-8 8l-8 -8zM831.66 1295.78l8 8l-8 8l-8 -8zM835.19 1283.76l8 8l-8 8l-8 -8zM838.73 1271.59l8 8l-8 8l-8 -8zM842.26 1259.06l8 8l-8 8l-8 -8zM845.8 1245.99l8 8l-8 8l-8 -8zM849.33 1232.24l8 8l-8 8l-8 -8zM852.87 1217.95l8 8l-8 8l-8 -8zM856.4 1203.35l8 8l-8 8l-8 -8zM859.93 1188.69l8 8l-8 8l-8 -8zM863.47 1174.12l8 8l-8 8l-8 -8zM867 1159.56l8 8l-8 8l-8 -8zM870.54 1144.86l8 8l-8 8l-8 -8zM874.07 1129.85l8 8l-8 8l-8 -8zM877.61 1114.44l8 8l-8 8l-8 -8zM881.14 1098.69l8 8l-8 8l-8 -8zM884.68 1082.7l8 8l-8 8l-8 -8zM888.21 1066.61l8 8l-8 8l-8 -8zM891.75 1050.51l8 8l-8 8l-8 -8zM895.28 1034.51l8 8l-8 8l-8 -8zM898.82 1018.74l8 8l-8 8l-8 -8zM902.35 1003.3l8 8l-8 8l-8 -8zM905.88 988.15l8 8l-8 8l-8 -8zM909.42 972.78l8 8l-8 8l-8 -8zM912.95 956.75l8 8l-8 8l-8 -8zM916.49 940.17l8 8l-8 8l-8 -8zM920.02 923.32l8 8l-8 8l-8 -8zM923.56 906.47l8 8l-8 8l-8 -8zM927.09 889.82l8 8l-8 8l-8 -8zM930.63 873.22l8 8l-8 8l-8 -8zM934.16 856.45l8 8l-8 8l-8 -8zM937.7 839.28l8 8l-8 8l-8 -8zM941.23 821.56l8 8l-8 8l-8 -8zM944.76 803.38l8 8l-8 8l-8 -8zM948.3 784.96l8 8l-8 8l-8 -8zM951.83 766.47l8 8l-8 8l-8 -8zM955.37 748.06l8 8l-8 8l-8 -8zM958.9 729.7l8 8l-8 8l-8 -8zM962.44 711.34l8 8l-8 8l-8 -8zM965.97 692.92l8 8l-8 8l-8 -8zM969.51 674.38l8 8l-8 8l-8 -8zM973.04 655.66l8 8l-8 8l-8 -8zM976.58 636.73l8 8l-8 8l-8 -8zM980.11 617.63l8 8l-8 8l-8 -8zM983.65 598.43l8 8l-8 8l-8 -8zM987.18 579.2l8 8l-8 8l-8 -8zM990.71 559.97l8 8l-8 8l-8 -8zM994.25 540.67l8 8l-8 8l-8 -8zM997.78 521.2l8 8l-8 8l-8 -8zM1001.32 501.47l8 8l-8 8l-8 -8zM1004.85 481.44l8 8l-8 8l-8 -8zM1008.39 461.33l8 8l-8 8l-8 -8zM1011.92 441.47l8 8l-8 8l-8 -8zM1015.46 422.17l8 8l-8 8l-8 -8zM1018.99 403.58l8 8l-8 8l-8 -8zM1022.53 385.19l8 8l-8 8l-8 -8zM1026.06 366.53l8 8l-8 8l-8 -8zM1029.6 347.9l8 8l-8 8l-8 -8zM1033.13 329.83l8 8l-8 8l-8 -8zM1036.66 312.64l8 8l-8 8l-8 -8zM1040.2 296.51l8 8l-8 8l-8 -8zM1043.73 281.29l8 8l-8 8l-8 -8zM1047.27 266.77l8 8l-8 8l-8 -8zM1050.8 253.03l8 8l-8 8l-8 -8zM1054.34 240.2l8 8l-8 8l-8 -8zM1057.87 228.43l8 8l-8 8l-8 -8zM1061.41 217.86l8 8l-8 8l-8 -8zM1064.94 208.57l8 8l-8 8l-8 -8zM1068.48 200.63l8 8l-8 8l-8 -8zM1072.01 194.11l8 8l-8 8l-8 -8zM1075.55 189.08l8 8l-8 8l-8 -8zM1079.08 185.62l8 8l-8 8l-8 -8zM1082.61 183.79l8 8l-8 8l-8 -8zM1086.15 183.66l8 8l-8 8l-8 -8zM1089.68 185.3l8 8l-8 8l-8 -8zM1093.22 188.72l8 8l-8 8l-8 -8zM1096.75 193.77l8 8l-8 8l-8 -8zM1100.29 200.26l8 8l-8 8l-8 -8zM1103.82 208.02l8 8l-8 8l-8 -8zM1107.36 216.87l8 8l-8 8l-8 -8zM1110.89 226.71l8 8l-8 8l-8 -8zM1114.43 237.68l8 8l-8 8l-8 -8zM1117.96 249.97l8 8l-8 8l-8 -8zM1121.49 263.79l8 8l-8 8l-8 -8zM1125.03 279.24l8 8l-8 8l-8 -8zM1128.56 295.97l8 8l-8 8l-8 -8zM1132.1 313.43l8 8l-8 8l-8 -8zM1135.63 331.11l8 8l-8 8l-8 -8zM1139.17 348.62l8 8l-8 8l-8 -8zM1142.7 366.27l8 8l-8 8l-8 -8zM1146.24 384.49l8 8l-8 8l-8 -8zM1149.77 403.41l8 8l-8 8l-8 -8zM1153.31 422.97l8 8l-8 8l-8 -8zM1156.84 442.93l8 8l-8 8l-8 -8zM1160.38 462.94l8 8l-8 8l-8 -8zM1163.91 482.64l8 8l-8 8l-8 -8zM1167.44 501.8l8 8l-8 8l-8 -8zM1170.98 520.5l8 8l-8 8l-8 -8zM1174.51 538.85l8 8l-8 8l-8 -8zM1178.05 556.96l8 8l-8 8l-8 -8zM1181.58 574.93l8 8l-8 8l-8 -8zM1185.12 592.82l8 8l-8 8l-8 -8zM1188.65 610.61l8 8l-8 8l-8 -8zM1192.19 628.1l8 8l-8 8l-8 -8zM1195.72 645.07l8 8l-8 8l-8 -8zM1199.26 661.52l8 8l-8 8l-8 -8zM1202.79 677.48l8 8l-8 8l-8 -8zM1206.33 693l8 8l-8 8l-8 -8zM1209.86 708.1l8 8l-8 8l-8 -8zM1213.39 722.79l8 8l-8 8l-8 -8zM1216.93 737.09l8 8l-8 8l-8 -8zM1220.46 751.02l8 8l-8 8l-8 -8zM1224 764.58l8 8l-8 8l-8 -8zM1227.53 777.8l8 8l-8 8l-8 -8zM1231.07 790.68l8 8l-8 8l-8 -8zM1234.6 803.24l8 8l-8 8l-8 -8zM1238.14 815.49l8 8l-8 8l-8 -8zM1241.67 827.45l8 8l-8 8l-8 -8zM1245.21 839.1l8 8l-8 8l-8 -8zM1248.74 850.44l8 8l-8 8l-8 -8zM1252.28 861.46l8 8l-8 8l-8 -8zM1255.81 872.14l8 8l-8 8l-8 -8zM1259.34 882.5l8 8l-8 8l-8 -8zM1262.88 892.55l8 8l-8 8l-8 -8zM1266.41 902.3l8 8l-8 8l-8 -8zM1269.95 911.79l8 8l-8 8l-8 -8zM1273.48 921.01l8 8l-8 8l-8 -8zM1277.02 929.99l8 8l-8 8l-8 -8zM1280.55 938.75l8 8l-8 8l-8 -8zM1284.09 947.29l8 8l-8 8l-8 -8zM1287.62 955.66l8 8l-8 8l-8 -8zM1291.16 963.93l8 8l-8 8l-8 -8zM1294.69 972.19l8 8l-8 8l-8 -8zM1298.22 980.53l8 8l-8 8l-8 -8zM1301.76 988.99l8 8l-8 8l-8 -8zM1305.29 997.33l8 8l-8 8l-8 -8zM1308.83 1005.28l8 8l-8 8l-8 -8zM1312.36 1012.79l8 8l-8 8l-8 -8zM1315.9 1019.9l8 8l-8 8l-8 -8zM1319.43 1026.68l8 8l-8 8l-8 -8zM1322.97 1033.19l8 8l-8 8l-8 -8zM1326.5 1039.49l8 8l-8 8l-8 -8zM1330.04 1045.63l8 8l-8 8l-8 -8zM1333.57 1051.69l8 8l-8 8l-8 -8zM1337.11 1057.69l8 8l-8 8l-8 -8zM1340.64 1063.63l8 8l-8 8l-8 -8zM1344.17 1069.53l8 8l-8 8l-8 -8zM1347.71 1075.36l8 8l-8 8l-8 -8zM1351.24 1081.14l8 8l-8 8l-8 -8zM1354.78 1086.87l8 8l-8 8l-8 -8zM1358.31 1092.53l8 8l-8 8l-8 -8zM1361.85 1098.13l8 8l-8 8l-8 -8zM1365.38 1103.67l8 8l-8 8l-8 -8zM1368.92 1109.14l8 8l-8 8l-8 -8zM1372.45 1114.55l8 8l-8 8l-8 -8zM1375.99 1119.89l8 8l-8 8l-8 -8zM1379.52 1125.16l8 8l-8 8l-8 -8zM1383.06 1130.35l8 8l-8 8l-8 -8zM1386.59 1135.48l8 8l-8 8l-8 -8zM1390.12 1140.53l8 8l-8 8l-8 -8zM1393.66 1145.5l8 8l-8 8l-8 -8zM1397.19 1150.4l8 8l-8 8l-8 -8zM1400.73 1155.22l8 8l-8 8l-8 -8zM1404.26 1159.96l8 8l-8 8l-8 -8zM1407.8 1164.61l8 8l-8 8l-8 -8zM1411.33 1169.19l8 8l-8 8l-8 -8zM1414.87 1173.67l8 8l-8 8l-8 -8zM1418.4 1178.08l8 8l-8 8l-8 -8zM1421.94 1182.4l8 8l-8 8l-8 -8zM1425.47 1186.65l8 8l-8 8l-8 -8zM1429.01 1190.81l8 8l-8 8l-8 -8zM1432.54 1194.91l8 8l-8 8l-8 -8zM1436.07 1198.92l8 8l-8 8l-8 -8zM1439.61 1202.87l8 8l-8 8l-8 -8zM1443.14 1206.75l8 8l-8 8l-8 -8zM1446.68 1210.56l8 8l-8 8l-8 -8zM1450.21 1214.3l8 8l-8 8l-8 -8zM1453.75 1217.98l8 8l-8 8l-8 -8zM1457.28 1221.59l8 8l-8 8l-8 -8zM1460.82 1225.15l8 8l-8 8l-8 -8zM1464.35 1228.65l8 8l-8 8l-8 -8zM1467.89 1232.08l8 8l-8 8l-8 -8zM1471.42 1235.47l8 8l-8 8l-8 -8zM1474.95 1238.8l8 8l-8 8l-8 -8zM1478.49 1242.08l8 8l-8 8l-8 -8zM1482.02 1245.31l8 8l-8 8l-8 -8zM1485.56 1248.49l8 8l-8 8l-8 -8zM1489.09 1251.63l8 8l-8 8l-8 -8zM1492.63 1254.72l8 8l-8 8l-8 -8zM1496.16 1257.77l8 8l-8 8l-8 -8zM1499.7 1260.77l8 8l-8 8l-8 -8zM1503.23 1263.74l8 8l-8 8l-8 -8zM1506.77 1266.68l8 8l-8 8l-8 -8zM1510.3 1269.58l8 8l-8 8l-8 -8zM1513.84 1272.44l8 8l-8 8l-8 -8zM1517.37 1275.28l8 8l-8 8l-8 -8zM1520.9 1278.08l8 8l-8 8l-8 -8zM1524.44 1280.86l8 8l-8 8l-8 -8zM1527.97 1283.61l8 8l-8 8l-8 -8zM1531.51 1286.34l8 8l-8 8l-8 -8zM1535.04 1289.04l8 8l-8 8l-8 -8zM1538.58 1291.72l8 8l-8 8l-8 -8zM1542.11 1294.38l8 8l-8 8l-8 -8zM1545.65 1297.01l8 8l-8 8l-8 -8zM1549.18 1299.61l8 8l-8 8l-8 -8zM1552.72 1302.19l8 8l-8 8l-8 -8zM1556.25 1304.74l8 8l-8 8l-8 -8zM1559.79 1307.26l8 8l-8 8l-8 -8zM1563.32 1309.75l8 8l-8 8l-8 -8zM1566.85 1312.22l8 8l-8 8l-8 -8zM1570.39 1314.65l8 8l-8 8l-8 -8zM1573.92 1317.06l8 8l-8 8l-8 -8zM1577.46 1319.43l8 8l-8 8l-8 -8zM1580.99 1321.77l8 8l-8 8l-8 -8zM1584.53 1324.07l8 8l-8 8l-8 -8zM1588.06 1326.35l8 8l-8 8l-8 -8zM1591.6 1328.58l8 8l-8 8l-8 -8zM1595.13 1330.79l8 8l-8 8l-8 -8zM1598.67 1332.95l8 8l-8 8l-8 -8zM1602.2 1335.09l8 8l-8 8l-8 -8zM1605.74 1337.18l8 8l-8 8l-8 -8zM1609.27 1339.24l8 8l-8 8l-8 -8zM1612.8 1341.25l8 8l-8 8l-8 -8zM1616.34 1343.23l8 8l-8 8l-8 -8zM1619.87 1345.17l8 8l-8 8l-8 -8zM1623.41 1347.07l8 8l-8 8l-8 -8zM1626.94 1348.92l8 8l-8 8l-8 -8zM1630.48 1350.74l8 8l-8 8l-8 -8zM1634.01 1352.51l8 8l-8 8l-8 -8zM1637.55 1354.24l8 8l-8 8l-8 -8zM1641.08 1355.92l8 8l-8 8l-8 -8zM1644.62 1357.56l8 8l-8 8l-8 -8zM1648.15 1359.16l8 8l-8 8l-8 -8zM1651.68 1360.7l8 8l-8 8l-8 -8zM1655.22 1362.53l8 8l-8 8l-8 -8zM1658.75 1364.36l8 8l-8 8l-8 -8zM1662.29 1365l8 8l-8 8l-8 -8zM1665.82 1365l8 8l-8 8l-8 -8zM1669.36 1365l8 8l-8 8l-8 -8zM1672.89 1365l8 8l-8 8l-8 -8zM1676.43 1365l8 8l-8 8l-8 -8zM1679.96 1365l8 8l-8 8l-8 -8zM1683.5 1365l8 8l-8 8l-8 -8zM1687.03 1365l8 8l-8 8l-8 -8zM1690.57 1365l8 8l-8 8l-8 -8zM1694.1 1365l8 8l-8 8l-8 -8zM1697.63 1365l8 8l-8 8l-8 -8zM1701.17 1365l8 8l-8 8l-8 -8zM1704.7 1365l8 8l-8 8l-8 -8zM1708.24 1365l8 8l-8 8l-8 -8zM1711.77 1365l8 8l-8 8l-8 -8zM1715.31 1365l8 8l-8 8l-8 -8zM1718.84 1365l8 8l-8 8l-8 -8zM1722.38 1365l8 8l-8 8l-8 -8zM1725.91 1365l8 8l-8 8l-8 -8zM1729.45 1365l8 8l-8 8l-8 -8zM1732.98 1365l8 8l-8 8l-8 -8zM1736.52 1365l8 8l-8 8l-8 -8zM1740.05 1365l8 8l-8 8l-8 -8zM1743.58 1365l8 8l-8 8l-8 -8zM1747.12 1365l8 8l-8 8l-8 -8zM1750.65 1365l8 8l-8 8l-8 -8zM1754.19 1365l8 8l-8 8l-8 -8zM1757.72 1365l8 8l-8 8l-8 -8zM1761.26 1365l8 8l-8 8l-8 -8zM1764.79 1365l8 8l-8 8l-8 -8zM1768.33 1365l8 8l-8 8l-8 -8zM1771.86 1365l8 8l-8 8l-8 -8zM1775.4 1365l8 8l-8 8l-8 -8zM1778.93 1365l8 8l-8 8l-8 -8zM1782.47 1365l8 8l-8 8l-8 -8zM1786 1365l8 8l-8 8l-8 -8zM1789.53 1365l8 8l-8 8l-8 -8zM1793.07 1365l8 8l-8 8l-8 -8zM1796.6 1365l8 8l-8 8l-8 -8zM1800.14 1365l8 8l-8 8l-8 -8zM1803.67 1365l8 8l-8 8l-8 -8zM1807.21 1365l8 8l-8 8l-8 -8zM1810.74 1365l8 8l-8 8l-8 -8zM1814.28 1365l8 8l-8 8l-8 -8zM1817.81 1365l8 8l-8 8l-8 -8zM1821.35 1365l8 8l-8 8l-8 -8zM1824.88 1365l8 8l-8 8l-8 -8zM1828.41 1365l8 8l-8 8l-8 -8zM1831.95 1365l8 8l-8 8l-8 -8z" fill="#C279E2"/>
</g>
<g font-family="Liberation Serif, Times New Roman, serif" fill="#000">
<text x="290.82" y="1504" text-anchor="middle" font-size="63">310</text>
<text x="526.46" y="1504" text-anchor="middle" font-size="63">320</text>
<text x="762.1" y="1504" text-anchor="middle" font-size="63">330</text>
<text x="997.74" y="1504" text-anchor="middle" font-size="63">340</text>
<text x="1233.38" y="1504" text-anchor="middle" font-size="63">350</text>
<text x="1469.02" y="1504" text-anchor="middle" font-size="63">360</text>
<text x="1704.66" y="1504" text-anchor="middle" font-size="63">370</text>
<text x="141" y="1391.3" text-anchor="end" font-size="63">0</text>
<text x="141" y="1127.2" text-anchor="end" font-size="63">1</text>
<text x="141" y="863.1" text-anchor="end" font-size="63">2</text>
<text x="141" y="599" text-anchor="end" font-size="63">3</text>
<text x="141" y="334.9" text-anchor="end" font-size="63">4</text>
<text x="141" y="70.8" text-anchor="end" font-size="63">5</text>
<text x="757" y="1620" font-size="78" textLength="484" lengthAdjust="spacingAndGlyphs" xml:space="preserve">Temperature  K</text>
<text transform="translate(79.5 1043) rotate(-90)" font-size="78" textLength="606" lengthAdjust="spacingAndGlyphs" xml:space="preserve">Heat flow rate  W/g</text>
</g>
<rect x="1433" y="93.3" width="330.8" height="308.4" fill="#fff" stroke="#000" stroke-width="2.3"/>
<path d="M1436 127.9H1482M1505 127.9H1548" stroke="#000" stroke-width="6" fill="none"/>
<path d="M1483.6 117.4h20v21h-20z" fill="#000000"/>
<text x="1561.6" y="144.4" font-size="49" xml:space="preserve">1.0 K/min</text>
<path d="M1436 188.07H1482M1505 188.07H1548" stroke="#000" stroke-width="6" fill="none"/>
<path d="M1482.5 188.07a11.1 11.1 0 1 0 22.2 0a11.1 11.1 0 1 0 -22.2 0z" fill="#FF4040"/>
<text x="1561.6" y="204.57" font-size="49" xml:space="preserve">3.0 K/min</text>
<path d="M1436 248.24H1482M1505 248.24H1548" stroke="#000" stroke-width="6" fill="none"/>
<path d="M1493.6 232.94L1507.1 255.84H1480.1z" fill="#0071E5"/>
<text x="1561.6" y="264.74" font-size="49" xml:space="preserve">5.0 K/min</text>
<path d="M1436 308.41H1482M1505 308.41H1548" stroke="#000" stroke-width="6" fill="none"/>
<path d="M1493.6 323.51L1507.1 300.51H1480.1z" fill="#00AF64"/>
<text x="1561.6" y="324.91" font-size="49" xml:space="preserve">7.0 K/min</text>
<path d="M1436 368.58H1482M1505 368.58H1548" stroke="#000" stroke-width="6" fill="none"/>
<path d="M1493.6 354.78l13.4 13.8l-13.4 13.8l-13.4 -13.8z" fill="#C279E2"/>
<text x="1561.6" y="385.08" font-size="49" xml:space="preserve">9.0 K/min</text>
</svg>
</body></html>
